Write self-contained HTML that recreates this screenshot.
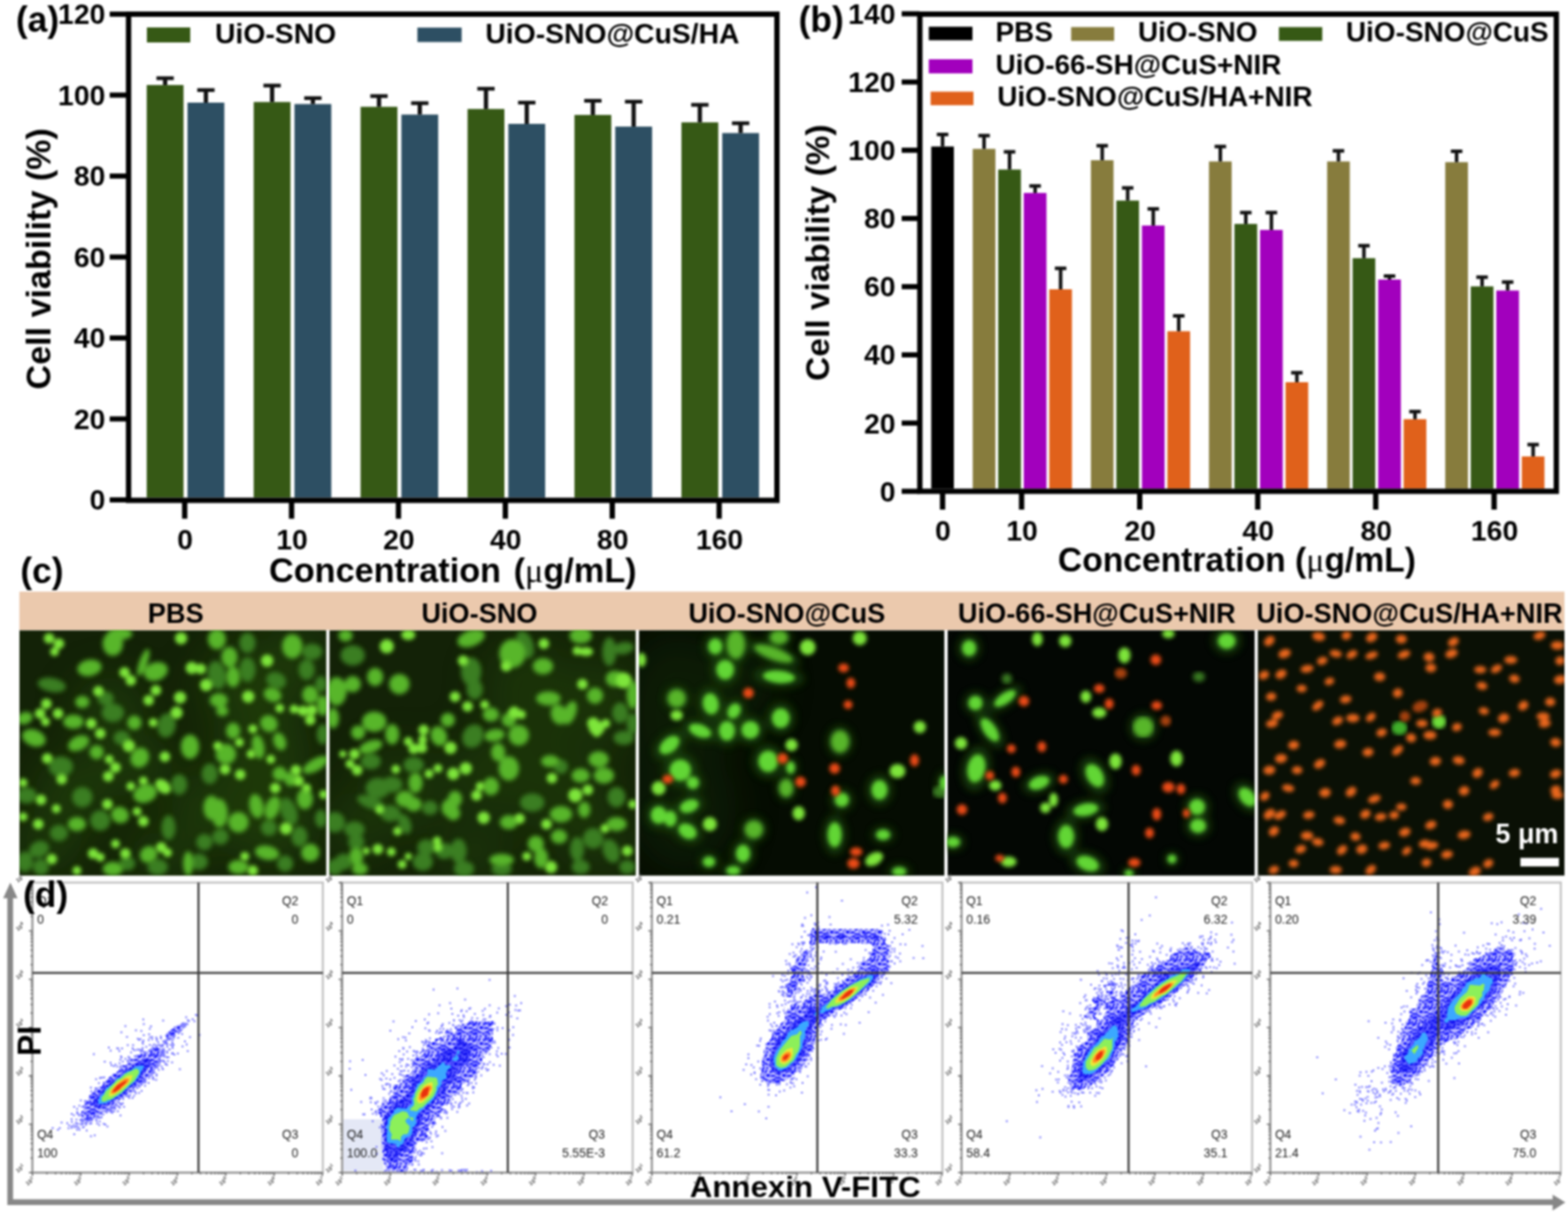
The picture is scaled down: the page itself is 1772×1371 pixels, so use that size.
<!DOCTYPE html>
<html><head><meta charset="utf-8"><title>Figure</title><style>
html,body{margin:0;padding:0;background:#fff;width:1772px;height:1371px;overflow:hidden}
svg{display:block}
#fig{position:absolute;left:0;top:0;width:1772px;height:1371px;filter:blur(0.8px)}
text{font-family:"Liberation Sans",Arial,sans-serif;font-weight:bold}
</style></head><body>
<div id="fig"><svg width="1772" height="1371" viewBox="0 0 1772 1371">
<rect x="165.8" y="96.1" width="41.6" height="466.4" fill="#365915"/>
<rect x="184.2" y="88.4" width="4.8" height="7.7" fill="#111"/>
<rect x="176.8" y="86.3" width="19.6" height="4.2" fill="#111"/>
<rect x="211.9" y="116" width="41.6" height="446.5" fill="#2d4f63"/>
<rect x="230.3" y="101.8" width="4.8" height="14.2" fill="#111"/>
<rect x="222.9" y="99.7" width="19.6" height="4.2" fill="#111"/>
<rect x="286.7" y="115.3" width="41.6" height="447.2" fill="#365915"/>
<rect x="305.1" y="96.7" width="4.8" height="18.6" fill="#111"/>
<rect x="297.7" y="94.6" width="19.6" height="4.2" fill="#111"/>
<rect x="332.8" y="117.6" width="41.6" height="444.9" fill="#2d4f63"/>
<rect x="351.2" y="110.9" width="4.8" height="6.7" fill="#111"/>
<rect x="343.8" y="108.8" width="19.6" height="4.2" fill="#111"/>
<rect x="407.5" y="120.7" width="41.6" height="441.8" fill="#365915"/>
<rect x="425.9" y="108.6" width="4.8" height="12.1" fill="#111"/>
<rect x="418.5" y="106.5" width="19.6" height="4.2" fill="#111"/>
<rect x="453.6" y="129.5" width="41.6" height="433" fill="#2d4f63"/>
<rect x="472" y="116.6" width="4.8" height="12.9" fill="#111"/>
<rect x="464.6" y="114.5" width="19.6" height="4.2" fill="#111"/>
<rect x="528.4" y="123.2" width="41.6" height="439.3" fill="#365915"/>
<rect x="546.8" y="100.3" width="4.8" height="22.9" fill="#111"/>
<rect x="539.4" y="98.2" width="19.6" height="4.2" fill="#111"/>
<rect x="574.5" y="140" width="41.6" height="422.5" fill="#2d4f63"/>
<rect x="592.9" y="116" width="4.8" height="24" fill="#111"/>
<rect x="585.5" y="113.9" width="19.6" height="4.2" fill="#111"/>
<rect x="649.2" y="129.9" width="41.6" height="432.6" fill="#365915"/>
<rect x="667.6" y="113.9" width="4.8" height="16" fill="#111"/>
<rect x="660.2" y="111.8" width="19.6" height="4.2" fill="#111"/>
<rect x="695.3" y="143.1" width="41.6" height="419.4" fill="#2d4f63"/>
<rect x="713.7" y="114.9" width="4.8" height="28.2" fill="#111"/>
<rect x="706.3" y="112.8" width="19.6" height="4.2" fill="#111"/>
<rect x="770.1" y="138.3" width="41.6" height="424.2" fill="#365915"/>
<rect x="788.5" y="118.5" width="4.8" height="19.8" fill="#111"/>
<rect x="781.1" y="116.4" width="19.6" height="4.2" fill="#111"/>
<rect x="816.2" y="150.4" width="41.6" height="412.1" fill="#2d4f63"/>
<rect x="834.6" y="139.3" width="4.8" height="11.1" fill="#111"/>
<rect x="827.2" y="137.2" width="19.6" height="4.2" fill="#111"/>
<rect x="145.3" y="16" width="732.7" height="549.5" fill="none" stroke="#000" stroke-width="6"/>
<rect x="124" y="13.1" width="20" height="5.8" fill="#000"/>
<text x="119" y="27.3" text-anchor="end" font-size="32">120</text>
<rect x="124" y="104.6" width="20" height="5.8" fill="#000"/>
<text x="119" y="118.8" text-anchor="end" font-size="32">100</text>
<rect x="124" y="196.1" width="20" height="5.8" fill="#000"/>
<text x="119" y="210.3" text-anchor="end" font-size="32">80</text>
<rect x="124" y="287.6" width="20" height="5.8" fill="#000"/>
<text x="119" y="301.8" text-anchor="end" font-size="32">60</text>
<rect x="124" y="379.1" width="20" height="5.8" fill="#000"/>
<text x="119" y="393.3" text-anchor="end" font-size="32">40</text>
<rect x="124" y="470.6" width="20" height="5.8" fill="#000"/>
<text x="119" y="484.8" text-anchor="end" font-size="32">20</text>
<rect x="124" y="562.1" width="20" height="5.8" fill="#000"/>
<text x="119" y="576.3" text-anchor="end" font-size="32">0</text>
<rect x="205.7" y="565" width="6" height="21.3" fill="#000"/>
<text x="209.2" y="620.5" text-anchor="middle" font-size="32">0</text>
<rect x="326.5" y="565" width="6" height="21.3" fill="#000"/>
<text x="330" y="620.5" text-anchor="middle" font-size="32">10</text>
<rect x="447.3" y="565" width="6" height="21.3" fill="#000"/>
<text x="450.8" y="620.5" text-anchor="middle" font-size="32">20</text>
<rect x="568.1" y="565" width="6" height="21.3" fill="#000"/>
<text x="571.6" y="620.5" text-anchor="middle" font-size="32">40</text>
<rect x="688.9" y="565" width="6" height="21.3" fill="#000"/>
<text x="692.4" y="620.5" text-anchor="middle" font-size="32">80</text>
<rect x="809.7" y="565" width="6" height="21.3" fill="#000"/>
<text x="813.2" y="620.5" text-anchor="middle" font-size="32">160</text>
<rect x="166" y="31" width="49" height="17" fill="#365915"/>
<text x="243" y="49" font-size="32">UiO-SNO</text>
<rect x="471.7" y="31.2" width="50" height="16.3" fill="#2d4f63"/>
<text x="548.5" y="49" font-size="32">UiO-SNO@CuS/HA</text>
<text x="18" y="36" font-size="40">(a)</text>
<text transform="translate(57,292.5) rotate(-90)" text-anchor="middle" font-size="38.5">Cell viability (%)</text>
<text x="304" y="657.5" font-size="38.7">Concentration <tspan dx="3.5">(</tspan><tspan font-family="Liberation Serif" font-weight="normal">μ</tspan>g/mL)</text>
<rect x="1052.4" y="165.6" width="25.6" height="386.7" fill="#000"/>
<rect x="1063.2" y="152" width="4" height="13.6" fill="#111"/>
<rect x="1058.7" y="150" width="13" height="4" fill="#111"/>
<rect x="1099.3" y="168.3" width="25.6" height="384" fill="#877c3d"/>
<rect x="1110.1" y="153.3" width="4" height="15" fill="#111"/>
<rect x="1105.6" y="151.3" width="13" height="4" fill="#111"/>
<rect x="1128.1" y="191.6" width="25.6" height="360.7" fill="#365915"/>
<rect x="1138.9" y="171.6" width="4" height="20" fill="#111"/>
<rect x="1134.4" y="169.6" width="13" height="4" fill="#111"/>
<rect x="1157" y="218.1" width="25.6" height="334.2" fill="#a200bd"/>
<rect x="1167.8" y="210.2" width="4" height="7.9" fill="#111"/>
<rect x="1163.3" y="208.2" width="13" height="4" fill="#111"/>
<rect x="1185.8" y="327" width="25.6" height="225.3" fill="#e0611b"/>
<rect x="1196.6" y="303.3" width="4" height="23.7" fill="#111"/>
<rect x="1192.1" y="301.3" width="13" height="4" fill="#111"/>
<rect x="1232.8" y="181.1" width="25.6" height="371.2" fill="#877c3d"/>
<rect x="1243.6" y="164.7" width="4" height="16.4" fill="#111"/>
<rect x="1239.1" y="162.7" width="13" height="4" fill="#111"/>
<rect x="1261.6" y="226.7" width="25.6" height="325.6" fill="#365915"/>
<rect x="1272.4" y="212.4" width="4" height="14.3" fill="#111"/>
<rect x="1267.9" y="210.4" width="13" height="4" fill="#111"/>
<rect x="1290.5" y="254.9" width="25.6" height="297.4" fill="#a200bd"/>
<rect x="1301.3" y="236.1" width="4" height="18.8" fill="#111"/>
<rect x="1296.8" y="234.1" width="13" height="4" fill="#111"/>
<rect x="1319.3" y="374.4" width="25.6" height="177.9" fill="#e0611b"/>
<rect x="1330.1" y="357" width="4" height="17.4" fill="#111"/>
<rect x="1325.6" y="355" width="13" height="4" fill="#111"/>
<rect x="1366.3" y="182.5" width="25.6" height="369.8" fill="#877c3d"/>
<rect x="1377.1" y="165.6" width="4" height="16.9" fill="#111"/>
<rect x="1372.6" y="163.6" width="13" height="4" fill="#111"/>
<rect x="1395.1" y="253.1" width="25.6" height="299.2" fill="#365915"/>
<rect x="1405.9" y="240.3" width="4" height="12.8" fill="#111"/>
<rect x="1401.4" y="238.3" width="13" height="4" fill="#111"/>
<rect x="1424" y="259.9" width="25.6" height="292.4" fill="#a200bd"/>
<rect x="1434.8" y="240.3" width="4" height="19.6" fill="#111"/>
<rect x="1430.3" y="238.3" width="13" height="4" fill="#111"/>
<rect x="1452.8" y="432" width="25.6" height="120.3" fill="#e0611b"/>
<rect x="1463.6" y="421.3" width="4" height="10.7" fill="#111"/>
<rect x="1459.1" y="419.3" width="13" height="4" fill="#111"/>
<rect x="1499.8" y="182.5" width="25.6" height="369.8" fill="#877c3d"/>
<rect x="1510.6" y="170.5" width="4" height="12" fill="#111"/>
<rect x="1506.1" y="168.5" width="13" height="4" fill="#111"/>
<rect x="1528.6" y="291.8" width="25.6" height="260.5" fill="#365915"/>
<rect x="1539.4" y="277.7" width="4" height="14.1" fill="#111"/>
<rect x="1534.9" y="275.7" width="13" height="4" fill="#111"/>
<rect x="1557.5" y="316" width="25.6" height="236.3" fill="#a200bd"/>
<rect x="1568.3" y="312" width="4" height="4" fill="#111"/>
<rect x="1563.8" y="310" width="13" height="4" fill="#111"/>
<rect x="1586.3" y="473.8" width="25.6" height="78.5" fill="#e0611b"/>
<rect x="1597.1" y="465.2" width="4" height="8.6" fill="#111"/>
<rect x="1592.6" y="463.2" width="13" height="4" fill="#111"/>
<rect x="1633.3" y="183.3" width="25.6" height="369" fill="#877c3d"/>
<rect x="1644.1" y="171" width="4" height="12.3" fill="#111"/>
<rect x="1639.6" y="169" width="13" height="4" fill="#111"/>
<rect x="1662.1" y="323.7" width="25.6" height="228.6" fill="#365915"/>
<rect x="1672.9" y="313.3" width="4" height="10.4" fill="#111"/>
<rect x="1668.4" y="311.3" width="13" height="4" fill="#111"/>
<rect x="1691" y="328.4" width="25.6" height="223.9" fill="#a200bd"/>
<rect x="1701.8" y="318.8" width="4" height="9.6" fill="#111"/>
<rect x="1697.3" y="316.8" width="13" height="4" fill="#111"/>
<rect x="1719.8" y="515.9" width="25.6" height="36.4" fill="#e0611b"/>
<rect x="1730.6" y="502.5" width="4" height="13.4" fill="#111"/>
<rect x="1726.1" y="500.5" width="13" height="4" fill="#111"/>
<rect x="1039.5" y="16" width="719.3" height="539.3" fill="none" stroke="#000" stroke-width="6"/>
<rect x="1019" y="552.4" width="20" height="5.8" fill="#000"/>
<text x="1012" y="566.6" text-anchor="end" font-size="32">0</text>
<rect x="1019" y="475.3" width="20" height="5.8" fill="#000"/>
<text x="1012" y="489.5" text-anchor="end" font-size="32">20</text>
<rect x="1019" y="398.2" width="20" height="5.8" fill="#000"/>
<text x="1012" y="412.4" text-anchor="end" font-size="32">40</text>
<rect x="1019" y="321.1" width="20" height="5.8" fill="#000"/>
<text x="1012" y="335.3" text-anchor="end" font-size="32">60</text>
<rect x="1019" y="244" width="20" height="5.8" fill="#000"/>
<text x="1012" y="258.2" text-anchor="end" font-size="32">80</text>
<rect x="1019" y="166.9" width="20" height="5.8" fill="#000"/>
<text x="1012" y="181.1" text-anchor="end" font-size="32">100</text>
<rect x="1019" y="89.8" width="20" height="5.8" fill="#000"/>
<text x="1012" y="104" text-anchor="end" font-size="32">120</text>
<rect x="1019" y="12.7" width="20" height="5.8" fill="#000"/>
<text x="1012" y="26.9" text-anchor="end" font-size="32">140</text>
<rect x="1062.2" y="555" width="6" height="21" fill="#000"/>
<text x="1065.7" y="611" text-anchor="middle" font-size="32">0</text>
<rect x="1151.5" y="555" width="6" height="21" fill="#000"/>
<text x="1155" y="611" text-anchor="middle" font-size="32">10</text>
<rect x="1285" y="555" width="6" height="21" fill="#000"/>
<text x="1288.5" y="611" text-anchor="middle" font-size="32">20</text>
<rect x="1418.4" y="555" width="6" height="21" fill="#000"/>
<text x="1421.9" y="611" text-anchor="middle" font-size="32">40</text>
<rect x="1551.7" y="555" width="6" height="21" fill="#000"/>
<text x="1555.2" y="611" text-anchor="middle" font-size="32">80</text>
<rect x="1685.5" y="555" width="6" height="21" fill="#000"/>
<text x="1689" y="611" text-anchor="middle" font-size="32">160</text>
<rect x="1049.6" y="30.2" width="49.4" height="15.3" fill="#000"/>
<text x="1125" y="47" font-size="31.6">PBS</text>
<rect x="1210.5" y="30.6" width="48.6" height="15.6" fill="#877c3d"/>
<text x="1286" y="47" font-size="31.6">UiO-SNO</text>
<rect x="1445.3" y="30.6" width="49" height="15.6" fill="#365915"/>
<text x="1521" y="47" font-size="31.6">UiO-SNO@CuS</text>
<rect x="1049.6" y="67" width="49.4" height="15.9" fill="#a200bd"/>
<text x="1125" y="84" font-size="31.6">UiO-66-SH@CuS+NIR</text>
<rect x="1051.7" y="103.6" width="48.4" height="15.3" fill="#e0611b"/>
<text x="1127" y="120" font-size="31.6">UiO-SNO@CuS/HA+NIR</text>
<text x="902.5" y="36.3" font-size="40">(b)</text>
<text transform="translate(936.5,285.5) rotate(-90)" text-anchor="middle" font-size="37.8">Cell viability (%)</text>
<text x="1195.5" y="645.5" font-size="38">Concentration (<tspan font-family="Liberation Serif" font-weight="normal">μ</tspan>g/mL)</text>
<defs><filter id="cb" x="-2%" y="-2%" width="104%" height="104%"><feGaussianBlur stdDeviation="1.9"/></filter><filter id="hz" x="-30%" y="-30%" width="160%" height="160%"><feGaussianBlur stdDeviation="24"/></filter><filter id="cb2" x="-3%" y="-3%" width="106%" height="106%"><feGaussianBlur stdDeviation="2.8"/></filter><filter id="hl" x="-5%" y="-5%" width="110%" height="110%"><feGaussianBlur stdDeviation="5"/></filter>
<clipPath id="mc0"><rect x="22" y="712.3" width="346.8" height="277.5"/></clipPath>
<clipPath id="mc1"><rect x="372.2" y="712.3" width="346.4" height="277.5"/></clipPath>
<clipPath id="mc2"><rect x="722.1" y="712.3" width="345.3" height="277.5"/></clipPath>
<clipPath id="mc3"><rect x="1070.9" y="712.3" width="347" height="277.5"/></clipPath>
<clipPath id="mc4"><rect x="1421.3" y="712.3" width="346.7" height="277.5"/></clipPath>
</defs>
<rect x="21.9" y="668.7" width="1746.1" height="43.8" fill="#ebc9ad"/>
<rect x="21.9" y="712.3" width="1746.1" height="277.5" fill="#fff"/>
<g clip-path="url(#mc0)">
<rect x="22" y="712.3" width="346.8" height="277.5" fill="#132207"/>
<g filter="url(#hz)" fill="#2a5410" opacity="0.45"><ellipse cx="285.7" cy="773.2" rx="60" ry="50"/><ellipse cx="295.8" cy="854.3" rx="55" ry="60"/><ellipse cx="306" cy="925.3" rx="60" ry="55"/><ellipse cx="224.8" cy="915.1" rx="30" ry="40"/><ellipse cx="123.4" cy="803.6" rx="40" ry="40"/><ellipse cx="82.9" cy="894.9" rx="45" ry="40"/><ellipse cx="153.8" cy="864.4" rx="40" ry="35"/><ellipse cx="52.4" cy="955.7" rx="40" ry="30"/><ellipse cx="184.3" cy="965.8" rx="45" ry="25"/><ellipse cx="336.4" cy="742.7" rx="40" ry="40"/></g>
<g><g fill="#3a7e20" filter="url(#cb2)"><ellipse cx="58.5" cy="774.2" rx="16.1" ry="8" transform="rotate(10 58.5 774.2)"/><ellipse cx="245.1" cy="763" rx="10.3" ry="16.1" transform="rotate(-10 245.1 763)"/><ellipse cx="279.6" cy="726.5" rx="9.2" ry="11.5"/><ellipse cx="279.6" cy="756.9" rx="9.2" ry="13.8"/><ellipse cx="352.6" cy="736.6" rx="11.5" ry="9.2"/><ellipse cx="346.5" cy="756.9" rx="9.2" ry="11.5"/><ellipse cx="312.1" cy="769.1" rx="11.5" ry="9.2" transform="rotate(20 312.1 769.1)"/><ellipse cx="364.8" cy="829.9" rx="6.9" ry="11.5"/><ellipse cx="188.3" cy="819.8" rx="10.3" ry="13.8" transform="rotate(10 188.3 819.8)"/><ellipse cx="137.6" cy="834" rx="9.2" ry="8"/><ellipse cx="127.5" cy="805.6" rx="12.6" ry="10.3"/><ellipse cx="119.4" cy="789.4" rx="9.2" ry="8"/><ellipse cx="68.7" cy="866.5" rx="13.8" ry="11.5"/><ellipse cx="30.1" cy="898.9" rx="11.5" ry="9.2"/><ellipse cx="93" cy="900.9" rx="11.5" ry="11.5"/><ellipse cx="202.5" cy="886.7" rx="9.2" ry="11.5"/><ellipse cx="237" cy="874.6" rx="9.2" ry="11.5"/><ellipse cx="326.3" cy="917.2" rx="9.2" ry="16.1" transform="rotate(-20 326.3 917.2)"/><ellipse cx="113.3" cy="927.3" rx="11.5" ry="11.5"/><ellipse cx="66.6" cy="941.5" rx="10.3" ry="9.2"/><ellipse cx="44.3" cy="959.8" rx="11.5" ry="9.2" transform="rotate(-20 44.3 959.8)"/><ellipse cx="28.1" cy="974" rx="9.2" ry="11.5"/><ellipse cx="46.3" cy="980" rx="9.2" ry="9.2"/><ellipse cx="178.2" cy="980" rx="11.5" ry="9.2"/><ellipse cx="190.4" cy="935.4" rx="8" ry="13.8"/><ellipse cx="322.2" cy="976" rx="9.2" ry="9.2"/><ellipse cx="338.4" cy="945.6" rx="9.2" ry="11.5"/><ellipse cx="303.9" cy="935.4" rx="9.2" ry="9.2"/><ellipse cx="230.9" cy="951.7" rx="9.2" ry="9.2"/><ellipse cx="224.8" cy="974" rx="10.3" ry="9.2"/><ellipse cx="249.2" cy="945.6" rx="9.2" ry="9.2"/><ellipse cx="143.7" cy="976" rx="9.2" ry="8"/><ellipse cx="362.8" cy="925.3" rx="6.9" ry="10.3"/><ellipse cx="362.8" cy="773.2" rx="6.9" ry="9.2"/></g><g fill="#58b62c" filter="url(#cb2)"><ellipse cx="101.1" cy="754.9" rx="13.8" ry="9.2" transform="rotate(-10 101.1 754.9)"/><ellipse cx="127.5" cy="727.5" rx="11.5" ry="13.8"/><ellipse cx="135.6" cy="716.4" rx="13.8" ry="6.9"/><ellipse cx="162" cy="748.8" rx="4.6" ry="16.1" transform="rotate(20 162 748.8)"/><ellipse cx="176.2" cy="759" rx="13.8" ry="10.3" transform="rotate(-20 176.2 759)"/><ellipse cx="245.1" cy="722.4" rx="10.3" ry="11.5"/><ellipse cx="259.3" cy="742.7" rx="9.2" ry="11.5"/><ellipse cx="263.4" cy="765" rx="8" ry="11.5"/><ellipse cx="330.3" cy="730.6" rx="11.5" ry="13.8"/><ellipse cx="308" cy="785.3" rx="10.3" ry="8" transform="rotate(20 308 785.3)"/><ellipse cx="350.6" cy="785.3" rx="9.2" ry="10.3"/><ellipse cx="364.8" cy="797.5" rx="6.9" ry="11.5"/><ellipse cx="247.2" cy="791.4" rx="10.3" ry="8"/><ellipse cx="251.2" cy="803.6" rx="6.9" ry="5.8"/><ellipse cx="303.9" cy="817.8" rx="10.3" ry="9.2" transform="rotate(30 303.9 817.8)"/><ellipse cx="263.4" cy="825.9" rx="8" ry="9.2"/><ellipse cx="316.1" cy="838.1" rx="6.9" ry="10.3" transform="rotate(-20 316.1 838.1)"/><ellipse cx="291.8" cy="844.1" rx="6.9" ry="13.8" transform="rotate(-10 291.8 844.1)"/><ellipse cx="255.3" cy="852.3" rx="11.5" ry="11.5"/><ellipse cx="214.7" cy="844.1" rx="10.3" ry="13.8"/><ellipse cx="151.8" cy="816.8" rx="8" ry="8"/><ellipse cx="157.9" cy="856.3" rx="10.3" ry="11.5" transform="rotate(30 157.9 856.3)"/><ellipse cx="93" cy="793.4" rx="8" ry="6.9"/><ellipse cx="82.9" cy="815.7" rx="11.5" ry="8"/><ellipse cx="38.2" cy="834" rx="13.8" ry="9.2" transform="rotate(20 38.2 834)"/><ellipse cx="28.1" cy="811.7" rx="9.2" ry="6.9" transform="rotate(-20 28.1 811.7)"/><ellipse cx="88.9" cy="840.1" rx="12.6" ry="8" transform="rotate(-25 88.9 840.1)"/><ellipse cx="109.2" cy="850.2" rx="8" ry="8"/><ellipse cx="164" cy="896.9" rx="13.8" ry="10.3" transform="rotate(-20 164 896.9)"/><ellipse cx="239" cy="913.1" rx="9.2" ry="13.8"/><ellipse cx="248.2" cy="919.2" rx="9.2" ry="16.1"/><ellipse cx="269.5" cy="929.3" rx="11.5" ry="11.5"/><ellipse cx="289.7" cy="911.1" rx="8" ry="13.8" transform="rotate(-10 289.7 911.1)"/><ellipse cx="308" cy="913.1" rx="8" ry="13.8" transform="rotate(20 308 913.1)"/><ellipse cx="344.5" cy="903" rx="9.2" ry="11.5"/><ellipse cx="356.7" cy="864.4" rx="16.1" ry="6.9" transform="rotate(-30 356.7 864.4)"/><ellipse cx="316.1" cy="874.6" rx="8" ry="8"/><ellipse cx="328.3" cy="880.7" rx="6.9" ry="8"/><ellipse cx="135.6" cy="921.2" rx="10.3" ry="9.2" transform="rotate(20 135.6 921.2)"/><ellipse cx="86.9" cy="931.4" rx="10.3" ry="8"/><ellipse cx="127.5" cy="982.1" rx="11.5" ry="8"/><ellipse cx="168" cy="965.8" rx="10.3" ry="9.2" transform="rotate(-30 168 965.8)"/><ellipse cx="212.7" cy="976" rx="5.8" ry="13.8"/><ellipse cx="301.9" cy="963.8" rx="13.8" ry="8" transform="rotate(10 301.9 963.8)"/><ellipse cx="269.5" cy="980" rx="11.5" ry="8"/><ellipse cx="350.6" cy="963.8" rx="10.3" ry="10.3"/></g><g fill="#7ee63a" filter="url(#cb)"><ellipse cx="55.5" cy="721.4" rx="6" ry="6"/><ellipse cx="66.6" cy="727.5" rx="6" ry="6"/><ellipse cx="61.6" cy="736.6" rx="5" ry="5"/><ellipse cx="204.6" cy="721.4" rx="7" ry="7"/><ellipse cx="140.7" cy="760" rx="6" ry="6"/><ellipse cx="147.8" cy="769.1" rx="6" ry="6"/><ellipse cx="111.2" cy="781.3" rx="6" ry="6"/><ellipse cx="52.4" cy="795.5" rx="6" ry="6"/><ellipse cx="45.3" cy="806.6" rx="6" ry="6"/><ellipse cx="65.6" cy="806.6" rx="6" ry="6"/><ellipse cx="51.4" cy="815.7" rx="5" ry="5"/><ellipse cx="103.1" cy="817.8" rx="6" ry="6"/><ellipse cx="113.3" cy="828.9" rx="6" ry="6"/><ellipse cx="145.7" cy="843.1" rx="7" ry="7"/><ellipse cx="123.4" cy="858.3" rx="5" ry="5"/><ellipse cx="130.5" cy="867.5" rx="6" ry="6"/><ellipse cx="122.4" cy="877.6" rx="6" ry="6"/><ellipse cx="53.4" cy="857.3" rx="6" ry="6"/><ellipse cx="69.7" cy="880.7" rx="6" ry="6"/><ellipse cx="168" cy="791.4" rx="6" ry="6"/><ellipse cx="176.2" cy="780.3" rx="6" ry="6"/><ellipse cx="203.5" cy="788.4" rx="7" ry="7"/><ellipse cx="199.5" cy="805.6" rx="7" ry="7"/><ellipse cx="173.1" cy="816.8" rx="5" ry="5"/><ellipse cx="216.7" cy="754.9" rx="7" ry="7"/><ellipse cx="226.9" cy="755.9" rx="6" ry="6"/><ellipse cx="233" cy="774.2" rx="7" ry="7"/><ellipse cx="301.9" cy="746.8" rx="7" ry="7"/><ellipse cx="280.6" cy="787.4" rx="7" ry="7"/><ellipse cx="316.1" cy="800.5" rx="5" ry="5"/><ellipse cx="332.3" cy="801.5" rx="5" ry="5"/><ellipse cx="342.5" cy="803.6" rx="6" ry="6"/><ellipse cx="352.6" cy="802.6" rx="6" ry="6"/><ellipse cx="350.6" cy="813.7" rx="6" ry="6"/><ellipse cx="285.7" cy="823.9" rx="5" ry="5"/><ellipse cx="270.5" cy="839.1" rx="5" ry="5"/><ellipse cx="246.1" cy="843.1" rx="5" ry="5"/><ellipse cx="283.7" cy="852.3" rx="5" ry="5"/><ellipse cx="306" cy="858.3" rx="5" ry="5"/><ellipse cx="254.3" cy="869.5" rx="6" ry="6"/><ellipse cx="271.5" cy="875.6" rx="6" ry="6"/><ellipse cx="334.4" cy="870.5" rx="6" ry="6"/><ellipse cx="337.4" cy="882.7" rx="6" ry="6"/><ellipse cx="311" cy="890.8" rx="6" ry="6"/><ellipse cx="365.8" cy="897.9" rx="5" ry="5"/><ellipse cx="323.2" cy="936.4" rx="7" ry="7"/><ellipse cx="186.3" cy="855.3" rx="6" ry="6"/><ellipse cx="162" cy="882.7" rx="5" ry="5"/><ellipse cx="147.8" cy="888.8" rx="5" ry="5"/><ellipse cx="121.4" cy="909.1" rx="6" ry="6"/><ellipse cx="63.6" cy="914.1" rx="5" ry="5"/><ellipse cx="46.3" cy="904" rx="6" ry="6"/><ellipse cx="43.3" cy="931.4" rx="6" ry="6"/><ellipse cx="26.1" cy="923.3" rx="5" ry="5"/><ellipse cx="162" cy="928.3" rx="6" ry="6"/><ellipse cx="154.9" cy="917.2" rx="5" ry="5"/><ellipse cx="58.5" cy="970.9" rx="6" ry="6"/><ellipse cx="86.9" cy="984.1" rx="5" ry="5"/><ellipse cx="105.2" cy="964.8" rx="6" ry="6"/><ellipse cx="113.3" cy="968.9" rx="5" ry="5"/><ellipse cx="130.5" cy="953.7" rx="5" ry="5"/><ellipse cx="141.7" cy="964.8" rx="6" ry="6"/><ellipse cx="182.2" cy="957.7" rx="6" ry="6"/><ellipse cx="189.3" cy="963.8" rx="5" ry="5"/><ellipse cx="276.6" cy="967.9" rx="5" ry="5"/><ellipse cx="285.7" cy="984.1" rx="6" ry="6"/><ellipse cx="26.1" cy="884.7" rx="5" ry="5"/><ellipse cx="346.5" cy="890.8" rx="5" ry="5"/><ellipse cx="184.3" cy="888.8" rx="10" ry="7" transform="rotate(40 184.3 888.8)"/></g></g>
</g>
<g clip-path="url(#mc1)">
<rect x="372.2" y="712.3" width="346.4" height="277.5" fill="#132207"/>
<g filter="url(#hz)" fill="#2a5410" opacity="0.35"><ellipse cx="595.3" cy="773.2" rx="50" ry="50"/><ellipse cx="676.5" cy="793.4" rx="50" ry="50"/><ellipse cx="453.3" cy="894.9" rx="50" ry="50"/><ellipse cx="554.8" cy="874.6" rx="50" ry="50"/><ellipse cx="635.9" cy="894.9" rx="60" ry="50"/><ellipse cx="676.5" cy="955.7" rx="50" ry="30"/><ellipse cx="534.5" cy="965.8" rx="50" ry="30"/><ellipse cx="402.6" cy="935.4" rx="40" ry="40"/><ellipse cx="595.3" cy="834" rx="40" ry="40"/></g>
<g><g fill="#3a7e20" filter="url(#cb2)"><ellipse cx="398.6" cy="740.7" rx="13.8" ry="11.5"/><ellipse cx="418.9" cy="860.4" rx="11.5" ry="9.2"/><ellipse cx="427" cy="890.8" rx="13.8" ry="11.5"/><ellipse cx="443.2" cy="886.7" rx="11.5" ry="9.2"/><ellipse cx="467.5" cy="864.4" rx="11.5" ry="9.2"/><ellipse cx="418.9" cy="907" rx="16.1" ry="6.9" transform="rotate(20 418.9 907)"/><ellipse cx="441.2" cy="919.2" rx="11.5" ry="9.2"/><ellipse cx="457.4" cy="931.4" rx="6.9" ry="11.5" transform="rotate(-20 457.4 931.4)"/><ellipse cx="378.3" cy="929.3" rx="11.5" ry="11.5"/><ellipse cx="400.6" cy="937.5" rx="11.5" ry="9.2"/><ellipse cx="402.6" cy="951.7" rx="9.2" ry="9.2"/><ellipse cx="388.4" cy="974" rx="10.3" ry="9.2"/><ellipse cx="378.3" cy="980" rx="9.2" ry="9.2"/><ellipse cx="481.7" cy="957.7" rx="10.3" ry="9.2"/><ellipse cx="477.7" cy="974" rx="11.5" ry="10.3"/><ellipse cx="502" cy="961.8" rx="10.3" ry="9.2"/><ellipse cx="518.2" cy="961.8" rx="9.2" ry="13.8"/><ellipse cx="524.3" cy="982.1" rx="11.5" ry="9.2"/><ellipse cx="532.4" cy="759" rx="11.5" ry="16.1"/><ellipse cx="536.5" cy="779.2" rx="9.2" ry="11.5"/><ellipse cx="534.5" cy="832" rx="11.5" ry="13.8" transform="rotate(30 534.5 832)"/><ellipse cx="593.3" cy="728.5" rx="9.2" ry="16.1" transform="rotate(-20 593.3 728.5)"/><ellipse cx="688.6" cy="736.6" rx="8" ry="16.1"/><ellipse cx="704.9" cy="732.6" rx="11.5" ry="6.9" transform="rotate(-10 704.9 732.6)"/><ellipse cx="700.8" cy="805.6" rx="9.2" ry="11.5"/><ellipse cx="715" cy="817.8" rx="6.9" ry="11.5"/><ellipse cx="704.9" cy="834" rx="11.5" ry="8"/><ellipse cx="633.9" cy="866.5" rx="8" ry="8"/><ellipse cx="601.4" cy="907" rx="13.8" ry="10.3"/><ellipse cx="696.7" cy="900.9" rx="10.3" ry="11.5"/><ellipse cx="652.1" cy="959.8" rx="8" ry="13.8"/><ellipse cx="670.4" cy="947.6" rx="11.5" ry="11.5"/><ellipse cx="690.7" cy="961.8" rx="9.2" ry="13.8" transform="rotate(-20 690.7 961.8)"/><ellipse cx="566.9" cy="982.1" rx="11.5" ry="8"/><ellipse cx="656.2" cy="980" rx="10.3" ry="8"/><ellipse cx="708.9" cy="980" rx="9.2" ry="8"/><ellipse cx="485.8" cy="913.1" rx="9.2" ry="8"/></g><g fill="#58b62c" filter="url(#cb2)"><ellipse cx="390.5" cy="718.4" rx="8" ry="6.9"/><ellipse cx="672.4" cy="786.3" rx="9.2" ry="9.2"/><ellipse cx="694.7" cy="767.1" rx="10.3" ry="9.2"/><ellipse cx="398.6" cy="773.2" rx="9.2" ry="9.2"/><ellipse cx="423.9" cy="765" rx="9.2" ry="10.3"/><ellipse cx="554.8" cy="807.6" rx="9.2" ry="8"/><ellipse cx="506.1" cy="813.7" rx="8" ry="8"/><ellipse cx="586.2" cy="831" rx="11.5" ry="11.5"/><ellipse cx="558.8" cy="831" rx="11.5" ry="6.9" transform="rotate(-10 558.8 831)"/><ellipse cx="512.2" cy="919.2" rx="8" ry="8"/><ellipse cx="404.7" cy="827.9" rx="8" ry="8"/><ellipse cx="380.3" cy="781.3" rx="11.5" ry="16.1"/><ellipse cx="376.3" cy="811.7" rx="6.9" ry="11.5"/><ellipse cx="422.9" cy="815.7" rx="13.8" ry="11.5"/><ellipse cx="443.2" cy="829.9" rx="8" ry="11.5"/><ellipse cx="451.3" cy="773.2" rx="11.5" ry="11.5"/><ellipse cx="418.9" cy="844.1" rx="13.8" ry="6.9" transform="rotate(-20 418.9 844.1)"/><ellipse cx="469.6" cy="884.7" rx="8" ry="11.5"/><ellipse cx="457.4" cy="903" rx="10.3" ry="9.2"/><ellipse cx="467.5" cy="909.1" rx="9.2" ry="8"/><ellipse cx="402.6" cy="967.9" rx="8" ry="10.3"/><ellipse cx="406.7" cy="982.1" rx="9.2" ry="6.9"/><ellipse cx="495.9" cy="832" rx="9.2" ry="11.5" transform="rotate(-20 495.9 832)"/><ellipse cx="532.4" cy="721.4" rx="16.1" ry="9.2" transform="rotate(-20 532.4 721.4)"/><ellipse cx="508.1" cy="913.1" rx="9.2" ry="10.3"/><ellipse cx="514.2" cy="903" rx="8" ry="9.2"/><ellipse cx="562.9" cy="850.2" rx="8" ry="10.3"/><ellipse cx="575" cy="868.5" rx="11.5" ry="13.8"/><ellipse cx="579.1" cy="738.7" rx="14.9" ry="16.1"/><ellipse cx="613.6" cy="752.9" rx="11.5" ry="9.2"/><ellipse cx="619.7" cy="789.4" rx="13.8" ry="8"/><ellipse cx="631.8" cy="807.6" rx="9.2" ry="11.5" transform="rotate(-20 631.8 807.6)"/><ellipse cx="644" cy="805.6" rx="6.9" ry="13.8" transform="rotate(20 644 805.6)"/><ellipse cx="656.2" cy="718.4" rx="12.6" ry="9.2"/><ellipse cx="715" cy="785.3" rx="6.9" ry="16.1"/><ellipse cx="676.5" cy="858.3" rx="11.5" ry="9.2"/><ellipse cx="682.5" cy="876.6" rx="11.5" ry="9.2"/><ellipse cx="656.2" cy="876.6" rx="10.3" ry="8"/><ellipse cx="621.7" cy="860.4" rx="10.3" ry="6.9"/><ellipse cx="633.9" cy="920.2" rx="12.6" ry="9.2"/><ellipse cx="660.2" cy="915.1" rx="6.9" ry="9.2"/><ellipse cx="696.7" cy="931.4" rx="11.5" ry="8"/><ellipse cx="631.8" cy="945.6" rx="9.2" ry="8"/><ellipse cx="605.5" cy="953.7" rx="9.2" ry="9.2"/><ellipse cx="611.6" cy="969.9" rx="8" ry="11.5"/><ellipse cx="566.9" cy="971.9" rx="13.8" ry="6.9"/><ellipse cx="575" cy="929.3" rx="10.3" ry="8"/><ellipse cx="554.8" cy="888.8" rx="9.2" ry="10.3"/><ellipse cx="575" cy="813.7" rx="8" ry="8"/></g><g fill="#7ee63a" filter="url(#cb)"><ellipse cx="437.1" cy="730.6" rx="8" ry="8"/><ellipse cx="523.3" cy="746.8" rx="6" ry="6"/><ellipse cx="572" cy="752.9" rx="6" ry="6"/><ellipse cx="614.6" cy="727.5" rx="6" ry="6"/><ellipse cx="652.1" cy="735.6" rx="5" ry="5"/><ellipse cx="658.2" cy="736.6" rx="4" ry="4"/><ellipse cx="658.2" cy="773.2" rx="6" ry="6"/><ellipse cx="514.2" cy="787.4" rx="6" ry="6"/><ellipse cx="528.4" cy="798.5" rx="6" ry="6"/><ellipse cx="547.7" cy="796.5" rx="5" ry="5"/><ellipse cx="581.1" cy="805.6" rx="7" ry="7"/><ellipse cx="589.2" cy="807.6" rx="5" ry="5"/><ellipse cx="670.4" cy="817.8" rx="7" ry="7"/><ellipse cx="684.6" cy="817.8" rx="5" ry="5"/><ellipse cx="674.4" cy="827.9" rx="5" ry="5"/><ellipse cx="478.7" cy="824.9" rx="6" ry="6"/><ellipse cx="461.4" cy="838.1" rx="5" ry="5"/><ellipse cx="467.5" cy="846.2" rx="6" ry="6"/><ellipse cx="476.7" cy="845.2" rx="6" ry="6"/><ellipse cx="477.7" cy="836" rx="5" ry="5"/><ellipse cx="509.1" cy="845.2" rx="7" ry="7"/><ellipse cx="387.4" cy="852.3" rx="4" ry="4"/><ellipse cx="400.6" cy="852.3" rx="6" ry="6"/><ellipse cx="395.5" cy="863.4" rx="5" ry="5"/><ellipse cx="403.6" cy="870.5" rx="6" ry="6"/><ellipse cx="447.3" cy="869.5" rx="5" ry="5"/><ellipse cx="484.8" cy="874.6" rx="5" ry="5"/><ellipse cx="494.9" cy="868.5" rx="5" ry="5"/><ellipse cx="512.2" cy="874.6" rx="7" ry="7"/><ellipse cx="526.4" cy="868.5" rx="7" ry="7"/><ellipse cx="623.7" cy="879.6" rx="6" ry="6"/><ellipse cx="542.6" cy="888.8" rx="5" ry="5"/><ellipse cx="538.5" cy="898.9" rx="6" ry="6"/><ellipse cx="650.1" cy="898.9" rx="8" ry="8"/><ellipse cx="664.3" cy="892.8" rx="6" ry="6"/><ellipse cx="546.6" cy="924.3" rx="7" ry="7"/><ellipse cx="587.2" cy="925.3" rx="6" ry="6"/><ellipse cx="617.6" cy="931.4" rx="6" ry="6"/><ellipse cx="715" cy="909.1" rx="5" ry="5"/><ellipse cx="683.6" cy="936.4" rx="5" ry="5"/><ellipse cx="493.9" cy="950.6" rx="5" ry="5"/><ellipse cx="494.9" cy="957.7" rx="5" ry="5"/><ellipse cx="449.3" cy="939.5" rx="5" ry="5"/><ellipse cx="427" cy="959.8" rx="6" ry="6"/><ellipse cx="413.8" cy="961.8" rx="4" ry="4"/><ellipse cx="442.2" cy="962.8" rx="5" ry="5"/><ellipse cx="461.4" cy="967.9" rx="4" ry="4"/><ellipse cx="454.4" cy="977" rx="5" ry="5"/><ellipse cx="595.3" cy="967.9" rx="5" ry="5"/><ellipse cx="622.7" cy="980" rx="7" ry="7"/><ellipse cx="708.9" cy="961.8" rx="6" ry="6"/><ellipse cx="429" cy="915.1" rx="5" ry="5"/><ellipse cx="461.4" cy="717.4" rx="8" ry="6"/><ellipse cx="662.3" cy="736.6" rx="8" ry="5"/><ellipse cx="704.9" cy="769.1" rx="9" ry="9"/><ellipse cx="674.4" cy="822.8" rx="9" ry="8"/></g></g>
</g>
<g clip-path="url(#mc2)">
<rect x="722.1" y="712.3" width="345.3" height="277.5" fill="#050c02"/>
<g filter="url(#hz)" fill="#1a3a10" opacity="0.35"><ellipse cx="762.7" cy="803.6" rx="60" ry="90"/><ellipse cx="772.8" cy="915.1" rx="60" ry="70"/><ellipse cx="833.7" cy="773.2" rx="40" ry="50"/></g>
<g filter="url(#hl)" fill="#1d4a10" opacity="0.8"><ellipse cx="808.3" cy="730.6" rx="12.8" ry="14.4"/><ellipse cx="831.6" cy="728.5" rx="14.4" ry="22.4"/><ellipse cx="880.3" cy="720.4" rx="14.4" ry="11.2"/><ellipse cx="874.2" cy="738.7" rx="32" ry="9.6" transform="rotate(20 874.2 738.7)"/><ellipse cx="819.5" cy="756.9" rx="16" ry="17.6"/><ellipse cx="880.3" cy="765" rx="28.8" ry="11.2" transform="rotate(5 880.3 765)"/><ellipse cx="764.7" cy="789.4" rx="14.4" ry="14.4"/><ellipse cx="803.2" cy="795.5" rx="14.4" ry="19.2" transform="rotate(-10 803.2 795.5)"/><ellipse cx="829.6" cy="803.6" rx="11.2" ry="14.4" transform="rotate(30 829.6 803.6)"/><ellipse cx="791.1" cy="825.9" rx="20.8" ry="11.2" transform="rotate(20 791.1 825.9)"/><ellipse cx="821.5" cy="825.9" rx="14.4" ry="17.6"/><ellipse cx="847.9" cy="824.9" rx="16" ry="16"/><ellipse cx="882.3" cy="811.7" rx="16" ry="17.6"/><ellipse cx="756.6" cy="842.1" rx="20.8" ry="12.8" transform="rotate(-40 756.6 842.1)"/><ellipse cx="949.3" cy="838.1" rx="14.4" ry="17.6"/><ellipse cx="868.1" cy="860.4" rx="17.6" ry="19.2"/><ellipse cx="893.5" cy="867.5" rx="8" ry="11.2"/><ellipse cx="768.8" cy="870.5" rx="19.2" ry="19.2"/><ellipse cx="783" cy="884.7" rx="11.2" ry="11.2"/><ellipse cx="888.4" cy="890.8" rx="11.2" ry="14.4"/><ellipse cx="993.9" cy="892.8" rx="14.4" ry="17.6"/><ellipse cx="951.3" cy="904" rx="12.8" ry="12.8"/><ellipse cx="778.9" cy="911.1" rx="17.6" ry="11.2" transform="rotate(-20 778.9 911.1)"/><ellipse cx="744.4" cy="921.2" rx="14.4" ry="16"/><ellipse cx="757.6" cy="925.3" rx="11.2" ry="14.4"/><ellipse cx="776.9" cy="939.5" rx="17.6" ry="12.8" transform="rotate(30 776.9 939.5)"/><ellipse cx="851.9" cy="937.5" rx="14.4" ry="14.4"/><ellipse cx="943.2" cy="943.5" rx="12.8" ry="22.4"/><ellipse cx="998" cy="943.5" rx="12.8" ry="9.6"/><ellipse cx="839.7" cy="964.8" rx="12.8" ry="16"/><ellipse cx="801.2" cy="974" rx="11.2" ry="9.6"/><ellipse cx="828.6" cy="984.1" rx="12.8" ry="8"/><ellipse cx="1016.2" cy="985.1" rx="12.8" ry="8"/><ellipse cx="1066.9" cy="884.7" rx="8" ry="12.8"/></g>
<g><g fill="#3a7e20" filter="url(#cb2)"><ellipse cx="1062.9" cy="894.9" rx="9.2" ry="6.9"/></g><g fill="#58b62c" filter="url(#cb2)"><ellipse cx="831.6" cy="728.5" rx="10.3" ry="16.1"/><ellipse cx="880.3" cy="720.4" rx="10.3" ry="8"/><ellipse cx="874.2" cy="738.7" rx="23" ry="6.9" transform="rotate(20 874.2 738.7)"/><ellipse cx="764.7" cy="789.4" rx="10.3" ry="10.3"/><ellipse cx="949.3" cy="838.1" rx="10.3" ry="12.6"/><ellipse cx="888.4" cy="890.8" rx="8" ry="10.3"/><ellipse cx="851.9" cy="937.5" rx="10.3" ry="10.3"/></g><g fill="#62d634" filter="url(#cb)"><ellipse cx="808.3" cy="730.6" rx="8" ry="9"/><ellipse cx="819.5" cy="756.9" rx="10" ry="11"/><ellipse cx="880.3" cy="765" rx="18" ry="7" transform="rotate(5 880.3 765)"/><ellipse cx="803.2" cy="795.5" rx="9" ry="12" transform="rotate(-10 803.2 795.5)"/><ellipse cx="829.6" cy="803.6" rx="7" ry="9" transform="rotate(30 829.6 803.6)"/><ellipse cx="791.1" cy="825.9" rx="13" ry="7" transform="rotate(20 791.1 825.9)"/><ellipse cx="821.5" cy="825.9" rx="9" ry="11"/><ellipse cx="847.9" cy="824.9" rx="10" ry="10"/><ellipse cx="882.3" cy="811.7" rx="10" ry="11"/><ellipse cx="756.6" cy="842.1" rx="13" ry="8" transform="rotate(-40 756.6 842.1)"/><ellipse cx="868.1" cy="860.4" rx="11" ry="12"/><ellipse cx="893.5" cy="867.5" rx="5" ry="7"/><ellipse cx="768.8" cy="870.5" rx="12" ry="12"/><ellipse cx="783" cy="884.7" rx="7" ry="7"/><ellipse cx="993.9" cy="892.8" rx="9" ry="11"/><ellipse cx="951.3" cy="904" rx="8" ry="8"/><ellipse cx="778.9" cy="911.1" rx="11" ry="7" transform="rotate(-20 778.9 911.1)"/><ellipse cx="744.4" cy="921.2" rx="9" ry="10"/><ellipse cx="757.6" cy="925.3" rx="7" ry="9"/><ellipse cx="776.9" cy="939.5" rx="11" ry="8" transform="rotate(30 776.9 939.5)"/><ellipse cx="943.2" cy="943.5" rx="8" ry="14"/><ellipse cx="998" cy="943.5" rx="8" ry="6"/><ellipse cx="839.7" cy="964.8" rx="8" ry="10"/><ellipse cx="801.2" cy="974" rx="7" ry="6"/><ellipse cx="828.6" cy="984.1" rx="8" ry="5"/><ellipse cx="1016.2" cy="985.1" rx="8" ry="5"/><ellipse cx="1066.9" cy="884.7" rx="5" ry="8"/></g><g fill="#7ee63a" filter="url(#cb)"><ellipse cx="912.8" cy="731.6" rx="9" ry="9"/><ellipse cx="971.6" cy="721.4" rx="8" ry="8"/><ellipse cx="725.1" cy="745.8" rx="5" ry="8"/><ellipse cx="764.7" cy="808.6" rx="7" ry="6"/><ellipse cx="894.5" cy="842.1" rx="7" ry="7"/><ellipse cx="1039.5" cy="821.8" rx="7" ry="7"/><ellipse cx="744.4" cy="890.8" rx="8" ry="8"/><ellipse cx="1014.2" cy="871.5" rx="9" ry="8"/><ellipse cx="802.2" cy="931.4" rx="8" ry="8"/><ellipse cx="902.6" cy="919.2" rx="7" ry="8"/><ellipse cx="987.8" cy="970.9" rx="11" ry="7" transform="rotate(-30 987.8 970.9)"/></g><g fill="#ee4c16" filter="url(#cb)"><ellipse cx="953.3" cy="754.9" rx="6" ry="5"/><ellipse cx="961.5" cy="772.1" rx="5" ry="6"/><ellipse cx="958.4" cy="796.5" rx="5" ry="5"/><ellipse cx="845.8" cy="783.3" rx="6" ry="6"/><ellipse cx="884.4" cy="857.3" rx="6" ry="6"/><ellipse cx="904.7" cy="883.7" rx="6" ry="6"/><ellipse cx="943.2" cy="868.5" rx="6" ry="6"/><ellipse cx="944.2" cy="893.8" rx="5" ry="6"/><ellipse cx="754.6" cy="880.7" rx="6" ry="5"/><ellipse cx="1033.5" cy="859.4" rx="5" ry="7"/><ellipse cx="967.5" cy="962.8" rx="7" ry="5"/><ellipse cx="964.5" cy="976" rx="7" ry="6"/></g></g>
</g>
<g clip-path="url(#mc3)">
<rect x="1070.9" y="712.3" width="347" height="277.5" fill="#030703"/>
<g filter="url(#hl)" fill="#1d4a10" opacity="0.8"><ellipse cx="1095.2" cy="732.6" rx="12.8" ry="14.4"/><ellipse cx="1386.3" cy="724.5" rx="16" ry="14.4"/><ellipse cx="1102.3" cy="794.5" rx="12.8" ry="12.8"/><ellipse cx="1135.8" cy="789.4" rx="22.4" ry="9.6" transform="rotate(-35 1135.8 789.4)"/><ellipse cx="1118.6" cy="824.9" rx="11.2" ry="24" transform="rotate(-35 1118.6 824.9)"/><ellipse cx="1292" cy="821.8" rx="16" ry="16"/><ellipse cx="1103.4" cy="868.5" rx="16" ry="25.6" transform="rotate(10 1103.4 868.5)"/><ellipse cx="1174.3" cy="884.7" rx="19.2" ry="11.2" transform="rotate(-20 1174.3 884.7)"/><ellipse cx="1237.2" cy="876.6" rx="14.4" ry="22.4" transform="rotate(-30 1237.2 876.6)"/><ellipse cx="1409.6" cy="900.9" rx="12.8" ry="19.2" transform="rotate(-40 1409.6 900.9)"/><ellipse cx="1227.1" cy="915.1" rx="22.4" ry="11.2" transform="rotate(-10 1227.1 915.1)"/><ellipse cx="1352.8" cy="912.1" rx="14.4" ry="14.4"/><ellipse cx="1353.9" cy="933.4" rx="14.4" ry="12.8"/><ellipse cx="1204.8" cy="945.6" rx="14.4" ry="20.8"/><ellipse cx="1077" cy="951.7" rx="12.8" ry="9.6"/><ellipse cx="1229.1" cy="976" rx="20.8" ry="12.8" transform="rotate(20 1229.1 976)"/><ellipse cx="1324.4" cy="970.9" rx="8" ry="8"/><ellipse cx="1275.8" cy="987.1" rx="8" ry="6.4"/></g>
<g><g fill="#3a7e20" filter="url(#cb2)"><ellipse cx="1137.8" cy="767.1" rx="5.8" ry="5.8"/><ellipse cx="1354.9" cy="765" rx="6.9" ry="5.8"/></g><g fill="#58b62c" filter="url(#cb2)"><ellipse cx="1292" cy="821.8" rx="11.5" ry="11.5"/></g><g fill="#62d634" filter="url(#cb)"><ellipse cx="1095.2" cy="732.6" rx="8" ry="9"/><ellipse cx="1386.3" cy="724.5" rx="10" ry="9"/><ellipse cx="1102.3" cy="794.5" rx="8" ry="8"/><ellipse cx="1135.8" cy="789.4" rx="14" ry="6" transform="rotate(-35 1135.8 789.4)"/><ellipse cx="1118.6" cy="824.9" rx="7" ry="15" transform="rotate(-35 1118.6 824.9)"/><ellipse cx="1103.4" cy="868.5" rx="10" ry="16" transform="rotate(10 1103.4 868.5)"/><ellipse cx="1174.3" cy="884.7" rx="12" ry="7" transform="rotate(-20 1174.3 884.7)"/><ellipse cx="1237.2" cy="876.6" rx="9" ry="14" transform="rotate(-30 1237.2 876.6)"/><ellipse cx="1409.6" cy="900.9" rx="8" ry="12" transform="rotate(-40 1409.6 900.9)"/><ellipse cx="1227.1" cy="915.1" rx="14" ry="7" transform="rotate(-10 1227.1 915.1)"/><ellipse cx="1352.8" cy="912.1" rx="9" ry="9"/><ellipse cx="1353.9" cy="933.4" rx="9" ry="8"/><ellipse cx="1204.8" cy="945.6" rx="9" ry="13"/><ellipse cx="1077" cy="951.7" rx="8" ry="6"/><ellipse cx="1229.1" cy="976" rx="13" ry="8" transform="rotate(20 1229.1 976)"/><ellipse cx="1324.4" cy="970.9" rx="5" ry="5"/><ellipse cx="1275.8" cy="987.1" rx="5" ry="4"/></g><g fill="#7ee63a" filter="url(#cb)"><ellipse cx="1172.3" cy="722.4" rx="6" ry="8"/><ellipse cx="1203.8" cy="724.5" rx="7" ry="7"/><ellipse cx="1270.7" cy="740.7" rx="7" ry="9"/><ellipse cx="1320.4" cy="716.4" rx="7" ry="5"/><ellipse cx="1227.1" cy="787.4" rx="6" ry="7"/><ellipse cx="1242.3" cy="805.6" rx="8" ry="6"/><ellipse cx="1086.1" cy="840.1" rx="7" ry="7"/><ellipse cx="1124.7" cy="887.8" rx="7" ry="6"/><ellipse cx="1260.6" cy="860.4" rx="7" ry="9"/><ellipse cx="1329.5" cy="857.3" rx="7" ry="9"/><ellipse cx="1190.6" cy="904" rx="5" ry="8"/><ellipse cx="1181.4" cy="913.1" rx="6" ry="6"/><ellipse cx="1245.3" cy="931.4" rx="7" ry="8"/><ellipse cx="1139.9" cy="974" rx="9" ry="6"/></g><g fill="#a8420f" filter="url(#cb)"><ellipse cx="1266.6" cy="761" rx="7" ry="6"/><ellipse cx="1317.4" cy="814.7" rx="6" ry="6"/></g><g fill="#ee4c16" filter="url(#cb)"><ellipse cx="1306.2" cy="745.8" rx="6" ry="6"/><ellipse cx="1242.3" cy="778.2" rx="6" ry="5"/><ellipse cx="1157.1" cy="792.4" rx="6" ry="6"/><ellipse cx="1253.5" cy="795.5" rx="5" ry="6"/><ellipse cx="1307.2" cy="797.5" rx="6" ry="5"/><ellipse cx="1142.9" cy="846.2" rx="5" ry="5"/><ellipse cx="1177.4" cy="844.1" rx="5" ry="6"/><ellipse cx="1148" cy="872.5" rx="5" ry="6"/><ellipse cx="1118.6" cy="876.6" rx="5" ry="5"/><ellipse cx="1201.7" cy="880.7" rx="5" ry="5"/><ellipse cx="1283.9" cy="870.5" rx="5" ry="6"/><ellipse cx="1320.4" cy="889.8" rx="7" ry="6"/><ellipse cx="1334.6" cy="891.8" rx="5" ry="6"/><ellipse cx="1132.8" cy="902" rx="5" ry="6"/><ellipse cx="1087.1" cy="915.1" rx="6" ry="6"/><ellipse cx="1307.2" cy="920.2" rx="5" ry="7"/><ellipse cx="1340.7" cy="919.2" rx="4" ry="5"/><ellipse cx="1299.1" cy="941.5" rx="5" ry="6"/><ellipse cx="1281.9" cy="975" rx="7" ry="5"/><ellipse cx="1129.7" cy="969.9" rx="5" ry="4"/></g></g>
</g>
<g clip-path="url(#mc4)">
<rect x="1421.3" y="712.3" width="346.7" height="277.5" fill="#0a1005"/>
<g><g fill="#40b02a" filter="url(#cb)"><ellipse cx="1581.5" cy="822.8" rx="9" ry="8"/></g><g fill="#6ee03a" filter="url(#cb)"><ellipse cx="1626.2" cy="815.7" rx="8" ry="8"/></g><g fill="#a8420f" filter="url(#cb)"><ellipse cx="1604.9" cy="798.5" rx="9" ry="6" transform="rotate(-20 1604.9 798.5)"/><ellipse cx="1587.6" cy="809.7" rx="6" ry="6"/></g><g fill="#ec681c" filter="url(#cb)"><ellipse cx="1434.5" cy="724.5" rx="6.7" ry="4.9" transform="rotate(-40 1434.5 724.5)"/><ellipse cx="1490.3" cy="719.4" rx="7.4" ry="4.9" transform="rotate(10 1490.3 719.4)"/><ellipse cx="1521.7" cy="718.4" rx="5.6" ry="4.6" transform="rotate(-20 1521.7 718.4)"/><ellipse cx="1550.1" cy="720.4" rx="6.8" ry="5.1" transform="rotate(-30 1550.1 720.4)"/><ellipse cx="1583.6" cy="722.4" rx="6.2" ry="5"/><ellipse cx="1642.4" cy="725.5" rx="6.6" ry="4.7" transform="rotate(-30 1642.4 725.5)"/><ellipse cx="1739.8" cy="718.4" rx="7" ry="4.5" transform="rotate(-20 1739.8 718.4)"/><ellipse cx="1451.7" cy="738.7" rx="7.3" ry="4.9" transform="rotate(-20 1451.7 738.7)"/><ellipse cx="1509.5" cy="738.7" rx="7" ry="4.1" transform="rotate(10 1509.5 738.7)"/><ellipse cx="1527.8" cy="739.7" rx="6.7" ry="4.2" transform="rotate(-30 1527.8 739.7)"/><ellipse cx="1550.1" cy="740.7" rx="7.4" ry="4" transform="rotate(-20 1550.1 740.7)"/><ellipse cx="1586.6" cy="739.7" rx="7.4" ry="4.2" transform="rotate(-20 1586.6 739.7)"/><ellipse cx="1615" cy="742.7" rx="6.1" ry="5.2" transform="rotate(10 1615 742.7)"/><ellipse cx="1640.4" cy="738.7" rx="7.3" ry="4.8" transform="rotate(-20 1640.4 738.7)"/><ellipse cx="1760" cy="729.5" rx="7.4" ry="4.8"/><ellipse cx="1494.3" cy="746.8" rx="6.1" ry="4.4" transform="rotate(-20 1494.3 746.8)"/><ellipse cx="1477.1" cy="755.9" rx="7.4" ry="4.3" transform="rotate(-10 1477.1 755.9)"/><ellipse cx="1428.4" cy="763" rx="6.1" ry="4.7" transform="rotate(-30 1428.4 763)"/><ellipse cx="1447.7" cy="762" rx="6.7" ry="4.8" transform="rotate(-30 1447.7 762)"/><ellipse cx="1617" cy="754.9" rx="6.1" ry="5"/><ellipse cx="1672.8" cy="756.9" rx="6.9" ry="4.2"/><ellipse cx="1691.1" cy="755.9" rx="6.9" ry="4.1" transform="rotate(-30 1691.1 755.9)"/><ellipse cx="1707.3" cy="745.8" rx="7.4" ry="4.4"/><ellipse cx="1763.1" cy="746.8" rx="5.5" ry="4.9" transform="rotate(-10 1763.1 746.8)"/><ellipse cx="1559.2" cy="765" rx="6.3" ry="5"/><ellipse cx="1502.4" cy="770.1" rx="5.6" ry="4.2" transform="rotate(-20 1502.4 770.1)"/><ellipse cx="1471" cy="778.2" rx="5.7" ry="4.3"/><ellipse cx="1674.8" cy="775.2" rx="6.2" ry="4.4" transform="rotate(10 1674.8 775.2)"/><ellipse cx="1711.4" cy="767.1" rx="6" ry="4.6" transform="rotate(10 1711.4 767.1)"/><ellipse cx="1763.1" cy="768.1" rx="7" ry="5" transform="rotate(-10 1763.1 768.1)"/><ellipse cx="1579.5" cy="783.3" rx="5.6" ry="5.1" transform="rotate(-30 1579.5 783.3)"/><ellipse cx="1436.5" cy="787.4" rx="5.9" ry="4.6" transform="rotate(-10 1436.5 787.4)"/><ellipse cx="1489.3" cy="797.5" rx="7.3" ry="4.4" transform="rotate(-40 1489.3 797.5)"/><ellipse cx="1520.7" cy="790.4" rx="6.6" ry="4.4" transform="rotate(-10 1520.7 790.4)"/><ellipse cx="1721.5" cy="797.5" rx="6.1" ry="5" transform="rotate(-40 1721.5 797.5)"/><ellipse cx="1751.9" cy="793.4" rx="5.8" ry="4.8"/><ellipse cx="1676.9" cy="803.6" rx="5.8" ry="4.1" transform="rotate(10 1676.9 803.6)"/><ellipse cx="1443.6" cy="808.6" rx="6.6" ry="4.5" transform="rotate(-20 1443.6 808.6)"/><ellipse cx="1437.5" cy="817.8" rx="7" ry="4.4" transform="rotate(-10 1437.5 817.8)"/><ellipse cx="1511.6" cy="814.7" rx="6.4" ry="4.5" transform="rotate(-30 1511.6 814.7)"/><ellipse cx="1528.8" cy="811.7" rx="7.5" ry="4.8"/><ellipse cx="1549.1" cy="810.7" rx="6.2" ry="4.2" transform="rotate(-40 1549.1 810.7)"/><ellipse cx="1606.9" cy="817.8" rx="6.6" ry="4.2"/><ellipse cx="1624.1" cy="805.6" rx="5.7" ry="4.5" transform="rotate(-20 1624.1 805.6)"/><ellipse cx="1646.5" cy="821.8" rx="5.6" ry="4.5" transform="rotate(-20 1646.5 821.8)"/><ellipse cx="1699.2" cy="811.7" rx="6.4" ry="5.2" transform="rotate(-20 1699.2 811.7)"/><ellipse cx="1743.8" cy="809.7" rx="7.5" ry="4.5"/><ellipse cx="1745.8" cy="817.8" rx="6.9" ry="4.4" transform="rotate(-10 1745.8 817.8)"/><ellipse cx="1561.3" cy="827.9" rx="6.1" ry="4.5" transform="rotate(-20 1561.3 827.9)"/><ellipse cx="1594.7" cy="834" rx="5.7" ry="5" transform="rotate(10 1594.7 834)"/><ellipse cx="1616" cy="831" rx="7.4" ry="4.8"/><ellipse cx="1689" cy="827.9" rx="7.2" ry="4.2"/><ellipse cx="1758" cy="839.1" rx="6" ry="4.9" transform="rotate(10 1758 839.1)"/><ellipse cx="1461.9" cy="842.1" rx="6.2" ry="4.9" transform="rotate(-10 1461.9 842.1)"/><ellipse cx="1514.6" cy="841.1" rx="6.9" ry="4.8" transform="rotate(-10 1514.6 841.1)"/><ellipse cx="1546" cy="850.2" rx="6.2" ry="4.8" transform="rotate(-10 1546 850.2)"/><ellipse cx="1579.5" cy="848.2" rx="7.2" ry="4.3" transform="rotate(-40 1579.5 848.2)"/><ellipse cx="1447.7" cy="857.3" rx="6.9" ry="5.1" transform="rotate(-10 1447.7 857.3)"/><ellipse cx="1491.3" cy="863.4" rx="6.8" ry="4.7" transform="rotate(-30 1491.3 863.4)"/><ellipse cx="1622.1" cy="860.4" rx="6.4" ry="4.9" transform="rotate(-10 1622.1 860.4)"/><ellipse cx="1648.5" cy="859.4" rx="6.8" ry="4.6" transform="rotate(10 1648.5 859.4)"/><ellipse cx="1434.5" cy="870.5" rx="6.8" ry="5" transform="rotate(-10 1434.5 870.5)"/><ellipse cx="1465.9" cy="870.5" rx="6" ry="4.4"/><ellipse cx="1669.8" cy="873.6" rx="6.2" ry="5" transform="rotate(-40 1669.8 873.6)"/><ellipse cx="1711.4" cy="873.6" rx="6.4" ry="4.4" transform="rotate(-10 1711.4 873.6)"/><ellipse cx="1758" cy="874.6" rx="6.5" ry="4.6" transform="rotate(-20 1758 874.6)"/><ellipse cx="1599.8" cy="882.7" rx="5.9" ry="4.4"/><ellipse cx="1689" cy="886.7" rx="6.1" ry="4.1" transform="rotate(-40 1689 886.7)"/><ellipse cx="1455.8" cy="890.8" rx="7" ry="4.2" transform="rotate(10 1455.8 890.8)"/><ellipse cx="1497.4" cy="895.9" rx="6.5" ry="5.1" transform="rotate(-10 1497.4 895.9)"/><ellipse cx="1526.8" cy="894.9" rx="6.7" ry="4.9" transform="rotate(-40 1526.8 894.9)"/><ellipse cx="1654.6" cy="893.8" rx="6" ry="5.2" transform="rotate(-20 1654.6 893.8)"/><ellipse cx="1429.4" cy="899.9" rx="5.8" ry="4.5" transform="rotate(-40 1429.4 899.9)"/><ellipse cx="1758" cy="892.8" rx="5.9" ry="4.9" transform="rotate(-20 1758 892.8)"/><ellipse cx="1760" cy="898.9" rx="6.8" ry="4.1"/><ellipse cx="1553.1" cy="903" rx="7.5" ry="4.2" transform="rotate(-20 1553.1 903)"/><ellipse cx="1636.3" cy="909.1" rx="5.7" ry="5.2"/><ellipse cx="1583.6" cy="912.1" rx="5.9" ry="4"/><ellipse cx="1543" cy="920.2" rx="6.2" ry="4.8" transform="rotate(-30 1543 920.2)"/><ellipse cx="1560.2" cy="923.3" rx="6.7" ry="4.3" transform="rotate(-10 1560.2 923.3)"/><ellipse cx="1575.5" cy="921.2" rx="5.5" ry="4.5" transform="rotate(-10 1575.5 921.2)"/><ellipse cx="1434.5" cy="920.2" rx="7.2" ry="5" transform="rotate(-40 1434.5 920.2)"/><ellipse cx="1446.7" cy="921.2" rx="7.2" ry="4.4" transform="rotate(-30 1446.7 921.2)"/><ellipse cx="1479.1" cy="921.2" rx="6.6" ry="4.4" transform="rotate(-10 1479.1 921.2)"/><ellipse cx="1513.6" cy="927.3" rx="6.6" ry="4.4" transform="rotate(10 1513.6 927.3)"/><ellipse cx="1681.9" cy="923.3" rx="6.1" ry="4.4" transform="rotate(-20 1681.9 923.3)"/><ellipse cx="1439.6" cy="939.5" rx="6.3" ry="5" transform="rotate(-40 1439.6 939.5)"/><ellipse cx="1617" cy="932.4" rx="6.6" ry="4.6" transform="rotate(-20 1617 932.4)"/><ellipse cx="1587.6" cy="940.5" rx="6.7" ry="4.7" transform="rotate(-20 1587.6 940.5)"/><ellipse cx="1654.6" cy="943.5" rx="7.4" ry="4.7" transform="rotate(-10 1654.6 943.5)"/><ellipse cx="1477.1" cy="944.6" rx="7.1" ry="4.8"/><ellipse cx="1531.8" cy="945.6" rx="5.7" ry="4.7" transform="rotate(10 1531.8 945.6)"/><ellipse cx="1489.3" cy="951.7" rx="6.6" ry="4.4" transform="rotate(10 1489.3 951.7)"/><ellipse cx="1470" cy="959.8" rx="6.3" ry="4.5" transform="rotate(-20 1470 959.8)"/><ellipse cx="1516.6" cy="960.8" rx="6.5" ry="4.6" transform="rotate(-40 1516.6 960.8)"/><ellipse cx="1538.9" cy="959.8" rx="6.3" ry="5.2" transform="rotate(-20 1538.9 959.8)"/><ellipse cx="1564.3" cy="955.7" rx="6.7" ry="4.3" transform="rotate(-10 1564.3 955.7)"/><ellipse cx="1609.9" cy="953.7" rx="6.5" ry="4.5" transform="rotate(-10 1609.9 953.7)"/><ellipse cx="1618.1" cy="955.7" rx="7.4" ry="4.4" transform="rotate(-10 1618.1 955.7)"/><ellipse cx="1589.7" cy="961.8" rx="5.8" ry="4" transform="rotate(-40 1589.7 961.8)"/><ellipse cx="1635.3" cy="965.8" rx="6.7" ry="4.5" transform="rotate(-10 1635.3 965.8)"/><ellipse cx="1461.9" cy="976" rx="5.6" ry="4.2"/><ellipse cx="1612" cy="975" rx="5.5" ry="4.6" transform="rotate(-10 1612 975)"/><ellipse cx="1681.9" cy="976" rx="6" ry="4.6" transform="rotate(-30 1681.9 976)"/><ellipse cx="1439.6" cy="983.1" rx="6" ry="4.3" transform="rotate(-20 1439.6 983.1)"/><ellipse cx="1509.5" cy="983.1" rx="6.9" ry="4.3"/><ellipse cx="1549.1" cy="983.1" rx="6.7" ry="4.6" transform="rotate(-40 1549.1 983.1)"/><ellipse cx="1666.7" cy="985.1" rx="7.2" ry="5.1" transform="rotate(-30 1666.7 985.1)"/><ellipse cx="1624.1" cy="805.6" rx="5" ry="4"/></g></g>
</g>
<text x="198.6" y="703.8" text-anchor="middle" font-size="30.7">PBS</text>
<text x="541.8" y="703.8" text-anchor="middle" font-size="30.7">UiO-SNO</text>
<text x="889.2" y="703.8" text-anchor="middle" font-size="30.7">UiO-SNO@CuS</text>
<text x="1239.5" y="703.8" text-anchor="middle" font-size="30.7">UiO-66-SH@CuS+NIR</text>
<text x="1592.8" y="703.8" text-anchor="middle" font-size="30.7">UiO-SNO@CuS/HA+NIR</text>
<text x="23" y="658.6" font-size="40">(c)</text>
<text x="1690" y="953.4" font-size="30.5" fill="#fff" style="fill:#fff">5 <tspan font-family="Liberation Sans">μ</tspan>m</text>
<rect x="1718.2" y="969.6" width="43.6" height="9.7" fill="#fff"/>
<defs><filter id="fb" x="-5%" y="-5%" width="110%" height="110%"><feGaussianBlur stdDeviation="0.6"/></filter><pattern id="spk" width="18" height="18" patternUnits="userSpaceOnUse"><rect width="18" height="18" fill="#b8b8ff"/><path d="M17 11h2v2h-2zM12 16h2v2h-2zM10 13h2v2h-2zM15 4h2v2h-2zM0 5h2v2h-2zM5 15h2v2h-2zM16 0h2v2h-2zM8 14h2v2h-2zM2 14h2v2h-2zM2 8h2v2h-2zM14 5h2v2h-2zM6 5h2v2h-2zM12 4h2v2h-2zM17 8h2v2h-2zM8 9h2v2h-2zM10 9h2v2h-2zM9 17h2v2h-2zM14 14h2v2h-2zM12 11h2v2h-2zM6 17h2v2h-2zM8 3h2v2h-2zM15 2h2v2h-2zM15 11h2v2h-2zM2 0h2v2h-2zM8 0h2v2h-2zM2 9h2v2h-2zM17 8h2v2h-2zM14 16h2v2h-2zM14 11h2v2h-2zM7 9h2v2h-2zM4 8h2v2h-2zM6 4h2v2h-2zM17 0h2v2h-2zM1 3h2v2h-2zM17 12h2v2h-2zM15 3h2v2h-2zM12 6h2v2h-2zM8 0h2v2h-2zM11 14h2v2h-2zM11 2h2v2h-2zM9 4h2v2h-2zM17 15h2v2h-2zM3 9h2v2h-2zM16 15h2v2h-2zM12 11h2v2h-2zM0 13h2v2h-2zM8 1h2v2h-2zM4 9h2v2h-2z" fill="#1c1cff"/></pattern><pattern id="spk2" width="18" height="18" patternUnits="userSpaceOnUse" patternTransform="translate(7 5)"><rect width="18" height="18" fill="#5a5aff"/><path d="M17 11h2v2h-2zM12 16h2v2h-2zM10 13h2v2h-2zM15 4h2v2h-2zM0 5h2v2h-2zM5 15h2v2h-2zM16 0h2v2h-2zM8 14h2v2h-2zM2 14h2v2h-2zM2 8h2v2h-2zM14 5h2v2h-2zM6 5h2v2h-2zM12 4h2v2h-2zM17 8h2v2h-2zM8 9h2v2h-2zM10 9h2v2h-2zM9 17h2v2h-2zM14 14h2v2h-2zM12 11h2v2h-2zM6 17h2v2h-2zM8 3h2v2h-2zM15 2h2v2h-2zM15 11h2v2h-2zM2 0h2v2h-2zM8 0h2v2h-2zM2 9h2v2h-2zM17 8h2v2h-2zM14 16h2v2h-2zM14 11h2v2h-2zM7 9h2v2h-2zM4 8h2v2h-2zM6 4h2v2h-2zM17 0h2v2h-2zM1 3h2v2h-2zM17 12h2v2h-2zM15 3h2v2h-2zM12 6h2v2h-2zM8 0h2v2h-2zM11 14h2v2h-2zM11 2h2v2h-2zM9 4h2v2h-2zM17 15h2v2h-2zM3 9h2v2h-2zM16 15h2v2h-2zM12 11h2v2h-2zM0 13h2v2h-2zM8 1h2v2h-2zM4 9h2v2h-2z" fill="#0c0cf0"/></pattern></defs>
<rect x="36.6" y="997.5" width="328.3" height="327.8" fill="#fff" stroke="#c4c4c4" stroke-width="2.4"/>
<g filter="url(#fb)"><path d="M102.8 1242.5h2v2h-2zM85.9 1272.8h2v2h-2zM93.3 1249.2h2v2h-2zM161.5 1169.1h2v2h-2zM95 1243.5h2v2h-2zM156.3 1185.3h2v2h-2zM138.2 1241.2h2v2h-2zM104.6 1242.9h2v2h-2zM125.4 1219.6h2v2h-2zM195.2 1180h2v2h-2zM88.6 1259.5h2v2h-2zM179.2 1199h2v2h-2zM80.2 1271.8h2v2h-2zM193.5 1190.1h2v2h-2zM159.8 1194.6h2v2h-2zM191.8 1180.1h2v2h-2zM167.3 1187.8h2v2h-2zM195.1 1164.7h2v2h-2zM137.8 1246.1h2v2h-2zM117.6 1226.6h2v2h-2zM95.5 1250.9h2v2h-2zM203.7 1159.2h2v2h-2zM190.9 1172.9h2v2h-2zM206.5 1155.5h2v2h-2zM117 1253.4h2v2h-2zM153.3 1228.2h2v2h-2zM183.4 1186.4h2v2h-2zM204.8 1167.7h2v2h-2zM178.7 1186.1h2v2h-2zM127.8 1204h2v2h-2zM114 1230.6h2v2h-2zM189.9 1170.6h2v2h-2zM110.6 1256.7h2v2h-2zM76.4 1274.3h2v2h-2zM174.6 1203.9h2v2h-2zM183.2 1207.5h2v2h-2zM173.4 1206.4h2v2h-2zM166.8 1214.7h2v2h-2zM129.1 1248.1h2v2h-2zM192.2 1167.3h2v2h-2zM117.4 1199h2v2h-2zM93.2 1262.6h2v2h-2zM165.7 1192.5h2v2h-2zM177.4 1188.5h2v2h-2zM200.3 1163.7h2v2h-2zM169.9 1187.9h2v2h-2zM200.4 1172h2v2h-2zM140.2 1206h2v2h-2zM93.8 1264.8h2v2h-2zM106.9 1229.1h2v2h-2zM160.5 1178.8h2v2h-2zM190.7 1184.9h2v2h-2zM140.8 1195.8h2v2h-2zM145.2 1194.7h2v2h-2zM133.8 1250.3h2v2h-2zM179.1 1191.6h2v2h-2zM135.2 1204.2h2v2h-2zM100.7 1241.6h2v2h-2zM92.2 1265.5h2v2h-2zM88.8 1276.1h2v2h-2zM177.5 1183.9h2v2h-2zM107.8 1236.8h2v2h-2zM156.3 1197.6h2v2h-2zM191.4 1165.7h2v2h-2zM103.4 1260.4h2v2h-2zM218.8 1153.3h2v2h-2zM149.7 1200.7h2v2h-2zM141.5 1237.8h2v2h-2zM184.8 1191.4h2v2h-2zM146.1 1236.7h2v2h-2zM97.8 1251.4h2v2h-2zM171.6 1218h2v2h-2zM82.8 1250.1h2v2h-2zM193.6 1176.7h2v2h-2zM178.7 1192.5h2v2h-2zM135.5 1206.4h2v2h-2zM160 1190.7h2v2h-2zM161 1194.6h2v2h-2zM198.1 1165h2v2h-2zM104.5 1235.5h2v2h-2zM179.3 1193.7h2v2h-2zM146.9 1199.2h2v2h-2zM181.8 1190.1h2v2h-2zM189.3 1174.3h2v2h-2zM195.8 1168.1h2v2h-2zM85.4 1264.4h2v2h-2zM211.2 1187.1h2v2h-2zM109.9 1256.6h2v2h-2zM124 1200.2h2v2h-2zM205.3 1181.8h2v2h-2zM93.7 1272.8h2v2h-2zM121 1222.5h2v2h-2zM155.9 1226.1h2v2h-2zM159.6 1221.2h2v2h-2zM176.4 1173.6h2v2h-2zM112.8 1232.3h2v2h-2zM99.4 1264h2v2h-2zM132.9 1244.8h2v2h-2zM216.7 1151h2v2h-2zM192.8 1168.7h2v2h-2zM111.3 1262.6h2v2h-2zM163.7 1217.3h2v2h-2zM166.5 1215.1h2v2h-2zM192.6 1169h2v2h-2zM66.5 1274h2v2h-2zM135.8 1193.1h2v2h-2zM108.4 1234.8h2v2h-2zM186.6 1178.6h2v2h-2zM135.5 1247.8h2v2h-2zM101.5 1239.3h2v2h-2zM158 1224.4h2v2h-2zM179.9 1197.4h2v2h-2zM117.4 1254.7h2v2h-2zM180.5 1193.5h2v2h-2zM116.8 1216.7h2v2h-2zM122.6 1218.4h2v2h-2zM154.4 1192h2v2h-2zM169.9 1190.1h2v2h-2zM175.4 1190.4h2v2h-2zM165.2 1215.3h2v2h-2zM125 1203.1h2v2h-2zM178.2 1192.4h2v2h-2zM194.1 1169.7h2v2h-2zM169.7 1211.4h2v2h-2zM193.5 1199.7h2v2h-2zM172.4 1207.4h2v2h-2zM176.9 1186.4h2v2h-2zM178.9 1192.7h2v2h-2zM129.5 1202.3h2v2h-2zM154.4 1228.8h2v2h-2zM181 1172.5h2v2h-2zM143.1 1198.6h2v2h-2zM98 1243.9h2v2h-2zM88.7 1248.8h2v2h-2zM136.1 1209.1h2v2h-2zM199.9 1162.7h2v2h-2zM90.6 1258.2h2v2h-2zM152.6 1163.6h2v2h-2zM163.4 1220.2h2v2h-2zM147.3 1203.1h2v2h-2zM128.3 1216.5h2v2h-2zM189.5 1173.2h2v2h-2zM168.3 1161.8h2v2h-2zM147.9 1198.6h2v2h-2zM118.1 1226.2h2v2h-2zM92.8 1258.5h2v2h-2zM173.2 1185.3h2v2h-2zM148.4 1200.5h2v2h-2zM175.3 1187.8h2v2h-2zM181.4 1189.9h2v2h-2zM192.5 1166.2h2v2h-2zM183.1 1181.3h2v2h-2zM80.2 1266.9h2v2h-2zM188.2 1173.1h2v2h-2zM178.3 1186.7h2v2h-2zM171 1173.4h2v2h-2zM162.3 1218.1h2v2h-2zM186.6 1169.5h2v2h-2zM159.1 1225h2v2h-2zM173.6 1190.8h2v2h-2zM134.5 1246h2v2h-2zM125.6 1220.6h2v2h-2zM110.9 1257.9h2v2h-2zM158.7 1164.3h2v2h-2zM206 1160.6h2v2h-2zM184.4 1193.3h2v2h-2zM96.7 1268.9h2v2h-2zM167.4 1187.6h2v2h-2zM93.3 1256.6h2v2h-2zM107.8 1231.2h2v2h-2zM195.7 1167.6h2v2h-2zM145.1 1240.1h2v2h-2zM108 1261.2h2v2h-2zM113.3 1257.9h2v2h-2zM145.7 1195h2v2h-2zM112.6 1228h2v2h-2zM97 1276.8h2v2h-2zM151.3 1192.7h2v2h-2zM169.1 1214.5h2v2h-2zM194.2 1173.8h2v2h-2zM148.1 1199.8h2v2h-2zM128.3 1216.7h2v2h-2zM118 1270.1h2v2h-2zM194.2 1165.1h2v2h-2zM58.5 1274.1h2v2h-2zM134.2 1200.7h2v2h-2zM101.7 1249h2v2h-2zM126.6 1216.1h2v2h-2zM100.5 1239.1h2v2h-2zM93.7 1256.9h2v2h-2zM194.5 1166.9h2v2h-2zM110.5 1232.5h2v2h-2zM188.6 1170.6h2v2h-2zM104.6 1240.6h2v2h-2zM195.7 1168.9h2v2h-2zM201.3 1163h2v2h-2zM195.3 1170.9h2v2h-2zM130.3 1246.7h2v2h-2zM107.4 1237.8h2v2h-2zM123.9 1217.2h2v2h-2zM207.6 1159.6h2v2h-2zM92 1250h2v2h-2zM106.4 1236.6h2v2h-2zM154.2 1194.7h2v2h-2zM125.5 1254.7h2v2h-2zM110.5 1256.1h2v2h-2zM178.7 1194h2v2h-2zM128.1 1254.9h2v2h-2zM172.1 1191.3h2v2h-2zM93.7 1258h2v2h-2zM174.6 1205.8h2v2h-2zM178.3 1180.4h2v2h-2zM159.1 1194.6h2v2h-2zM100.6 1265.2h2v2h-2zM181.1 1181.3h2v2h-2zM188.7 1198.2h2v2h-2zM161.2 1175.2h2v2h-2zM152.6 1234.7h2v2h-2zM101.1 1262.5h2v2h-2zM199.6 1159.7h2v2h-2zM97.8 1253.6h2v2h-2zM180.1 1190h2v2h-2zM156 1174.3h2v2h-2zM133.4 1211.2h2v2h-2zM187.9 1193.9h2v2h-2zM195.6 1167.1h2v2h-2zM169.8 1214.5h2v2h-2zM103 1262.9h2v2h-2zM202.3 1207.5h2v2h-2zM147.1 1198.4h2v2h-2zM104.9 1233.7h2v2h-2zM144.4 1197.5h2v2h-2zM177.3 1204.3h2v2h-2zM189.4 1194h2v2h-2zM152.7 1197.1h2v2h-2zM82.9 1280.9h2v2h-2zM103.9 1238.7h2v2h-2zM179 1196.4h2v2h-2zM168.3 1180h2v2h-2zM192.2 1169.4h2v2h-2zM186.4 1174.8h2v2h-2zM148.8 1240.1h2v2h-2zM122.8 1221.5h2v2h-2zM92.6 1273.3h2v2h-2zM105.3 1241.7h2v2h-2zM111.2 1231.9h2v2h-2zM68.6 1267.7h2v2h-2zM94.9 1255h2v2h-2zM181.9 1185.6h2v2h-2zM136 1210.1h2v2h-2zM147.2 1233.3h2v2h-2zM116.2 1269.3h2v2h-2zM205.4 1157.9h2v2h-2zM212.5 1153.1h2v2h-2zM111.7 1266.6h2v2h-2zM187.9 1187.5h2v2h-2zM192.5 1170.1h2v2h-2zM180.6 1192h2v2h-2zM79.8 1273.8h2v2h-2zM108.1 1230h2v2h-2zM108.8 1268.7h2v2h-2zM150.5 1237.6h2v2h-2zM124.4 1255.9h2v2h-2zM197.8 1164h2v2h-2zM182.8 1179.8h2v2h-2zM169.1 1210.8h2v2h-2zM151.2 1231.7h2v2h-2zM101.5 1268.9h2v2h-2zM183.5 1197.6h2v2h-2zM159.7 1185.5h2v2h-2zM88.6 1260.1h2v2h-2zM144.2 1238.3h2v2h-2zM177 1183.5h2v2h-2zM163.3 1218.8h2v2h-2zM90.1 1265.1h2v2h-2zM106.1 1282.2h2v2h-2zM194.2 1183.5h2v2h-2zM170 1192.9h2v2h-2zM89.8 1264.8h2v2h-2zM188 1188.8h2v2h-2zM147.2 1188.4h2v2h-2zM160.3 1220.9h2v2h-2zM102.5 1265.6h2v2h-2zM115.7 1254.6h2v2h-2zM143.8 1198.1h2v2h-2zM194.1 1178.6h2v2h-2zM144.3 1193.4h2v2h-2zM172.6 1209.1h2v2h-2zM162.8 1218.3h2v2h-2zM119.4 1256.6h2v2h-2zM186.1 1201.3h2v2h-2zM199.9 1165.1h2v2h-2zM191.3 1173.7h2v2h-2zM186.1 1202.1h2v2h-2zM183.9 1192.5h2v2h-2zM90.4 1242.8h2v2h-2zM169.4 1185.8h2v2h-2zM204.6 1158.7h2v2h-2zM109.3 1262.1h2v2h-2zM169.6 1210.6h2v2h-2zM94.8 1260.2h2v2h-2zM187 1176.8h2v2h-2zM148.7 1232.2h2v2h-2zM183.8 1199h2v2h-2zM184.9 1177h2v2h-2zM149.4 1180.2h2v2h-2zM168.9 1211.6h2v2h-2zM202.2 1160.6h2v2h-2zM94.4 1257.6h2v2h-2zM113.3 1257.4h2v2h-2zM211.2 1152.2h2v2h-2zM112.6 1256.3h2v2h-2zM158.6 1195.3h2v2h-2zM170.2 1211.6h2v2h-2zM200.7 1167.1h2v2h-2zM168.3 1191.3h2v2h-2zM100.6 1269.1h2v2h-2zM136.9 1184.1h2v2h-2zM136.9 1207.3h2v2h-2zM224.5 1168.8h2v2h-2zM86.3 1255.8h2v2h-2zM95.4 1246.6h2v2h-2zM188 1181.9h2v2h-2zM162.6 1190.2h2v2h-2zM146.6 1204.2h2v2h-2zM89.7 1269.4h2v2h-2zM149.7 1230.1h2v2h-2zM114.4 1216.9h2v2h-2zM97 1246.8h2v2h-2zM172.3 1186.2h2v2h-2zM123 1254.3h2v2h-2zM95.8 1257.2h2v2h-2zM169.4 1187.2h2v2h-2zM177.1 1197.5h2v2h-2zM138.2 1240.1h2v2h-2zM181.1 1187.2h2v2h-2zM131.5 1204.6h2v2h-2zM119.7 1223.6h2v2h-2zM157.4 1194.4h2v2h-2zM121 1254.7h2v2h-2zM179.9 1192.9h2v2h-2zM184.1 1175.7h2v2h-2zM184.2 1190.3h2v2h-2zM123.9 1254h2v2h-2zM220.5 1146h2v2h-2zM95.4 1267.8h2v2h-2zM208 1175.9h2v2h-2zM143.9 1205.9h2v2h-2zM103.4 1260.6h2v2h-2zM103.5 1241h2v2h-2zM163.9 1188.5h2v2h-2zM134.9 1196.8h2v2h-2zM178.9 1187.4h2v2h-2zM126.2 1251.5h2v2h-2zM175.7 1180.6h2v2h-2zM91.5 1267.2h2v2h-2zM95.3 1260.2h2v2h-2zM193.8 1189.2h2v2h-2zM184.7 1198.9h2v2h-2zM116.3 1222.6h2v2h-2zM102 1265.5h2v2h-2zM175.7 1190.2h2v2h-2zM102.2 1232.4h2v2h-2zM144.6 1237.5h2v2h-2zM156.8 1227.2h2v2h-2zM170.8 1187.6h2v2h-2zM139.8 1205.9h2v2h-2zM94.7 1258.6h2v2h-2zM169.1 1192.3h2v2h-2zM94.9 1260.7h2v2h-2zM140.7 1158.8h2v2h-2zM164.3 1182.3h2v2h-2zM171.9 1216.3h2v2h-2zM170.4 1211.3h2v2h-2zM201.8 1160.3h2v2h-2zM192.5 1165.2h2v2h-2zM210.9 1156.5h2v2h-2zM124.9 1250.9h2v2h-2zM175.5 1171.7h2v2h-2zM93.1 1260.7h2v2h-2zM111.1 1270.5h2v2h-2zM86 1275.8h2v2h-2zM77.1 1271.1h2v2h-2zM96.4 1252.5h2v2h-2zM96.4 1256.9h2v2h-2zM103 1264.5h2v2h-2zM135.2 1259.8h2v2h-2zM105.1 1190.4h2v2h-2zM101.8 1283.3h2v2h-2zM163.5 1221.5h2v2h-2zM172.7 1188.2h2v2h-2zM95.7 1259.9h2v2h-2zM210 1179.5h2v2h-2zM129.6 1215.7h2v2h-2zM200 1189.8h2v2h-2zM94.3 1257.2h2v2h-2zM86.2 1252.2h2v2h-2zM102.2 1263.6h2v2h-2zM92.7 1269h2v2h-2zM188.2 1178.8h2v2h-2zM171.4 1181.4h2v2h-2zM113.9 1231.4h2v2h-2zM169.6 1159h2v2h-2zM163.2 1222.6h2v2h-2zM183.6 1185.5h2v2h-2zM181.1 1181.5h2v2h-2zM99.7 1247.7h2v2h-2zM132.2 1255.1h2v2h-2zM113.1 1229.5h2v2h-2zM161.9 1221.4h2v2h-2zM196.1 1191h2v2h-2zM168.5 1214.7h2v2h-2zM170.2 1187.1h2v2h-2zM96.5 1243.7h2v2h-2zM124.5 1251.7h2v2h-2zM173.7 1211.6h2v2h-2zM186.2 1177.9h2v2h-2zM151.7 1233.3h2v2h-2zM156.2 1234.3h2v2h-2zM137.8 1198.7h2v2h-2zM140.1 1206.6h2v2h-2zM85.5 1271.2h2v2h-2zM196 1163.6h2v2h-2zM208.1 1158.2h2v2h-2zM176.2 1200.7h2v2h-2zM93.6 1265h2v2h-2zM200.5 1160h2v2h-2zM177.8 1177.1h2v2h-2zM99.6 1266.1h2v2h-2zM180.9 1181.8h2v2h-2zM154.7 1173.1h2v2h-2zM158.6 1190.2h2v2h-2zM149.8 1199.1h2v2h-2zM181.7 1204.5h2v2h-2zM167.5 1167.9h2v2h-2zM148.1 1197.2h2v2h-2zM168.2 1187.1h2v2h-2zM162.9 1226.3h2v2h-2zM112 1217.4h2v2h-2zM112.5 1262.1h2v2h-2zM202.6 1164.7h2v2h-2zM97.8 1246.4h2v2h-2zM130.2 1247.2h2v2h-2zM110 1260.6h2v2h-2zM157.8 1173.6h2v2h-2zM179.6 1200.1h2v2h-2zM175.5 1219.6h2v2h-2zM171.9 1211h2v2h-2zM106.8 1236.4h2v2h-2zM175.4 1205.3h2v2h-2zM171.9 1191.1h2v2h-2zM182.8 1189.2h2v2h-2zM148.9 1183.8h2v2h-2zM150.6 1200.9h2v2h-2zM222.5 1146.9h2v2h-2zM190.4 1185.3h2v2h-2zM96.5 1256.3h2v2h-2zM170.8 1171.1h2v2h-2zM133.9 1187.1h2v2h-2zM139.2 1250h2v2h-2zM98 1249.9h2v2h-2zM101.7 1228.3h2v2h-2zM180.7 1170.5h2v2h-2zM173.1 1187.5h2v2h-2zM162 1188h2v2h-2zM188.2 1167.4h2v2h-2zM197 1160.8h2v2h-2zM120.4 1272.2h2v2h-2zM183.6 1175.9h2v2h-2zM131.4 1183.7h2v2h-2zM194.3 1173.9h2v2h-2zM82.7 1270.4h2v2h-2zM173.7 1211.3h2v2h-2zM87 1257.9h2v2h-2zM208.6 1158.5h2v2h-2zM107.6 1264.3h2v2h-2zM160.2 1176.8h2v2h-2zM130.6 1247.2h2v2h-2zM179.9 1185h2v2h-2zM160.2 1183.6h2v2h-2zM127.1 1250.1h2v2h-2zM100.1 1248.5h2v2h-2zM194.3 1168h2v2h-2zM109.6 1233.5h2v2h-2zM172 1190.9h2v2h-2zM162.7 1219.3h2v2h-2zM179.1 1192.9h2v2h-2zM112.2 1217.2h2v2h-2zM197.8 1163h2v2h-2zM102 1244.4h2v2h-2zM132.7 1184.3h2v2h-2zM171.3 1212.8h2v2h-2zM135.1 1205.6h2v2h-2zM179.2 1202.6h2v2h-2zM97.1 1265.7h2v2h-2zM161.5 1156.4h2v2h-2zM194.4 1170.6h2v2h-2zM182 1191.7h2v2h-2zM204.3 1162.9h2v2h-2zM181.8 1186h2v2h-2zM178.9 1180h2v2h-2zM213.7 1171.2h2v2h-2zM195 1161.4h2v2h-2zM143.1 1206.8h2v2h-2zM80 1257.9h2v2h-2zM147.3 1204.6h2v2h-2zM140.3 1205.8h2v2h-2zM109.5 1256.4h2v2h-2zM99.3 1248.7h2v2h-2zM167 1223.1h2v2h-2zM91.2 1264.3h2v2h-2zM185.2 1178.4h2v2h-2zM136.3 1194.2h2v2h-2zM167.2 1217.4h2v2h-2zM157.3 1185.7h2v2h-2zM97.9 1251.9h2v2h-2zM91.9 1269.9h2v2h-2zM97.4 1266.7h2v2h-2zM131.6 1211.5h2v2h-2zM182.8 1207.1h2v2h-2zM189.9 1168.8h2v2h-2zM170.1 1188.7h2v2h-2zM128.8 1250.1h2v2h-2zM173.2 1179.4h2v2h-2zM103.2 1261.9h2v2h-2zM176.7 1204.9h2v2h-2zM100.4 1247.6h2v2h-2zM177.6 1199.7h2v2h-2zM176.8 1205.8h2v2h-2zM125.9 1256.7h2v2h-2zM175.3 1181.8h2v2h-2zM159.4 1223.1h2v2h-2zM160.9 1151.3h2v2h-2zM116.2 1227h2v2h-2zM196.5 1169h2v2h-2zM178.4 1208.3h2v2h-2zM64.5 1276h2v2h-2zM184.1 1184.6h2v2h-2zM153.9 1185.4h2v2h-2zM195.5 1169.7h2v2h-2zM107.6 1235.9h2v2h-2zM209.2 1155.9h2v2h-2zM156.3 1193h2v2h-2zM212.1 1152.7h2v2h-2zM207.3 1156.8h2v2h-2zM194.4 1189.5h2v2h-2zM109.4 1258.3h2v2h-2zM108 1229h2v2h-2zM97.1 1264.1h2v2h-2zM158.2 1187.4h2v2h-2zM114.5 1230.1h2v2h-2zM183.8 1189.2h2v2h-2zM100.1 1249.3h2v2h-2zM98.8 1251.7h2v2h-2zM98.2 1263.5h2v2h-2zM168.4 1171.5h2v2h-2zM111.7 1232.8h2v2h-2zM84.9 1268.1h2v2h-2zM207.7 1157.2h2v2h-2zM189.4 1173.4h2v2h-2zM86.3 1257.3h2v2h-2zM105.1 1261.9h2v2h-2zM127.3 1213.5h2v2h-2zM170.8 1189.4h2v2h-2zM178.7 1188.1h2v2h-2zM115.9 1258.6h2v2h-2zM179.1 1196h2v2h-2zM184.5 1188.5h2v2h-2zM124.6 1253.4h2v2h-2zM113.9 1256.5h2v2h-2zM108.3 1265.8h2v2h-2zM151 1185.9h2v2h-2zM95.4 1263.7h2v2h-2zM189.7 1166.8h2v2h-2zM187.9 1202.4h2v2h-2zM171.2 1207.9h2v2h-2zM169.3 1188h2v2h-2zM136.3 1247h2v2h-2zM98.6 1262h2v2h-2zM96 1260.8h2v2h-2zM197.3 1162.8h2v2h-2zM107.1 1232h2v2h-2zM124.1 1186.6h2v2h-2zM143.4 1180.3h2v2h-2zM106 1258.8h2v2h-2zM162.1 1192.8h2v2h-2zM179.7 1186.6h2v2h-2zM105.8 1260.5h2v2h-2zM188.3 1173.2h2v2h-2zM188 1179.6h2v2h-2zM119.5 1254.4h2v2h-2zM172.6 1218.7h2v2h-2zM82.5 1259.4h2v2h-2zM111.1 1228.6h2v2h-2zM204.7 1156.1h2v2h-2zM153 1195.5h2v2h-2zM165.1 1190h2v2h-2zM153.7 1195.8h2v2h-2zM100.5 1248.1h2v2h-2zM176.6 1202.3h2v2h-2zM162.7 1220h2v2h-2zM161.6 1219.5h2v2h-2zM95.1 1249.8h2v2h-2zM176.7 1186.9h2v2h-2zM110.8 1223.2h2v2h-2zM202.2 1165.2h2v2h-2zM107.6 1218.8h2v2h-2zM194.2 1169.7h2v2h-2zM162.9 1188.5h2v2h-2zM172.6 1206.2h2v2h-2zM122 1183h2v2h-2zM220.7 1146.2h2v2h-2zM186.4 1175.8h2v2h-2zM176.1 1213.5h2v2h-2zM118.9 1255h2v2h-2zM101.3 1239.7h2v2h-2zM103.2 1262.5h2v2h-2zM184.7 1186.8h2v2h-2zM176.2 1174.7h2v2h-2zM166 1213.6h2v2h-2zM96.9 1246h2v2h-2zM148.5 1200.7h2v2h-2zM181.6 1180.6h2v2h-2zM202.2 1161.1h2v2h-2zM103.7 1263.4h2v2h-2zM149 1184.5h2v2h-2zM198.6 1163.6h2v2h-2zM113.9 1261.8h2v2h-2zM131.9 1249h2v2h-2zM161.6 1221h2v2h-2zM178.2 1196.6h2v2h-2zM187.1 1193.8h2v2h-2zM164.4 1190.3h2v2h-2zM189.3 1171.8h2v2h-2zM156.6 1192.6h2v2h-2zM186.7 1175.6h2v2h-2zM79.9 1264.1h2v2h-2zM113 1230h2v2h-2zM191.5 1170.6h2v2h-2zM136.2 1210.9h2v2h-2zM160.7 1222.5h2v2h-2zM153.3 1192.8h2v2h-2zM168.3 1190.8h2v2h-2zM131.7 1214h2v2h-2zM111.9 1233.4h2v2h-2zM202.3 1161.5h2v2h-2zM88.2 1273.4h2v2h-2zM170.2 1188.6h2v2h-2zM95.6 1252.6h2v2h-2zM202.4 1157.9h2v2h-2zM193.9 1181.4h2v2h-2zM175.9 1214.7h2v2h-2zM170.3 1211.7h2v2h-2zM138.3 1205.8h2v2h-2zM172.7 1191.3h2v2h-2zM170.5 1208.5h2v2h-2zM123.7 1252.8h2v2h-2zM167.1 1174.6h2v2h-2zM102.2 1268.6h2v2h-2zM202.7 1163.3h2v2h-2zM183.4 1152.5h2v2h-2zM179.8 1197h2v2h-2zM117.5 1223.4h2v2h-2zM170.9 1184.8h2v2h-2zM167.7 1217.3h2v2h-2zM138.8 1209.1h2v2h-2zM128 1252h2v2h-2zM178.9 1202.5h2v2h-2zM134.4 1250.9h2v2h-2zM125.1 1250.6h2v2h-2zM176.8 1189.5h2v2h-2zM83.1 1272.9h2v2h-2zM86.7 1269.1h2v2h-2zM209.4 1148.7h2v2h-2zM191.9 1173.1h2v2h-2zM142.5 1170.9h2v2h-2zM183.1 1188.6h2v2h-2zM75 1268.5h2v2h-2zM113.4 1258.5h2v2h-2zM96.2 1256.4h2v2h-2zM160 1187.1h2v2h-2zM199.4 1163.7h2v2h-2zM129.3 1251.9h2v2h-2zM136.2 1165.7h2v2h-2zM155.8 1198.1h2v2h-2zM96.1 1270.3h2v2h-2zM92.3 1256.8h2v2h-2zM146.5 1204.4h2v2h-2zM93.1 1266h2v2h-2zM94.8 1263h2v2h-2zM158.8 1194.9h2v2h-2zM195.9 1171.4h2v2h-2zM142.4 1237.7h2v2h-2zM111 1232.1h2v2h-2zM137.6 1203.6h2v2h-2zM161.5 1190.5h2v2h-2zM107.3 1261.2h2v2h-2zM159.1 1231.9h2v2h-2zM126.2 1219.7h2v2h-2zM181.2 1198h2v2h-2z" fill="#3c3cff" opacity="0.7"/>
<path d="M183 1186 179 1184 174 1184 169 1186 165 1190 156 1193 154 1196 148 1197 143 1204 140 1204 132 1212 125 1216 114 1228 107 1232 104 1236 101 1238 100 1244 96 1248 95 1253 92 1256 92 1262 93 1264 97 1266 102 1266 107 1261 113 1260 118 1255 123 1254 140 1239 144 1237 153 1228 156 1227 174 1208 180 1197 180 1194 183 1190ZM205 1158 202 1158 198 1160 191 1166 188 1171 188 1173 194 1171 201 1165Z" fill="url(#spk)" fill-rule="evenodd"/>
<path d="M171 1198 165 1196 159 1199 156 1202 150 1204 148 1207 142 1209 134 1216 131 1217 130 1219 118 1229 111 1237 107 1244 106 1251 109 1252 110 1251 119 1250 135 1240 154 1224 161 1214 170 1204Z" fill="url(#spk2)" fill-rule="evenodd"/>
<path d="M163 1206 161 1204 152 1206 149 1209 143 1211 135 1218 132 1219 128 1224 119 1231 118 1234 113 1239 111 1243 111 1247 112 1248 120 1247 135 1238 153 1222 157 1217 160 1210Z" fill="#3aa8ff" fill-rule="evenodd"/>
<path d="M157 1210 155 1208 153 1208 141 1214 136 1219 133 1220 119 1234 118 1237 115 1240 115 1245 119 1245 122 1243 125 1243 137 1235 152 1221 157 1213Z" fill="#8cf05a" fill-rule="evenodd"/>
<path d="M150 1215 144 1216 132 1224 124 1233 123 1239 126 1239 130 1237 143 1227 148 1221Z" fill="#e8e838" fill-rule="evenodd"/>
<path d="M146 1219 141 1219 134 1224 127 1231 125 1235 126 1236 129 1236 134 1233 145 1223Z" fill="#ff9020" fill-rule="evenodd"/>
<path d="M143 1221 132 1227 127 1234 130 1234 136 1230 136 1229 142 1224Z" fill="#e83010" fill-rule="evenodd"/></g>
<path d="M36.6 997.5V1325.3H364.9" fill="none" stroke="#9a9a9a" stroke-width="2.2"/>
<path d="M32.6 1325.3h4M36.6 1325.3v4M34.6 1308.9h2M53 1325.3v2M34.6 1299.2h2M62.7 1325.3v2M34.6 1292.4h2M69.5 1325.3v2M34.6 1287.1h2M74.8 1325.3v2M34.6 1282.8h2M79.1 1325.3v2M34.6 1279.1h2M82.8 1325.3v2M34.6 1276h2M85.9 1325.3v2M34.6 1273.2h2M88.7 1325.3v2M32.6 1270.7h4M91.2 1325.3v4M34.6 1254.2h2M107.7 1325.3v2M34.6 1244.6h2M117.3 1325.3v2M34.6 1237.8h2M124.1 1325.3v2M34.6 1232.5h2M129.4 1325.3v2M34.6 1228.2h2M133.7 1325.3v2M34.6 1224.5h2M137.4 1325.3v2M34.6 1221.3h2M140.6 1325.3v2M34.6 1218.5h2M143.4 1325.3v2M32.6 1216h4M145.9 1325.3v4M34.6 1199.6h2M162.3 1325.3v2M34.6 1190h2M171.9 1325.3v2M34.6 1183.1h2M178.8 1325.3v2M34.6 1177.9h2M184 1325.3v2M34.6 1173.5h2M188.4 1325.3v2M34.6 1169.9h2M192 1325.3v2M34.6 1166.7h2M195.2 1325.3v2M34.6 1163.9h2M198 1325.3v2M32.6 1161.4h4M200.5 1325.3v4M34.6 1145h2M216.9 1325.3v2M34.6 1135.3h2M226.6 1325.3v2M34.6 1128.5h2M233.4 1325.3v2M34.6 1123.2h2M238.7 1325.3v2M34.6 1118.9h2M243 1325.3v2M34.6 1115.2h2M246.7 1325.3v2M34.6 1112.1h2M249.8 1325.3v2M34.6 1109.3h2M252.6 1325.3v2M32.6 1106.8h4M255.1 1325.3v4M34.6 1090.3h2M271.6 1325.3v2M34.6 1080.7h2M281.2 1325.3v2M34.6 1073.9h2M288 1325.3v2M34.6 1068.6h2M293.3 1325.3v2M34.6 1064.3h2M297.6 1325.3v2M34.6 1060.6h2M301.3 1325.3v2M34.6 1057.4h2M304.5 1325.3v2M34.6 1054.6h2M307.3 1325.3v2M32.6 1052.1h4M309.8 1325.3v4M34.6 1035.7h2M326.2 1325.3v2M34.6 1026.1h2M335.8 1325.3v2M34.6 1019.3h2M342.6 1325.3v2M34.6 1014h2M347.9 1325.3v2M34.6 1009.6h2M352.3 1325.3v2M34.6 1006h2M355.9 1325.3v2M34.6 1002.8h2M359.1 1325.3v2M34.6 1000h2M361.9 1325.3v2M32.6 997.5h4M364.4 1325.3v4" stroke="#555" stroke-width="1.3" fill="none"/>
<g font-size="6.5" style="font-weight:normal" fill="#444"><text transform="translate(24.1,1322.8) rotate(-35)" text-anchor="middle">10<tspan dy="-3" font-size="5">1</tspan></text><text transform="translate(35.1,1337.3) rotate(-35)" text-anchor="middle">10<tspan dy="-3" font-size="5">1</tspan></text><text transform="translate(24.1,1268.2) rotate(-35)" text-anchor="middle">10<tspan dy="-3" font-size="5">2</tspan></text><text transform="translate(89.7,1337.3) rotate(-35)" text-anchor="middle">10<tspan dy="-3" font-size="5">2</tspan></text><text transform="translate(24.1,1213.5) rotate(-35)" text-anchor="middle">10<tspan dy="-3" font-size="5">3</tspan></text><text transform="translate(144.4,1337.3) rotate(-35)" text-anchor="middle">10<tspan dy="-3" font-size="5">3</tspan></text><text transform="translate(24.1,1158.9) rotate(-35)" text-anchor="middle">10<tspan dy="-3" font-size="5">4</tspan></text><text transform="translate(199,1337.3) rotate(-35)" text-anchor="middle">10<tspan dy="-3" font-size="5">4</tspan></text><text transform="translate(24.1,1104.3) rotate(-35)" text-anchor="middle">10<tspan dy="-3" font-size="5">5</tspan></text><text transform="translate(253.6,1337.3) rotate(-35)" text-anchor="middle">10<tspan dy="-3" font-size="5">5</tspan></text><text transform="translate(24.1,1049.6) rotate(-35)" text-anchor="middle">10<tspan dy="-3" font-size="5">6</tspan></text><text transform="translate(308.3,1337.3) rotate(-35)" text-anchor="middle">10<tspan dy="-3" font-size="5">6</tspan></text><text transform="translate(24.1,995) rotate(-35)" text-anchor="middle">10<tspan dy="-3" font-size="5">7</tspan></text><text transform="translate(362.9,1337.3) rotate(-35)" text-anchor="middle">10<tspan dy="-3" font-size="5">7</tspan></text></g>
<path d="M224.3 997.5V1325.3M36.6 1099.7H364.9" stroke="#3a3a3a" stroke-width="2.3" fill="none"/>
<g font-size="13.8" fill="#1c1c1c" style="font-weight:normal"><text x="41.9" y="1023.2" style="font-weight:normal">Q1</text><text x="41.9" y="1043.6" style="font-weight:normal">0</text><text x="337.1" y="1023.2" text-anchor="end" style="font-weight:normal">Q2</text><text x="337.1" y="1043.6" text-anchor="end" style="font-weight:normal">0</text><text x="41.9" y="1287" style="font-weight:normal">Q4</text><text x="41.9" y="1307.8" style="font-weight:normal">100</text><text x="337.1" y="1287" text-anchor="end" style="font-weight:normal">Q3</text><text x="337.1" y="1307.8" text-anchor="end" style="font-weight:normal">0</text></g>
<rect x="386.7" y="997.5" width="328.3" height="327.8" fill="#fff" stroke="#c4c4c4" stroke-width="2.4"/>
<rect x="388" y="1265" width="45.5" height="58.5" fill="#e4e8f6"/>
<g filter="url(#fb)"><path d="M555.6 1177.8h2v2h-2zM549.6 1209h2v2h-2zM507.6 1132.8h2v2h-2zM465 1215.9h2v2h-2zM467.1 1208.9h2v2h-2zM554.3 1183.1h2v2h-2zM453.9 1196h2v2h-2zM544.2 1205.4h2v2h-2zM573.6 1173.6h2v2h-2zM468.7 1187.7h2v2h-2zM529.8 1213.6h2v2h-2zM526.6 1321.1h2v2h-2zM498.6 1158.4h2v2h-2zM460.5 1209.5h2v2h-2zM471 1300.9h2v2h-2zM470.7 1193.2h2v2h-2zM508.3 1165.3h2v2h-2zM531.6 1162.4h2v2h-2zM480.5 1283h2v2h-2zM487.8 1268.4h2v2h-2zM535.8 1157.6h2v2h-2zM509.5 1249.6h2v2h-2zM428.2 1273.3h2v2h-2zM453.4 1209.8h2v2h-2zM506.8 1155.2h2v2h-2zM450.2 1187h2v2h-2zM544.5 1141.6h2v2h-2zM508.5 1164.6h2v2h-2zM538.1 1158.7h2v2h-2zM547.6 1179.1h2v2h-2zM450.2 1225.6h2v2h-2zM535.6 1145.1h2v2h-2zM537 1223.4h2v2h-2zM435.6 1224h2v2h-2zM440.1 1163.9h2v2h-2zM547 1139.2h2v2h-2zM498.6 1165.6h2v2h-2zM552.9 1174.3h2v2h-2zM446.5 1227.9h2v2h-2zM486.1 1258.4h2v2h-2zM528.8 1224.7h2v2h-2zM497.6 1173.2h2v2h-2zM553.1 1146.9h2v2h-2zM497.5 1262.2h2v2h-2zM474.8 1322.3h2v2h-2zM478 1321.5h2v2h-2zM423.2 1255.7h2v2h-2zM494.5 1260.1h2v2h-2zM500.1 1162h2v2h-2zM477.9 1302.7h2v2h-2zM475.9 1199.2h2v2h-2zM561.1 1163.5h2v2h-2zM504.6 1262.6h2v2h-2zM445.1 1234.3h2v2h-2zM521.8 1243.4h2v2h-2zM554.9 1176.4h2v2h-2zM497.9 1159.1h2v2h-2zM489.1 1265.5h2v2h-2zM520.8 1140.7h2v2h-2zM504 1256h2v2h-2zM430.3 1270.4h2v2h-2zM486.7 1187.1h2v2h-2zM453.3 1197.3h2v2h-2zM528.5 1211.7h2v2h-2zM482.5 1184.5h2v2h-2zM484.1 1269.6h2v2h-2zM503.9 1247.3h2v2h-2zM481 1195.9h2v2h-2zM498.5 1321.4h2v2h-2zM537.3 1211.7h2v2h-2zM462.2 1182.6h2v2h-2zM475.2 1188.2h2v2h-2zM517.4 1250.8h2v2h-2zM430.5 1212.1h2v2h-2zM462 1310.2h2v2h-2zM468.5 1298.1h2v2h-2zM435.6 1217.9h2v2h-2zM420.4 1257.7h2v2h-2zM486.1 1280.4h2v2h-2zM501.9 1177h2v2h-2zM489 1117.4h2v2h-2zM481.3 1278.1h2v2h-2zM444.3 1228.4h2v2h-2zM430.9 1260.8h2v2h-2zM500.9 1170.5h2v2h-2zM517.3 1322.1h2v2h-2zM424.9 1303.2h2v2h-2zM507.1 1165.3h2v2h-2zM492.4 1283.6h2v2h-2zM517.9 1227.3h2v2h-2zM470.5 1187.6h2v2h-2zM446.3 1236.3h2v2h-2zM466.2 1192h2v2h-2zM528.3 1210.8h2v2h-2zM454.8 1214.8h2v2h-2zM443.6 1320.7h2v2h-2zM574.3 1143.3h2v2h-2zM533.3 1227.3h2v2h-2zM515.8 1255.8h2v2h-2zM502.4 1254h2v2h-2zM551.9 1157.6h2v2h-2zM488.5 1270.3h2v2h-2zM560.6 1187.2h2v2h-2zM457.9 1204.4h2v2h-2zM476.7 1184.2h2v2h-2zM502.3 1277.3h2v2h-2zM483.8 1163.5h2v2h-2zM444.8 1203.2h2v2h-2zM521.6 1152.4h2v2h-2zM456.9 1312.3h2v2h-2zM435.9 1317.9h2v2h-2zM432.5 1261.8h2v2h-2zM484.2 1193h2v2h-2zM450.7 1199.6h2v2h-2zM456.9 1320.5h2v2h-2zM433.6 1248.2h2v2h-2zM431.3 1226.5h2v2h-2zM539.5 1210.2h2v2h-2zM440 1321.2h2v2h-2zM449.9 1238.7h2v2h-2zM468.6 1306.7h2v2h-2zM431.1 1275.4h2v2h-2zM560.1 1190.7h2v2h-2zM548.5 1174.5h2v2h-2zM544.4 1324.1h2v2h-2zM489.7 1258.4h2v2h-2zM483.9 1145.4h2v2h-2zM443.6 1233.6h2v2h-2zM429 1255.1h2v2h-2zM479.7 1161.3h2v2h-2zM456.4 1217.4h2v2h-2zM485.2 1278.4h2v2h-2zM520.2 1142h2v2h-2zM518.4 1163.7h2v2h-2zM550.8 1208h2v2h-2zM536 1165.2h2v2h-2zM576.6 1147.8h2v2h-2zM424.3 1254.7h2v2h-2zM497.4 1263.3h2v2h-2zM547.3 1184.9h2v2h-2zM469.5 1190.7h2v2h-2zM458.5 1315.6h2v2h-2zM534.8 1228h2v2h-2zM463.3 1212.9h2v2h-2zM494.3 1255.2h2v2h-2zM394.2 1206.9h2v2h-2zM516.8 1147.1h2v2h-2zM522.5 1164.6h2v2h-2zM548.7 1183.6h2v2h-2zM441.4 1319.6h2v2h-2zM533.5 1229.2h2v2h-2zM464.4 1205.3h2v2h-2zM523.8 1321.1h2v2h-2zM433.4 1246.9h2v2h-2zM497.7 1165.8h2v2h-2zM449.7 1323.5h2v2h-2zM532.5 1149.4h2v2h-2zM506.3 1177.5h2v2h-2zM473.1 1208.7h2v2h-2zM455.4 1219h2v2h-2zM509.1 1139h2v2h-2zM448.4 1228.6h2v2h-2zM509.5 1237.7h2v2h-2zM469.7 1201.9h2v2h-2zM545.2 1146.2h2v2h-2zM418.8 1240.2h2v2h-2zM550.5 1324.2h2v2h-2zM419 1253.1h2v2h-2zM486.3 1189.7h2v2h-2zM468 1197.1h2v2h-2zM483.6 1191.8h2v2h-2zM498.7 1302.5h2v2h-2zM424.4 1258.6h2v2h-2zM432.5 1243.6h2v2h-2zM480.7 1176.2h2v2h-2zM521.2 1321.3h2v2h-2zM515.1 1233.3h2v2h-2zM575.2 1134.5h2v2h-2zM532.8 1154.7h2v2h-2zM452.4 1213.7h2v2h-2zM487.9 1267h2v2h-2zM531.5 1152.6h2v2h-2zM523.3 1148.6h2v2h-2zM562.7 1138.7h2v2h-2zM474.5 1288.1h2v2h-2zM543.4 1207.1h2v2h-2zM497.7 1249.3h2v2h-2zM418.1 1244.8h2v2h-2zM441 1320.2h2v2h-2zM513.3 1235.6h2v2h-2zM466.9 1300.4h2v2h-2zM446 1240.1h2v2h-2zM525.9 1216h2v2h-2zM481.1 1289.9h2v2h-2zM583.6 1150h2v2h-2zM548.1 1189.4h2v2h-2zM570.9 1136.3h2v2h-2zM450.1 1221.1h2v2h-2zM488.7 1260.2h2v2h-2zM420.2 1266.2h2v2h-2zM574.4 1174.6h2v2h-2zM509.3 1247.1h2v2h-2zM523.1 1222.4h2v2h-2zM488 1180.6h2v2h-2zM525.4 1241h2v2h-2zM520.2 1154h2v2h-2zM482 1196.4h2v2h-2zM519.6 1245.3h2v2h-2zM549.6 1183.8h2v2h-2zM528.7 1222.8h2v2h-2zM484.9 1172.6h2v2h-2zM544.6 1190h2v2h-2zM545.7 1172.5h2v2h-2zM525 1160h2v2h-2zM454.9 1322.2h2v2h-2zM520.9 1161.8h2v2h-2zM580.8 1124.7h2v2h-2zM549 1175.3h2v2h-2zM520.8 1323.3h2v2h-2zM444.8 1217.3h2v2h-2zM482.7 1190.8h2v2h-2zM457 1314.2h2v2h-2zM553.2 1147.2h2v2h-2zM425.8 1244.2h2v2h-2zM556.3 1154.1h2v2h-2zM538.2 1156.7h2v2h-2zM491.8 1166.3h2v2h-2zM482.7 1323.9h2v2h-2zM543.7 1322.6h2v2h-2zM481.6 1190.5h2v2h-2zM457.7 1227h2v2h-2zM512.1 1249.7h2v2h-2zM540.3 1205.6h2v2h-2zM494.1 1282.6h2v2h-2zM455.1 1184.2h2v2h-2zM436.5 1250.2h2v2h-2zM469.9 1194.2h2v2h-2zM519.6 1163.6h2v2h-2zM463.4 1323.5h2v2h-2zM443.7 1153.5h2v2h-2zM472.2 1207.4h2v2h-2zM431.5 1246.4h2v2h-2zM438.8 1235.3h2v2h-2zM537.4 1167.2h2v2h-2zM464.8 1315.8h2v2h-2zM464.8 1314.6h2v2h-2zM431.5 1252.1h2v2h-2zM485 1284.7h2v2h-2zM538.3 1153.9h2v2h-2zM477.9 1284.7h2v2h-2zM400.6 1321.9h2v2h-2zM518.3 1250.1h2v2h-2zM481.6 1194.9h2v2h-2zM535.4 1219.5h2v2h-2zM522.9 1166.3h2v2h-2zM471.9 1207.8h2v2h-2zM451 1195.9h2v2h-2zM461.3 1311.4h2v2h-2zM477.3 1177.1h2v2h-2zM448.5 1323.3h2v2h-2zM457.7 1174.9h2v2h-2zM487 1185.2h2v2h-2zM462.8 1214.7h2v2h-2zM460.5 1309.4h2v2h-2zM511.1 1157.3h2v2h-2zM497.1 1184.8h2v2h-2zM516.1 1168.6h2v2h-2zM519.6 1168.4h2v2h-2zM528.3 1220.3h2v2h-2zM510.2 1144.9h2v2h-2zM441.5 1239.6h2v2h-2zM452.5 1204.1h2v2h-2zM481.4 1194.3h2v2h-2zM538.6 1158.8h2v2h-2zM468.4 1202.8h2v2h-2zM432.5 1246.6h2v2h-2zM459.1 1187.6h2v2h-2zM484.6 1164.3h2v2h-2zM468.5 1311.1h2v2h-2zM552.9 1175.9h2v2h-2zM423.8 1246.6h2v2h-2zM443.2 1322.8h2v2h-2zM464.1 1301.9h2v2h-2zM521.1 1322.6h2v2h-2zM537.6 1204.4h2v2h-2zM508.6 1245.9h2v2h-2zM547 1156.2h2v2h-2zM561.2 1160.5h2v2h-2zM491.1 1253.5h2v2h-2zM547.5 1179.3h2v2h-2zM501.1 1180.8h2v2h-2zM438.7 1322.6h2v2h-2zM528.6 1213.8h2v2h-2zM530.6 1159h2v2h-2zM527.3 1213.7h2v2h-2zM555.3 1156.5h2v2h-2zM542.9 1214.5h2v2h-2zM552.4 1190.5h2v2h-2zM433.7 1230h2v2h-2zM526.2 1161.1h2v2h-2zM533.1 1157.6h2v2h-2zM517.6 1235.4h2v2h-2zM470.3 1202h2v2h-2zM481.4 1276.5h2v2h-2zM497.5 1173.8h2v2h-2zM489.1 1270.2h2v2h-2zM494.4 1255.9h2v2h-2zM510.7 1241.3h2v2h-2zM435.4 1225h2v2h-2zM579.1 1160h2v2h-2zM480 1177.4h2v2h-2zM486 1260.6h2v2h-2zM483.1 1286.1h2v2h-2zM545.6 1201.1h2v2h-2zM493 1163.9h2v2h-2zM510 1252.4h2v2h-2zM505 1174.1h2v2h-2zM522.8 1146.6h2v2h-2zM478.4 1284.5h2v2h-2zM535.5 1165.5h2v2h-2zM411 1258.5h2v2h-2zM486.4 1259.4h2v2h-2zM451.7 1219.8h2v2h-2zM516 1164.5h2v2h-2zM459.7 1219.3h2v2h-2zM555.2 1168.1h2v2h-2zM467.9 1309.1h2v2h-2zM521.2 1240.6h2v2h-2zM548.8 1159.4h2v2h-2zM521.9 1229.7h2v2h-2zM542.2 1166.7h2v2h-2zM518.7 1231.3h2v2h-2zM534.1 1205.1h2v2h-2zM529.4 1161.8h2v2h-2zM529 1217.2h2v2h-2zM536.8 1159.6h2v2h-2zM513.6 1232.9h2v2h-2zM450 1323.8h2v2h-2zM480.9 1297h2v2h-2zM460.2 1195.7h2v2h-2zM571.2 1146h2v2h-2zM562.1 1183.5h2v2h-2zM446.5 1239.9h2v2h-2zM451.2 1323.2h2v2h-2zM547.5 1151.1h2v2h-2zM504.5 1162.9h2v2h-2zM582.3 1135.5h2v2h-2zM545.7 1194h2v2h-2zM483.3 1285.6h2v2h-2zM487.4 1272.7h2v2h-2zM539.1 1157h2v2h-2zM526.3 1234.3h2v2h-2zM545 1185.8h2v2h-2zM537.6 1207h2v2h-2zM520.5 1237.4h2v2h-2zM552.5 1199.6h2v2h-2zM417.4 1240.5h2v2h-2zM536 1155.6h2v2h-2zM495.8 1261.1h2v2h-2zM517.6 1247.9h2v2h-2zM444.8 1234.3h2v2h-2zM455.1 1324h2v2h-2zM496.9 1254.1h2v2h-2zM472.7 1196.4h2v2h-2zM479.8 1278.8h2v2h-2zM498 1255.1h2v2h-2zM455.7 1226.3h2v2h-2zM534.2 1215.6h2v2h-2zM446.2 1323.5h2v2h-2zM518.4 1246.6h2v2h-2zM537.1 1216.3h2v2h-2zM486.6 1288.9h2v2h-2zM473.5 1299.8h2v2h-2zM479.1 1151.2h2v2h-2zM436.7 1321.1h2v2h-2zM464.9 1301.5h2v2h-2zM466.8 1300.8h2v2h-2zM454.5 1171.2h2v2h-2zM471.3 1199.3h2v2h-2zM477.9 1180.2h2v2h-2zM507 1321.8h2v2h-2zM534.3 1155.4h2v2h-2zM435.3 1321.8h2v2h-2zM513.2 1234.1h2v2h-2zM546.9 1158.4h2v2h-2zM546.5 1153.9h2v2h-2zM493 1174.8h2v2h-2zM543.8 1155.1h2v2h-2zM431.5 1252.5h2v2h-2zM460.7 1311.5h2v2h-2zM467.2 1321.1h2v2h-2zM494.2 1144.2h2v2h-2zM547 1185.8h2v2h-2zM464.2 1302.9h2v2h-2zM531.5 1162.8h2v2h-2zM487.7 1295.4h2v2h-2zM488.3 1180.9h2v2h-2zM514.1 1171.1h2v2h-2zM529.7 1154.2h2v2h-2zM586.6 1141.1h2v2h-2zM536.4 1217.8h2v2h-2zM536.7 1213.9h2v2h-2zM509.4 1172.5h2v2h-2zM408.9 1197h2v2h-2zM547.6 1151h2v2h-2zM465.2 1314.5h2v2h-2zM450.4 1229.1h2v2h-2zM442.3 1213h2v2h-2zM526.3 1323.6h2v2h-2zM483.3 1275.4h2v2h-2zM449.7 1220.8h2v2h-2zM495.9 1178.8h2v2h-2zM578.8 1168.7h2v2h-2zM533.4 1162.9h2v2h-2zM540.3 1206.1h2v2h-2zM477 1187h2v2h-2zM481.9 1155.7h2v2h-2zM527.4 1234.4h2v2h-2zM493.7 1181.9h2v2h-2zM545.9 1202h2v2h-2zM481.6 1275.9h2v2h-2zM483.1 1154.8h2v2h-2zM437.8 1224.2h2v2h-2zM519 1163h2v2h-2zM469.5 1197.7h2v2h-2zM554.5 1155h2v2h-2zM511 1157.8h2v2h-2zM507.5 1166.3h2v2h-2zM520.5 1230.7h2v2h-2zM483.5 1286.2h2v2h-2zM502.3 1255.5h2v2h-2zM490.6 1182.2h2v2h-2zM515.9 1116.2h2v2h-2zM454.6 1183.4h2v2h-2zM480.8 1192.9h2v2h-2zM450.6 1213h2v2h-2zM430.1 1261h2v2h-2zM588 1132.7h2v2h-2zM540.3 1200.2h2v2h-2zM469.6 1200.4h2v2h-2zM491.4 1280.4h2v2h-2zM499 1272.7h2v2h-2zM464.2 1197.2h2v2h-2zM478 1297.2h2v2h-2zM469.2 1203.8h2v2h-2zM475.4 1304.5h2v2h-2zM538 1323.8h2v2h-2zM514.5 1166.9h2v2h-2zM435 1242.8h2v2h-2zM457.6 1216.6h2v2h-2zM517.4 1229.2h2v2h-2zM532.3 1158.9h2v2h-2zM490.7 1182.8h2v2h-2zM558.3 1177.6h2v2h-2zM552.1 1184.4h2v2h-2zM516.8 1162.8h2v2h-2zM514.8 1159.5h2v2h-2zM479.3 1189h2v2h-2zM522.6 1233.9h2v2h-2zM435 1313.2h2v2h-2zM498.4 1252.2h2v2h-2zM535.2 1154.9h2v2h-2zM444.9 1225.9h2v2h-2zM548.2 1206.7h2v2h-2zM525.3 1219.6h2v2h-2zM484.2 1176.3h2v2h-2zM476.5 1288.5h2v2h-2zM447.4 1231.6h2v2h-2zM513.5 1159.6h2v2h-2zM509.2 1321.9h2v2h-2zM407.2 1244.5h2v2h-2zM432 1253.2h2v2h-2zM515 1228.1h2v2h-2zM501.7 1253.7h2v2h-2zM536.2 1214.8h2v2h-2zM479.8 1178.6h2v2h-2zM480.4 1174.5h2v2h-2zM484.8 1192.5h2v2h-2zM538.4 1150.1h2v2h-2zM514.3 1229.9h2v2h-2zM526.8 1248.5h2v2h-2zM457.1 1322.3h2v2h-2zM486 1183.6h2v2h-2zM545.5 1180.4h2v2h-2zM459.9 1215.6h2v2h-2zM496 1165.7h2v2h-2zM455.3 1321.1h2v2h-2zM574.9 1183.1h2v2h-2zM485.2 1189.7h2v2h-2zM557.6 1175.7h2v2h-2zM519.5 1226.1h2v2h-2zM549.2 1183h2v2h-2zM552.4 1135.2h2v2h-2zM531.8 1161.5h2v2h-2zM534 1208.9h2v2h-2zM455.9 1209.1h2v2h-2zM534 1166h2v2h-2zM468.9 1153h2v2h-2zM440.5 1233.1h2v2h-2zM544.4 1204.4h2v2h-2zM561.5 1193h2v2h-2zM553.2 1157.7h2v2h-2zM491.4 1180.4h2v2h-2zM546.4 1202h2v2h-2zM488.2 1321.2h2v2h-2zM530.7 1155.6h2v2h-2zM436.5 1316.3h2v2h-2zM528.7 1221.8h2v2h-2zM448.7 1206.9h2v2h-2zM470.9 1202.7h2v2h-2zM457.2 1171.7h2v2h-2zM470.8 1188.3h2v2h-2zM552.3 1106.5h2v2h-2zM501.9 1245.1h2v2h-2zM465 1159.9h2v2h-2zM460.7 1203.1h2v2h-2zM500 1253.1h2v2h-2zM500.4 1246.5h2v2h-2zM499.4 1174.9h2v2h-2zM531.8 1215.9h2v2h-2zM442.7 1323.7h2v2h-2zM471.5 1303.6h2v2h-2zM552.8 1172.1h2v2h-2zM517.3 1231.2h2v2h-2zM545.8 1172.5h2v2h-2zM524.6 1128.7h2v2h-2zM525.9 1161.5h2v2h-2zM468.6 1321.3h2v2h-2zM530.5 1138.6h2v2h-2zM492.6 1323.5h2v2h-2zM458.7 1201.9h2v2h-2zM509.8 1252.4h2v2h-2zM518.5 1152h2v2h-2zM475.3 1287.2h2v2h-2zM447.8 1232.2h2v2h-2zM428.6 1218.5h2v2h-2zM440.1 1219h2v2h-2zM531.9 1223h2v2h-2zM560.9 1143.5h2v2h-2zM552.9 1182.1h2v2h-2zM563.9 1203.4h2v2h-2zM523.9 1221.6h2v2h-2zM475.8 1301.8h2v2h-2zM556.9 1202.5h2v2h-2zM570.6 1190.3h2v2h-2zM451.6 1209.8h2v2h-2zM483 1270h2v2h-2zM507.7 1242.9h2v2h-2zM472.3 1315.3h2v2h-2zM547.6 1156.2h2v2h-2zM481.3 1194.2h2v2h-2zM466.8 1213.2h2v2h-2zM491.8 1277.8h2v2h-2zM412 1213.9h2v2h-2zM496.4 1256.6h2v2h-2zM481.3 1276.7h2v2h-2zM479.8 1277.2h2v2h-2zM394.6 1198.5h2v2h-2zM513.4 1236.5h2v2h-2zM520.5 1165.8h2v2h-2zM459.4 1318.8h2v2h-2zM427.1 1257h2v2h-2zM448 1230.1h2v2h-2zM466.6 1186.7h2v2h-2zM488.7 1179.4h2v2h-2zM512 1168.7h2v2h-2zM476.1 1176.4h2v2h-2zM498.4 1173.4h2v2h-2zM517.1 1161.2h2v2h-2zM459 1321.3h2v2h-2zM431.9 1229.4h2v2h-2zM518.1 1322.7h2v2h-2zM514.7 1165.7h2v2h-2zM566 1190h2v2h-2zM499.8 1246.8h2v2h-2zM477.7 1321.1h2v2h-2zM544.3 1192.5h2v2h-2zM545.1 1156.7h2v2h-2zM466.2 1209.1h2v2h-2zM432.5 1240.2h2v2h-2zM466.6 1187.2h2v2h-2zM487.3 1323.6h2v2h-2zM529.3 1139.2h2v2h-2zM423.2 1245.2h2v2h-2zM436.1 1209.4h2v2h-2zM519.7 1321.7h2v2h-2zM435.5 1245.1h2v2h-2zM480.1 1176.6h2v2h-2zM475.7 1323.8h2v2h-2zM426.5 1249.7h2v2h-2zM455.2 1310.3h2v2h-2zM513.8 1245h2v2h-2zM548.1 1184.6h2v2h-2zM452.5 1322.8h2v2h-2zM550.3 1172.2h2v2h-2zM489.8 1261.2h2v2h-2zM516.4 1234.5h2v2h-2zM533.5 1166h2v2h-2zM464.7 1310.8h2v2h-2zM529.2 1246.2h2v2h-2zM540.5 1195.3h2v2h-2zM489 1268.3h2v2h-2zM481.2 1276.4h2v2h-2zM554.1 1322.3h2v2h-2zM551.4 1168.1h2v2h-2zM526.2 1219.8h2v2h-2zM555.1 1165.9h2v2h-2zM505.1 1180.2h2v2h-2zM511.9 1152h2v2h-2zM526.3 1141.9h2v2h-2zM471.7 1311.6h2v2h-2zM440 1225.2h2v2h-2zM486.6 1322.2h2v2h-2zM445.9 1193.2h2v2h-2zM542.5 1197.9h2v2h-2zM493.1 1260.9h2v2h-2zM538.4 1157.1h2v2h-2zM496.5 1161.9h2v2h-2zM540.5 1155.9h2v2h-2zM534.7 1206.2h2v2h-2zM526.9 1221.2h2v2h-2zM433.8 1322.6h2v2h-2zM555.4 1164.2h2v2h-2zM497.6 1254.6h2v2h-2zM581.5 1140.4h2v2h-2zM467.5 1207.8h2v2h-2zM511.9 1171.2h2v2h-2zM456.2 1316.7h2v2h-2zM495.2 1167.1h2v2h-2zM501 1256.4h2v2h-2zM455.2 1190.7h2v2h-2zM495.7 1135.3h2v2h-2zM476.2 1322.4h2v2h-2zM536.4 1159h2v2h-2zM409.4 1258.4h2v2h-2zM518.1 1158.1h2v2h-2zM542.5 1198.8h2v2h-2zM442.5 1240.5h2v2h-2zM497.5 1182.8h2v2h-2zM533.9 1233.8h2v2h-2zM494 1182.7h2v2h-2zM556.5 1155.5h2v2h-2zM449.6 1221.2h2v2h-2zM584.6 1141.2h2v2h-2zM424.5 1295.3h2v2h-2zM461.5 1166.9h2v2h-2zM524.7 1323.1h2v2h-2zM550 1201.9h2v2h-2zM449 1173.4h2v2h-2zM464.9 1201.2h2v2h-2zM430.3 1219.5h2v2h-2zM474.2 1305.1h2v2h-2zM396 1230.7h2v2h-2zM574.5 1163.4h2v2h-2zM542.8 1191.8h2v2h-2zM497.3 1175.9h2v2h-2zM557.9 1155.9h2v2h-2zM553.7 1174.6h2v2h-2zM417.9 1239.6h2v2h-2zM457 1223.4h2v2h-2zM567 1160.9h2v2h-2zM487.5 1257h2v2h-2zM473.9 1189.5h2v2h-2zM475 1302.6h2v2h-2zM512.1 1152.4h2v2h-2zM503.8 1170.6h2v2h-2zM526.9 1215.2h2v2h-2zM432.7 1214.2h2v2h-2zM544.5 1156.4h2v2h-2zM552.5 1148.5h2v2h-2zM459.1 1310.9h2v2h-2zM547.3 1184.5h2v2h-2zM481.6 1176.5h2v2h-2zM438.1 1321.6h2v2h-2zM546.7 1154.2h2v2h-2zM527.5 1225.7h2v2h-2zM503.7 1257.5h2v2h-2zM480.4 1286.5h2v2h-2zM437 1251.7h2v2h-2zM477.7 1185.4h2v2h-2zM446.9 1322.4h2v2h-2zM503 1246.1h2v2h-2zM461.3 1315.1h2v2h-2zM506 1168.2h2v2h-2zM529.2 1218.8h2v2h-2zM499.4 1156.5h2v2h-2zM455.4 1226.3h2v2h-2zM488.1 1263.4h2v2h-2zM424.1 1255.9h2v2h-2zM547.3 1158.2h2v2h-2zM475.5 1195h2v2h-2zM441 1231.7h2v2h-2zM500.4 1247.4h2v2h-2zM491.1 1268.7h2v2h-2zM467.5 1301.7h2v2h-2zM532.4 1158.5h2v2h-2zM482.5 1183.7h2v2h-2zM485.6 1181.5h2v2h-2zM439.9 1227.8h2v2h-2zM488.2 1187.4h2v2h-2z" fill="#3c3cff" opacity="0.7"/>
<path d="M504 1256 502 1256 503 1258ZM557 1154 549 1155 547 1153 547 1151 546 1151 545 1153 542 1155 534 1154 533 1155 530 1155 528 1157 523 1157 520 1159 514 1160 514 1162 518 1166 516 1168 513 1168 511 1166 511 1163 510 1162 507 1164 505 1164 503 1166 503 1168 505 1170 505 1174 503 1177 501 1176 502 1174 501 1172 498 1172 495 1174 492 1174 490 1178 483 1178 482 1183 485 1183 486 1185 484 1187 477 1187 476 1188 479 1189 478 1192 474 1195 469 1196 467 1198 466 1204 468 1206 468 1208 464 1214 460 1214 456 1218 455 1222 451 1226 447 1226 445 1228 445 1235 446 1236 443 1239 441 1239 439 1244 436 1247 432 1247 427 1255 429 1258 429 1261 432 1264 432 1271 431 1272 432 1302 433 1303 432 1310 437 1322 439 1323 446 1323 447 1324 455 1324 460 1322 459 1316 460 1315 464 1315 467 1311 467 1306 466 1304 470 1300 470 1294 471 1292 477 1288 479 1289 482 1289 483 1288 484 1284 482 1282 482 1280 484 1278 484 1272 492 1269 492 1264 497 1261 496 1258 500 1255 499 1250 503 1247 508 1248 509 1247 509 1242 510 1240 514 1236 519 1235 522 1233 522 1226 525 1222 528 1223 533 1217 536 1217 538 1215 538 1207 545 1201 545 1193 547 1189 552 1190 553 1185 555 1182 555 1178 557 1176 557 1172 556 1172 554 1169 554 1167 557 1164 560 1163 560 1162 557 1162 555 1160 558 1156ZM500 1176 501 1177 496 1181 494 1179 494 1177 496 1175Z" fill="url(#spk)" fill-rule="evenodd"/>
<path d="M538 1181 535 1181 534 1182 529 1181 523 1174 521 1174 519 1177 517 1177 514 1180 513 1184 511 1186 508 1185 504 1187 501 1187 498 1192 495 1194 489 1201 484 1201 474 1211 474 1215 472 1217 469 1217 464 1221 464 1224 466 1227 466 1231 463 1234 461 1234 456 1241 441 1250 440 1254 435 1262 435 1271 434 1272 435 1300 437 1303 437 1309 440 1311 441 1314 443 1314 443 1312 445 1310 449 1310 449 1307 452 1305 456 1300 459 1300 466 1290 467 1285 469 1282 473 1279 472 1275 477 1270 477 1260 478 1258 484 1252 489 1250 491 1247 491 1245 499 1236 503 1234 505 1231 504 1226 505 1225 509 1226 512 1222 515 1221 516 1219 515 1214 518 1212 518 1208 520 1206 523 1206 525 1203 528 1203 530 1201 531 1198 530 1189 533 1185 537 1183Z" fill="url(#spk2)" fill-rule="evenodd"/>
<path d="M509 1204 504 1204 501 1200 491 1209 484 1208 483 1209 483 1214 478 1219 477 1222 472 1225 470 1229 468 1236 465 1240 466 1247 459 1253 449 1252 445 1255 445 1257 438 1265 438 1270 436 1274 438 1278 437 1281 437 1290 439 1292 447 1293 449 1297 451 1297 452 1295 456 1292 457 1288 459 1286 464 1284 466 1280 466 1275 471 1270 470 1268 471 1261 476 1255 478 1254 482 1249 486 1247 491 1241 495 1233 495 1231 499 1226 499 1222 505 1218 504 1213 506 1209 510 1206ZM518 1187 517 1187 516 1192 512 1196 511 1199 516 1199 519 1197 517 1194 517 1192 520 1190Z" fill="#3aa8ff" fill-rule="evenodd"/>
<path d="M460 1257 455 1256 446 1260 444 1262 441 1268 441 1272 440 1273 440 1277 443 1283 442 1284 442 1288 450 1288 453 1290 453 1285 456 1282 460 1282 462 1279 463 1273 459 1269 458 1266 462 1263 466 1267 467 1266 467 1263 463 1263ZM493 1218 483 1217 480 1220 479 1223 474 1227 469 1236 469 1239 467 1243 468 1244 468 1249 463 1254 464 1255 471 1256 475 1252 477 1252 490 1239 493 1232 493 1228 495 1226 494 1219Z" fill="#8cf05a" fill-rule="evenodd"/>
<path d="M488 1223 484 1224 479 1227 473 1235 471 1241 471 1244 473 1247 476 1247 479 1245 487 1237 489 1232 489 1224Z" fill="#e8e838" fill-rule="evenodd"/>
<path d="M487 1227 483 1227 478 1230 474 1237 474 1240 473 1241 475 1244 480 1242 485 1237 485 1235 488 1230Z" fill="#ff9020" fill-rule="evenodd"/>
<path d="M485 1229 482 1229 478 1232 476 1236 476 1240 477 1241 483 1238Z" fill="#e83010" fill-rule="evenodd"/></g>
<path d="M386.7 997.5V1325.3H715" fill="none" stroke="#9a9a9a" stroke-width="2.2"/>
<path d="M382.7 1325.3h4M386.7 1325.3v4M384.7 1308.9h2M403.1 1325.3v2M384.7 1299.2h2M412.8 1325.3v2M384.7 1292.4h2M419.6 1325.3v2M384.7 1287.1h2M424.9 1325.3v2M384.7 1282.8h2M429.2 1325.3v2M384.7 1279.1h2M432.9 1325.3v2M384.7 1276h2M436 1325.3v2M384.7 1273.2h2M438.8 1325.3v2M382.7 1270.7h4M441.3 1325.3v4M384.7 1254.2h2M457.8 1325.3v2M384.7 1244.6h2M467.4 1325.3v2M384.7 1237.8h2M474.2 1325.3v2M384.7 1232.5h2M479.5 1325.3v2M384.7 1228.2h2M483.8 1325.3v2M384.7 1224.5h2M487.5 1325.3v2M384.7 1221.3h2M490.7 1325.3v2M384.7 1218.5h2M493.5 1325.3v2M382.7 1216h4M496 1325.3v4M384.7 1199.6h2M512.4 1325.3v2M384.7 1190h2M522 1325.3v2M384.7 1183.1h2M528.9 1325.3v2M384.7 1177.9h2M534.1 1325.3v2M384.7 1173.5h2M538.5 1325.3v2M384.7 1169.9h2M542.1 1325.3v2M384.7 1166.7h2M545.3 1325.3v2M384.7 1163.9h2M548.1 1325.3v2M382.7 1161.4h4M550.6 1325.3v4M384.7 1145h2M567 1325.3v2M384.7 1135.3h2M576.7 1325.3v2M384.7 1128.5h2M583.5 1325.3v2M384.7 1123.2h2M588.8 1325.3v2M384.7 1118.9h2M593.1 1325.3v2M384.7 1115.2h2M596.8 1325.3v2M384.7 1112.1h2M599.9 1325.3v2M384.7 1109.3h2M602.7 1325.3v2M382.7 1106.8h4M605.2 1325.3v4M384.7 1090.3h2M621.7 1325.3v2M384.7 1080.7h2M631.3 1325.3v2M384.7 1073.9h2M638.1 1325.3v2M384.7 1068.6h2M643.4 1325.3v2M384.7 1064.3h2M647.7 1325.3v2M384.7 1060.6h2M651.4 1325.3v2M384.7 1057.4h2M654.6 1325.3v2M384.7 1054.6h2M657.4 1325.3v2M382.7 1052.1h4M659.9 1325.3v4M384.7 1035.7h2M676.3 1325.3v2M384.7 1026.1h2M685.9 1325.3v2M384.7 1019.3h2M692.7 1325.3v2M384.7 1014h2M698 1325.3v2M384.7 1009.6h2M702.4 1325.3v2M384.7 1006h2M706 1325.3v2M384.7 1002.8h2M709.2 1325.3v2M384.7 1000h2M712 1325.3v2M382.7 997.5h4M714.5 1325.3v4" stroke="#555" stroke-width="1.3" fill="none"/>
<g font-size="6.5" style="font-weight:normal" fill="#444"><text transform="translate(374.2,1322.8) rotate(-35)" text-anchor="middle">10<tspan dy="-3" font-size="5">1</tspan></text><text transform="translate(385.2,1337.3) rotate(-35)" text-anchor="middle">10<tspan dy="-3" font-size="5">1</tspan></text><text transform="translate(374.2,1268.2) rotate(-35)" text-anchor="middle">10<tspan dy="-3" font-size="5">2</tspan></text><text transform="translate(439.8,1337.3) rotate(-35)" text-anchor="middle">10<tspan dy="-3" font-size="5">2</tspan></text><text transform="translate(374.2,1213.5) rotate(-35)" text-anchor="middle">10<tspan dy="-3" font-size="5">3</tspan></text><text transform="translate(494.5,1337.3) rotate(-35)" text-anchor="middle">10<tspan dy="-3" font-size="5">3</tspan></text><text transform="translate(374.2,1158.9) rotate(-35)" text-anchor="middle">10<tspan dy="-3" font-size="5">4</tspan></text><text transform="translate(549.1,1337.3) rotate(-35)" text-anchor="middle">10<tspan dy="-3" font-size="5">4</tspan></text><text transform="translate(374.2,1104.3) rotate(-35)" text-anchor="middle">10<tspan dy="-3" font-size="5">5</tspan></text><text transform="translate(603.7,1337.3) rotate(-35)" text-anchor="middle">10<tspan dy="-3" font-size="5">5</tspan></text><text transform="translate(374.2,1049.6) rotate(-35)" text-anchor="middle">10<tspan dy="-3" font-size="5">6</tspan></text><text transform="translate(658.4,1337.3) rotate(-35)" text-anchor="middle">10<tspan dy="-3" font-size="5">6</tspan></text><text transform="translate(374.2,995) rotate(-35)" text-anchor="middle">10<tspan dy="-3" font-size="5">7</tspan></text><text transform="translate(713,1337.3) rotate(-35)" text-anchor="middle">10<tspan dy="-3" font-size="5">7</tspan></text></g>
<path d="M573.9 997.5V1325.3M386.7 1099.7H715" stroke="#3a3a3a" stroke-width="2.3" fill="none"/>
<g font-size="13.8" fill="#1c1c1c" style="font-weight:normal"><text x="392" y="1023.2" style="font-weight:normal">Q1</text><text x="392" y="1043.6" style="font-weight:normal">0</text><text x="687.2" y="1023.2" text-anchor="end" style="font-weight:normal">Q2</text><text x="687.2" y="1043.6" text-anchor="end" style="font-weight:normal">0</text><text x="392" y="1287" style="font-weight:normal">Q4</text><text x="392" y="1307.8" style="font-weight:normal">100.0</text><text x="683.7" y="1287" text-anchor="end" style="font-weight:normal">Q3</text><text x="683.7" y="1307.8" text-anchor="end" style="font-weight:normal">5.55E-3</text></g>
<rect x="736.7" y="997.5" width="328.3" height="327.8" fill="#fff" stroke="#c4c4c4" stroke-width="2.4"/>
<g filter="url(#fb)"><path d="M875 1173.3h2v2h-2zM928.3 1157.8h2v2h-2zM1002.6 1095.9h2v2h-2zM872.3 1167.3h2v2h-2zM906.7 1045.4h2v2h-2zM881.7 1106.3h2v2h-2zM886.7 1133.8h2v2h-2zM914 1125.5h2v2h-2zM877.9 1221.7h2v2h-2zM944.6 1114.8h2v2h-2zM986.8 1076.8h2v2h-2zM921.3 1075.6h2v2h-2zM903.7 1118.1h2v2h-2zM983.6 1065.3h2v2h-2zM897.3 1130.5h2v2h-2zM908.5 1052h2v2h-2zM893 1222.9h2v2h-2zM895.8 1080.3h2v2h-2zM885.2 1162.1h2v2h-2zM952.2 1065.7h2v2h-2zM875.6 1172.1h2v2h-2zM1041.5 1068.3h2v2h-2zM879 1147.3h2v2h-2zM910 1086.4h2v2h-2zM923.1 1194.8h2v2h-2zM917.2 1183.5h2v2h-2zM920.5 1044.7h2v2h-2zM929.3 1129.4h2v2h-2zM1000.3 1068h2v2h-2zM1004.9 1068h2v2h-2zM931.8 1107.3h2v2h-2zM928.3 1117.8h2v2h-2zM909 1080.5h2v2h-2zM868.4 1221.1h2v2h-2zM889.5 1217.6h2v2h-2zM1001.9 1068.2h2v2h-2zM894.9 1139.9h2v2h-2zM939.8 1119.1h2v2h-2zM983.9 1081.8h2v2h-2zM973.7 1089.9h2v2h-2zM911 1082.6h2v2h-2zM919.8 1175.5h2v2h-2zM879.1 1119.2h2v2h-2zM939.2 1157.5h2v2h-2zM904.1 1126.7h2v2h-2zM906 1223h2v2h-2zM900.6 1094.8h2v2h-2zM892.9 1115.6h2v2h-2zM908.6 1088.9h2v2h-2zM932.5 1130.1h2v2h-2zM847.9 1213.5h2v2h-2zM853.5 1218.8h2v2h-2zM942.4 1110.9h2v2h-2zM1000 1074.9h2v2h-2zM997.1 1071.2h2v2h-2zM902.1 1141.6h2v2h-2zM901.6 1209h2v2h-2zM983.8 1080.6h2v2h-2zM877.1 1135.2h2v2h-2zM894.1 1105.3h2v2h-2zM860.4 1217.1h2v2h-2zM894.1 1152.2h2v2h-2zM976.1 1096.7h2v2h-2zM912.8 1100h2v2h-2zM895.9 1212.9h2v2h-2zM895.7 1075.7h2v2h-2zM887.7 1112h2v2h-2zM905.6 1097.4h2v2h-2zM1009.9 1059.2h2v2h-2zM954.6 1106.8h2v2h-2zM955.4 1106.9h2v2h-2zM902.9 1116.4h2v2h-2zM883.6 1108.2h2v2h-2zM865.8 1206.1h2v2h-2zM908.7 1036.4h2v2h-2zM915.7 1067.2h2v2h-2zM905.7 1043.8h2v2h-2zM945.8 1104.4h2v2h-2zM871.8 1221.6h2v2h-2zM989.5 1113.7h2v2h-2zM899.5 1112.8h2v2h-2zM883.4 1120h2v2h-2zM995.6 1053.2h2v2h-2zM886.8 1218.6h2v2h-2zM927.3 1156.4h2v2h-2zM1001.3 1077.9h2v2h-2zM893.5 1141.5h2v2h-2zM903.5 1208.7h2v2h-2zM904.9 1112.1h2v2h-2zM897.3 1095h2v2h-2zM946 1065.1h2v2h-2zM879.4 1160.1h2v2h-2zM886.1 1129.7h2v2h-2zM903.8 1107.9h2v2h-2zM923.3 1069.4h2v2h-2zM909 1196.1h2v2h-2zM949.2 1156.8h2v2h-2zM915.2 1057.5h2v2h-2zM867.9 1224h2v2h-2zM1016.6 1066.2h2v2h-2zM908.6 1074.2h2v2h-2zM972.6 1091.2h2v2h-2zM876.8 1225.1h2v2h-2zM907.7 1108.1h2v2h-2zM943.2 1065.7h2v2h-2zM937.7 1044h2v2h-2zM885.8 1219.1h2v2h-2zM1003 1055.1h2v2h-2zM895.6 1134.5h2v2h-2zM865.9 1191.5h2v2h-2zM894.1 1218.2h2v2h-2zM860.9 1196.4h2v2h-2zM915.9 1080.4h2v2h-2zM980 1088.2h2v2h-2zM1002.6 1044.2h2v2h-2zM859 1215.2h2v2h-2zM864.9 1179.6h2v2h-2zM924.1 1046.6h2v2h-2zM892.9 1219.1h2v2h-2zM880.9 1220.4h2v2h-2zM901.7 1131.8h2v2h-2zM938.6 1161.8h2v2h-2zM906.6 1123.8h2v2h-2zM916.1 1073.7h2v2h-2zM855.9 1198.8h2v2h-2zM896.5 1226.8h2v2h-2zM883.7 1158.9h2v2h-2zM877.7 1220.5h2v2h-2zM912.7 1130h2v2h-2zM886.9 1154.5h2v2h-2zM922.7 1111.9h2v2h-2zM900.8 1140.8h2v2h-2zM1003.5 1080.9h2v2h-2zM970.5 1155.1h2v2h-2zM929.4 1126.1h2v2h-2zM931.6 1153.6h2v2h-2zM921.1 1001.7h2v2h-2zM888.7 1125.1h2v2h-2zM911.8 1095.9h2v2h-2zM928.3 1125.3h2v2h-2zM899.8 1085.8h2v2h-2zM954.1 1111h2v2h-2zM920.9 1117.3h2v2h-2zM923.7 1163.7h2v2h-2zM983 1087.4h2v2h-2zM896 1098.5h2v2h-2zM911.2 1007.7h2v2h-2zM913.9 1106.7h2v2h-2zM904 1206.1h2v2h-2zM925.3 1113.8h2v2h-2zM940 1120.4h2v2h-2zM870.6 1163.9h2v2h-2zM896.8 1124.8h2v2h-2zM1010 1071.6h2v2h-2zM880.9 1219.9h2v2h-2zM984.6 1084.8h2v2h-2zM878.9 1164.5h2v2h-2zM911.7 1196.7h2v2h-2zM891.9 1151.2h2v2h-2zM916.9 1186.9h2v2h-2zM915.1 1182.3h2v2h-2zM915.1 1104.3h2v2h-2zM918 1082.7h2v2h-2zM898.8 1092.1h2v2h-2zM905 1088.9h2v2h-2zM924.2 1087.9h2v2h-2zM993.6 1073h2v2h-2zM898.3 1110.5h2v2h-2zM915.8 1115.3h2v2h-2zM977.3 1072.7h2v2h-2zM884.3 1114.8h2v2h-2zM899.2 1132.6h2v2h-2zM859.2 1212.9h2v2h-2zM898.7 1087.8h2v2h-2zM913.5 1191.1h2v2h-2zM865.5 1215.1h2v2h-2zM993.1 1073h2v2h-2zM896.3 1126.9h2v2h-2zM878.7 1223.2h2v2h-2zM933.2 1119.2h2v2h-2zM898.9 1139.3h2v2h-2zM982.9 1087.7h2v2h-2zM991 1051.2h2v2h-2zM898.4 1078.5h2v2h-2zM851.8 1211.9h2v2h-2zM992.5 1071.4h2v2h-2zM915 1186.6h2v2h-2zM916.9 1067.1h2v2h-2zM864.3 1220.7h2v2h-2zM825.7 1255.1h2v2h-2zM916.9 1117.4h2v2h-2zM868.8 1137.6h2v2h-2zM994.8 1108.7h2v2h-2zM839.4 1208.2h2v2h-2zM889.5 1099.7h2v2h-2zM897.1 1079.7h2v2h-2zM953.1 1143.5h2v2h-2zM889.9 1095.9h2v2h-2zM882.6 1167.7h2v2h-2zM898.4 1110.7h2v2h-2zM933.3 1109.3h2v2h-2zM895 1218.5h2v2h-2zM985.6 1089.4h2v2h-2zM953.9 1108.3h2v2h-2zM915.2 1070h2v2h-2zM936.4 1035.6h2v2h-2zM930 1123.8h2v2h-2zM893.2 1092.7h2v2h-2zM892.8 1108.6h2v2h-2zM1007 1085.5h2v2h-2zM899.8 1140.7h2v2h-2zM895.4 1097.7h2v2h-2zM897.6 1121.5h2v2h-2zM883.6 1122.6h2v2h-2zM881.3 1115h2v2h-2zM894.2 1138.7h2v2h-2zM917.9 1130h2v2h-2zM901.8 1116.3h2v2h-2zM899.1 1218.8h2v2h-2zM1019.1 1054.9h2v2h-2zM895.3 1223.4h2v2h-2zM995.9 1104.1h2v2h-2zM924 1122.7h2v2h-2zM868.7 1133.8h2v2h-2zM902.6 1097.6h2v2h-2zM961.9 1096.8h2v2h-2zM890.2 1122.6h2v2h-2zM903.6 1074.4h2v2h-2zM912 1076h2v2h-2zM888.2 1122.4h2v2h-2zM897.6 1101.3h2v2h-2zM955 1110.9h2v2h-2zM1026.7 1050.1h2v2h-2zM1022.2 1066.6h2v2h-2zM874.8 1131.1h2v2h-2zM867.6 1220.4h2v2h-2zM905.7 1100.5h2v2h-2zM911.5 1109.8h2v2h-2zM908 1064.2h2v2h-2zM923.4 1093.8h2v2h-2zM911.8 1104.4h2v2h-2zM885.4 1120.5h2v2h-2zM889.7 1132.1h2v2h-2zM905.8 1093h2v2h-2zM927.1 1081.2h2v2h-2zM876.8 1166.1h2v2h-2zM993.8 1074.2h2v2h-2zM994 1051.1h2v2h-2zM867.5 1250.1h2v2h-2zM879.9 1224.4h2v2h-2zM911.8 1119.1h2v2h-2zM907.1 1090.6h2v2h-2zM989.9 1051.9h2v2h-2zM908 1105.9h2v2h-2zM899.6 1140h2v2h-2zM916.8 1071.9h2v2h-2zM916.4 1102.8h2v2h-2zM915.3 1079h2v2h-2zM912 1084.7h2v2h-2zM970.3 1099.8h2v2h-2zM867.4 1191h2v2h-2zM913.3 1097.1h2v2h-2zM903.1 1210.9h2v2h-2zM900.2 1131.4h2v2h-2zM992.6 1067.5h2v2h-2zM891.7 1119.8h2v2h-2zM895.3 1138h2v2h-2zM945.5 1115.5h2v2h-2zM918.7 1051.2h2v2h-2zM988.6 1132.3h2v2h-2zM924.6 1118.1h2v2h-2zM917.4 1064.3h2v2h-2zM864.4 1212.9h2v2h-2zM958.9 1097.9h2v2h-2zM918.2 1127h2v2h-2zM962.9 1103.2h2v2h-2zM872.3 1178.5h2v2h-2zM924 1174.9h2v2h-2zM905.3 1080.2h2v2h-2zM912.3 1056h2v2h-2zM886 1143.9h2v2h-2zM923.6 1123.6h2v2h-2zM1004.4 1051h2v2h-2zM1000.5 1086.1h2v2h-2zM940.6 1122.9h2v2h-2zM915.6 1058.7h2v2h-2zM910.2 1073.8h2v2h-2zM897.3 1129.3h2v2h-2zM933.4 1116.7h2v2h-2zM900.3 1117.6h2v2h-2zM932.3 1115.9h2v2h-2zM1016.4 1085.5h2v2h-2zM987.6 1069.8h2v2h-2zM899.6 1109.7h2v2h-2zM928.8 1128.6h2v2h-2zM999.6 1061.3h2v2h-2zM951.2 1107.8h2v2h-2zM891.1 1153.7h2v2h-2zM911.2 1098.5h2v2h-2zM934.1 1109.7h2v2h-2zM888.6 1124.6h2v2h-2zM898.9 1094h2v2h-2zM842.3 1202.1h2v2h-2zM951 1101h2v2h-2zM860.1 1220.9h2v2h-2zM889.6 1118.4h2v2h-2zM943.7 1065.7h2v2h-2zM999.1 1096.5h2v2h-2zM990 1110.1h2v2h-2zM858.2 1224.9h2v2h-2zM897.4 1136.6h2v2h-2zM932.1 1150.4h2v2h-2zM912.2 1080.2h2v2h-2zM945.4 1094.2h2v2h-2zM870.2 1156.8h2v2h-2zM862.9 1218.6h2v2h-2zM864.7 1195.7h2v2h-2zM886.5 1153.5h2v2h-2zM973.2 1125.3h2v2h-2zM883 1219.3h2v2h-2zM903.7 1119.1h2v2h-2zM891.7 1215.5h2v2h-2zM995.6 1052.7h2v2h-2zM932.6 1110.4h2v2h-2zM920.2 1079.3h2v2h-2zM895.2 1136.3h2v2h-2zM961.6 1134.7h2v2h-2zM919.7 1119.4h2v2h-2zM887.9 1088.8h2v2h-2zM1001.6 1085.4h2v2h-2zM943.5 1074.7h2v2h-2zM919.6 1042.8h2v2h-2zM933 1101.1h2v2h-2zM884.9 1124.7h2v2h-2zM867.2 1225.4h2v2h-2zM924.4 1159.1h2v2h-2zM948 1112h2v2h-2zM871.8 1159.3h2v2h-2zM925.8 1111.7h2v2h-2zM915.6 1197.2h2v2h-2zM944.1 1143.9h2v2h-2zM913.7 1056.1h2v2h-2zM906.2 1064.2h2v2h-2zM915.3 1076.8h2v2h-2zM936.9 1065.7h2v2h-2zM907.7 1065h2v2h-2zM1001.2 1072.1h2v2h-2zM877.4 1144.2h2v2h-2zM900.3 1141.2h2v2h-2zM1004.7 1091.2h2v2h-2zM920.9 1043.5h2v2h-2zM945 1111.1h2v2h-2zM968.6 1092.2h2v2h-2zM901.3 1120.5h2v2h-2zM905.2 1064.5h2v2h-2zM856.9 1180.9h2v2h-2zM978.6 1087.5h2v2h-2zM905.2 1045.6h2v2h-2zM860.6 1217.1h2v2h-2zM890.2 1123.9h2v2h-2zM900.5 1143.2h2v2h-2zM1003.4 1092.6h2v2h-2zM911.1 1122.3h2v2h-2zM940.7 1146.8h2v2h-2zM894.1 1144.4h2v2h-2zM904 1102.6h2v2h-2zM926.8 1174.2h2v2h-2zM893.3 1122.4h2v2h-2zM883.4 1119.2h2v2h-2zM981.3 1076.3h2v2h-2zM888.3 1224.4h2v2h-2zM906.9 1139.3h2v2h-2zM866.5 1148.3h2v2h-2zM917.7 1131.6h2v2h-2zM998.9 1059.2h2v2h-2zM894.5 1066.2h2v2h-2zM914.2 1131h2v2h-2zM873.1 1170.9h2v2h-2zM933.4 1172.8h2v2h-2zM813.1 1239.2h2v2h-2zM1006.3 1110.3h2v2h-2zM903.6 1107.3h2v2h-2zM879.4 1164.9h2v2h-2zM911.8 1215.4h2v2h-2zM874.1 1169.7h2v2h-2zM904.4 1203h2v2h-2zM920.6 1066.2h2v2h-2zM999.8 1072.6h2v2h-2zM931.3 1128.4h2v2h-2zM879.8 1119.8h2v2h-2zM892.8 1113.8h2v2h-2zM939.5 1051.8h2v2h-2zM886.4 1107.1h2v2h-2zM891.2 1154.5h2v2h-2zM1002 1093.3h2v2h-2zM977.8 1095h2v2h-2zM990.8 1075.3h2v2h-2zM946.8 1109.6h2v2h-2zM917.4 1060.2h2v2h-2zM861.2 1219.9h2v2h-2zM859.2 1206.8h2v2h-2zM969.2 1052h2v2h-2zM901.2 1103.4h2v2h-2zM887.3 1085.1h2v2h-2zM878.8 1222.2h2v2h-2zM996.8 1123.4h2v2h-2zM888.4 1142.5h2v2h-2zM1005.9 1085.4h2v2h-2zM867.6 1236.2h2v2h-2zM888 1122h2v2h-2zM914.2 1055.6h2v2h-2zM970.6 1090.3h2v2h-2zM914.1 1122.2h2v2h-2zM994 1111h2v2h-2zM898.8 1210.1h2v2h-2zM1009.7 1074.5h2v2h-2zM882.8 1123.5h2v2h-2zM987.9 1074.9h2v2h-2zM910.8 1073.3h2v2h-2zM877.3 1170.1h2v2h-2zM891.1 1114.4h2v2h-2zM930.2 1107.5h2v2h-2zM987.3 1076.5h2v2h-2zM941.9 1051.9h2v2h-2zM940.6 1098.3h2v2h-2zM917.5 1180.3h2v2h-2zM890.4 1147.3h2v2h-2zM901.2 1065.4h2v2h-2zM957.5 1095h2v2h-2zM942.1 1148.4h2v2h-2zM867.8 1187.7h2v2h-2zM975.3 1081.8h2v2h-2zM881.1 1219.5h2v2h-2zM932.1 1173.9h2v2h-2zM1004.9 1078.9h2v2h-2zM957.6 1101.6h2v2h-2zM850.8 1205.4h2v2h-2zM844.8 1190.8h2v2h-2zM983.4 1065.3h2v2h-2zM968.3 1087.6h2v2h-2zM999 1054.5h2v2h-2zM866.9 1152.5h2v2h-2zM867.2 1230.7h2v2h-2zM871 1218.1h2v2h-2zM923.6 1122h2v2h-2zM904.2 1206.2h2v2h-2zM858.2 1206.6h2v2h-2zM987.8 1081.9h2v2h-2zM866.9 1226.5h2v2h-2zM890 1140.4h2v2h-2zM877.6 1137.3h2v2h-2zM963.3 1092.7h2v2h-2zM985.8 1118.8h2v2h-2zM895.1 1130.5h2v2h-2zM915.6 1128.3h2v2h-2zM990.3 1075.7h2v2h-2zM921.6 1168.5h2v2h-2zM977.2 1122.8h2v2h-2zM892.2 1142.2h2v2h-2zM974.9 1084.9h2v2h-2zM1006 1075.2h2v2h-2zM918 1071.6h2v2h-2zM903.5 1109.9h2v2h-2zM1011.3 1080.5h2v2h-2zM952.7 1167.6h2v2h-2zM905 1058h2v2h-2zM868.2 1231.1h2v2h-2zM871.9 1220.8h2v2h-2zM973.9 1098.9h2v2h-2zM992.3 1109.4h2v2h-2zM1000.7 1072.2h2v2h-2zM1013.9 1081.7h2v2h-2zM896.3 1217.3h2v2h-2zM955.6 1145.2h2v2h-2zM995.6 1051.3h2v2h-2zM864.4 1196.4h2v2h-2zM901.1 1136.2h2v2h-2zM876 1237h2v2h-2zM1006.9 1071.6h2v2h-2zM844.8 1195.1h2v2h-2zM904.3 1097.8h2v2h-2zM912.6 1201.2h2v2h-2zM953.3 1065.7h2v2h-2zM995.7 1045.2h2v2h-2zM898.9 1098h2v2h-2zM949.9 1146.7h2v2h-2zM908.9 1083.8h2v2h-2zM907.1 1106.9h2v2h-2zM973.4 1124.1h2v2h-2zM897.7 1115.9h2v2h-2zM1010 1088h2v2h-2zM926.3 1168.3h2v2h-2zM984.1 1092.8h2v2h-2zM935.9 1124.7h2v2h-2zM910 1125.6h2v2h-2zM984.4 1092.2h2v2h-2zM994 1051.4h2v2h-2zM922.2 1166.7h2v2h-2zM884.6 1121.7h2v2h-2zM840.7 1247.1h2v2h-2zM903.6 1081.4h2v2h-2zM894.9 1105.5h2v2h-2zM865.5 1179.3h2v2h-2zM924.1 1126.6h2v2h-2zM1001.8 1076.4h2v2h-2zM914.8 1101.2h2v2h-2zM938.6 1120.2h2v2h-2zM892.4 1222h2v2h-2zM890.4 1114.8h2v2h-2zM931.7 1113.9h2v2h-2zM979.6 1097.4h2v2h-2zM864.5 1199.8h2v2h-2zM930.1 1122.7h2v2h-2zM1000.5 1095.1h2v2h-2zM971.8 1087.5h2v2h-2zM909 1097h2v2h-2zM1000.5 1076.7h2v2h-2zM985.2 1086.2h2v2h-2zM899.8 1104.4h2v2h-2zM869.9 1180.4h2v2h-2zM874.5 1169.8h2v2h-2zM873.6 1163.4h2v2h-2zM899.1 1084.8h2v2h-2zM910.3 1204.5h2v2h-2zM939.9 1124.8h2v2h-2zM955.3 1106.5h2v2h-2zM869.5 1222.4h2v2h-2zM909.7 1094.4h2v2h-2zM903.7 1082.1h2v2h-2zM859 1217.3h2v2h-2zM867.6 1221.9h2v2h-2zM862.7 1193.5h2v2h-2zM982.8 1092.8h2v2h-2zM885.2 1231.6h2v2h-2zM871.3 1177.9h2v2h-2zM913.7 1074.3h2v2h-2zM905 1071.5h2v2h-2zM883.1 1101.3h2v2h-2zM973.9 1088.6h2v2h-2zM993.5 1074.4h2v2h-2zM1000.7 1105.1h2v2h-2zM891.1 1121.2h2v2h-2zM948.1 1116.7h2v2h-2zM1016.1 1076.7h2v2h-2zM900.6 1108.4h2v2h-2zM915.9 1033.4h2v2h-2zM892.3 1111.5h2v2h-2zM954.8 1157.5h2v2h-2zM897.8 1137.9h2v2h-2zM997.8 1070.1h2v2h-2zM934.1 1118.7h2v2h-2zM1003.6 1069.3h2v2h-2zM917.2 1127.1h2v2h-2zM882.9 1114.5h2v2h-2zM901.3 1143.4h2v2h-2zM980.7 1143h2v2h-2zM899.6 1116.9h2v2h-2zM907.4 1116.2h2v2h-2zM878.3 1168.7h2v2h-2zM907 1103.6h2v2h-2zM895.7 1114.2h2v2h-2zM960.6 1138.4h2v2h-2zM963.9 1105.4h2v2h-2zM864.5 1198.4h2v2h-2zM988.9 1051.1h2v2h-2zM927.6 1164.7h2v2h-2zM854.7 1180.7h2v2h-2zM870.4 1179.2h2v2h-2zM976.7 1093.1h2v2h-2zM918.8 1094.4h2v2h-2zM896.6 1150.7h2v2h-2zM882.7 1135.1h2v2h-2zM869.7 1179.8h2v2h-2zM982.3 1126.6h2v2h-2zM988.3 1069.9h2v2h-2zM858.8 1172.8h2v2h-2zM904.8 1141.3h2v2h-2zM904.9 1126.1h2v2h-2zM894 1218.7h2v2h-2zM951.5 1088.5h2v2h-2zM912.6 1089.9h2v2h-2zM867 1188.9h2v2h-2zM970.2 1129.6h2v2h-2zM915 1077.2h2v2h-2zM908.8 1204.3h2v2h-2zM929.8 1074.5h2v2h-2zM858 1175.4h2v2h-2zM987 1051.3h2v2h-2zM918.8 1178.3h2v2h-2zM923.6 1041.6h2v2h-2zM915.7 1119h2v2h-2zM886.9 1115.3h2v2h-2zM899.4 1069.4h2v2h-2zM974.6 1094.7h2v2h-2zM918.8 1120.6h2v2h-2zM961.2 1107.4h2v2h-2zM864.8 1190.2h2v2h-2zM910.5 1102.6h2v2h-2zM872.6 1102.3h2v2h-2zM880 1222.7h2v2h-2zM925.8 1119.2h2v2h-2zM879.7 1143h2v2h-2zM940.1 1065h2v2h-2zM935.5 1126.1h2v2h-2zM939.8 1124.1h2v2h-2zM864.9 1263h2v2h-2zM950.5 1017h2v2h-2zM955.4 1065.4h2v2h-2zM888.8 1106.3h2v2h-2zM904.8 1077.8h2v2h-2zM913.8 1192.2h2v2h-2zM1042.4 1082.1h2v2h-2zM891.5 1077.2h2v2h-2zM928.9 1124h2v2h-2zM999.9 1099h2v2h-2zM875 1219.8h2v2h-2zM876.8 1158h2v2h-2zM909.9 1085.6h2v2h-2zM1031.5 1081.7h2v2h-2zM848.2 1202.7h2v2h-2zM893 1117.1h2v2h-2zM914.8 1063.4h2v2h-2zM874 1222.1h2v2h-2zM851.7 1211h2v2h-2zM862.8 1218h2v2h-2zM905.3 1234h2v2h-2zM912.4 1192.2h2v2h-2zM906.6 1104.2h2v2h-2zM973.4 1051.6h2v2h-2zM925 1125.9h2v2h-2zM919.4 1116.9h2v2h-2zM943.7 1146.6h2v2h-2zM895.7 1150.4h2v2h-2zM892.3 1228.3h2v2h-2zM952.2 1111.7h2v2h-2zM1007.2 1064.1h2v2h-2zM865.3 1182.7h2v2h-2zM869 1145.2h2v2h-2zM880.2 1232.8h2v2h-2zM897.7 1095.4h2v2h-2zM998.5 1076.3h2v2h-2zM918.8 1070.5h2v2h-2zM869.8 1222.3h2v2h-2zM969.5 1098.7h2v2h-2zM920.7 1049.4h2v2h-2zM905.4 1082.1h2v2h-2zM976.6 1122.9h2v2h-2zM982.9 1076h2v2h-2zM856.6 1255.2h2v2h-2zM943.9 1121.6h2v2h-2zM996 1052.4h2v2h-2zM906.3 1066.8h2v2h-2zM931.1 1127.9h2v2h-2zM934.6 1121.3h2v2h-2zM979.5 1097.7h2v2h-2zM925.8 1160.1h2v2h-2zM870.2 1219.7h2v2h-2zM915.8 1093.8h2v2h-2zM917.5 1085h2v2h-2zM874 1154.9h2v2h-2zM890.9 1087.9h2v2h-2zM920.2 1091.6h2v2h-2zM873.2 1166.1h2v2h-2zM868.4 1186.9h2v2h-2zM927.8 1098.3h2v2h-2zM862.8 1218.6h2v2h-2zM941 1118.9h2v2h-2zM876.4 1158.7h2v2h-2zM884.7 1141.3h2v2h-2zM903.5 1205h2v2h-2zM892.2 1130.8h2v2h-2zM891.7 1090.3h2v2h-2zM942.1 1119.1h2v2h-2zM864.5 1198.4h2v2h-2zM926.6 1083.6h2v2h-2zM902.1 1066.6h2v2h-2zM865 1210.2h2v2h-2zM993.9 1073.5h2v2h-2zM904.7 1205.5h2v2h-2zM923 1163.9h2v2h-2zM937.3 1126.6h2v2h-2zM918.4 1184.1h2v2h-2zM918.4 1127.8h2v2h-2zM998.2 1100.8h2v2h-2zM868.6 1163.5h2v2h-2zM871.2 1218.5h2v2h-2zM994.6 1051.4h2v2h-2zM898.3 1121.2h2v2h-2zM915.5 1195h2v2h-2zM903.8 1130.9h2v2h-2zM918 1130.4h2v2h-2zM960.5 1083.2h2v2h-2zM885.9 1102h2v2h-2zM905.8 1136.9h2v2h-2zM954.5 1138.6h2v2h-2zM919.9 1051h2v2h-2zM915.1 1080.7h2v2h-2zM933.6 1111.2h2v2h-2zM895.6 1143.2h2v2h-2zM906.5 1099.2h2v2h-2z" fill="#3c3cff" opacity="0.7"/>
<path d="M885 1139 887 1140 887 1138ZM884 1120 884 1123 885 1123 886 1121ZM911 1075 907 1075 907 1079 905 1081 902 1081 899 1083 899 1085 902 1087 902 1089 900 1091 896 1092 893 1095 896 1099 896 1102 893 1105 893 1109 888 1113 888 1117 890 1120 890 1126 892 1127 896 1127 896 1121 897 1120 901 1120 903 1118 900 1113 904 1110 906 1111 909 1109 907 1100 911 1091 911 1088 909 1086 909 1084 913 1080 913 1078ZM996 1051 994 1050 926 1050 925 1049 918 1049 916 1052 916 1062 914 1065 915 1067 920 1068 925 1066 974 1066 975 1067 983 1066 985 1067 987 1070 986 1071 986 1075 985 1078 983 1079 982 1083 979 1086 973 1088 971 1096 966 1099 963 1104 959 1103 949 1114 944 1113 942 1116 942 1118 940 1120 936 1121 931 1125 924 1119 919 1125 917 1125 914 1129 910 1130 905 1136 903 1136 901 1134 895 1134 894 1135 893 1140 887 1147 887 1152 886 1154 882 1157 881 1160 873 1169 872 1173 867 1179 866 1184 863 1187 863 1193 861 1197 861 1203 862 1205 859 1209 861 1212 861 1219 864 1221 867 1225 871 1223 877 1225 882 1222 887 1222 889 1219 895 1217 897 1213 910 1202 913 1193 919 1184 919 1181 922 1175 923 1164 927 1159 928 1155 934 1150 939 1148 944 1143 950 1141 959 1136 974 1124 981 1120 1004 1096 1005 1086 1002 1084 1002 1082 1005 1076 1005 1070 1000 1065 1000 1062 997 1058Z" fill="url(#spk)" fill-rule="evenodd"/>
<path d="M992 1096 989 1096 982 1100 980 1100 976 1103 972 1104 966 1109 962 1110 944 1123 933 1133 925 1138 917 1138 912 1141 909 1144 909 1148 907 1150 903 1150 898 1156 896 1156 890 1161 887 1167 877 1177 875 1184 870 1194 870 1205 874 1209 877 1215 881 1215 883 1213 891 1210 897 1206 898 1204 905 1198 905 1194 909 1190 911 1181 914 1175 914 1171 916 1168 916 1164 921 1156 928 1149 933 1147 943 1140 948 1139 954 1136 963 1130 979 1116 984 1113 994 1099ZM988 1057 986 1061 988 1063 992 1063 993 1061 990 1057ZM946 1059 946 1060 949 1059 952 1061 955 1060 955 1059 950 1055 949 1055ZM980 1054 977 1054 975 1057 978 1062 980 1061ZM931 1055 931 1058 932 1059 939 1061 936 1054 932 1054ZM921 1054 921 1062 923 1062 928 1059 924 1054Z" fill="url(#spk2)" fill-rule="evenodd"/>
<path d="M913 1154 910 1154 905 1156 901 1161 896 1164 894 1164 891 1167 888 1173 883 1178 882 1182 879 1185 874 1195 875 1205 880 1210 883 1210 890 1207 900 1197 907 1183 907 1177 910 1173 910 1166 912 1161 914 1159 914 1155ZM986 1102 983 1102 975 1106 973 1106 953 1118 945 1124 935 1134 929 1138 927 1143 925 1145 921 1144 920 1147 922 1148 924 1147 925 1145 931 1145 933 1143 937 1142 941 1139 949 1137 961 1130 983 1111 986 1107 987 1104Z" fill="#3aa8ff" fill-rule="evenodd"/>
<path d="M905 1165 904 1165 901 1169 894 1171 881 1187 877 1196 877 1203 878 1205 882 1207 888 1206 897 1198 900 1191 902 1189 904 1182 904 1171 906 1168ZM983 1105 973 1108 961 1114 952 1120 940 1130 933 1139 936 1140 939 1138 946 1137 955 1133 968 1123 982 1109Z" fill="#8cf05a" fill-rule="evenodd"/>
<path d="M895 1184 889 1186 883 1192 881 1196 881 1200 883 1202 886 1203 890 1201 894 1197 896 1192 896 1185ZM970 1115 962 1116 954 1121 946 1128 944 1131 944 1134 952 1132 959 1128 965 1123 969 1118Z" fill="#e8e838" fill-rule="evenodd"/>
<path d="M893 1189 889 1189 885 1192 883 1195 883 1199 884 1200 888 1200 892 1197 894 1193ZM967 1118 966 1117 963 1117 954 1122 948 1128 948 1131 951 1131 960 1126Z" fill="#ff9020" fill-rule="evenodd"/>
<path d="M892 1192 888 1192 885 1195 885 1197 886 1198 889 1197ZM964 1119 960 1119 956 1122 950 1129 953 1129 960 1125 964 1121Z" fill="#e83010" fill-rule="evenodd"/></g>
<path d="M736.7 997.5V1325.3H1065" fill="none" stroke="#9a9a9a" stroke-width="2.2"/>
<path d="M732.7 1325.3h4M736.7 1325.3v4M734.7 1308.9h2M753.1 1325.3v2M734.7 1299.2h2M762.8 1325.3v2M734.7 1292.4h2M769.6 1325.3v2M734.7 1287.1h2M774.9 1325.3v2M734.7 1282.8h2M779.2 1325.3v2M734.7 1279.1h2M782.9 1325.3v2M734.7 1276h2M786 1325.3v2M734.7 1273.2h2M788.8 1325.3v2M732.7 1270.7h4M791.3 1325.3v4M734.7 1254.2h2M807.8 1325.3v2M734.7 1244.6h2M817.4 1325.3v2M734.7 1237.8h2M824.2 1325.3v2M734.7 1232.5h2M829.5 1325.3v2M734.7 1228.2h2M833.8 1325.3v2M734.7 1224.5h2M837.5 1325.3v2M734.7 1221.3h2M840.7 1325.3v2M734.7 1218.5h2M843.5 1325.3v2M732.7 1216h4M846 1325.3v4M734.7 1199.6h2M862.4 1325.3v2M734.7 1190h2M872 1325.3v2M734.7 1183.1h2M878.9 1325.3v2M734.7 1177.9h2M884.1 1325.3v2M734.7 1173.5h2M888.5 1325.3v2M734.7 1169.9h2M892.1 1325.3v2M734.7 1166.7h2M895.3 1325.3v2M734.7 1163.9h2M898.1 1325.3v2M732.7 1161.4h4M900.6 1325.3v4M734.7 1145h2M917 1325.3v2M734.7 1135.3h2M926.7 1325.3v2M734.7 1128.5h2M933.5 1325.3v2M734.7 1123.2h2M938.8 1325.3v2M734.7 1118.9h2M943.1 1325.3v2M734.7 1115.2h2M946.8 1325.3v2M734.7 1112.1h2M949.9 1325.3v2M734.7 1109.3h2M952.7 1325.3v2M732.7 1106.8h4M955.2 1325.3v4M734.7 1090.3h2M971.7 1325.3v2M734.7 1080.7h2M981.3 1325.3v2M734.7 1073.9h2M988.1 1325.3v2M734.7 1068.6h2M993.4 1325.3v2M734.7 1064.3h2M997.7 1325.3v2M734.7 1060.6h2M1001.4 1325.3v2M734.7 1057.4h2M1004.6 1325.3v2M734.7 1054.6h2M1007.4 1325.3v2M732.7 1052.1h4M1009.9 1325.3v4M734.7 1035.7h2M1026.3 1325.3v2M734.7 1026.1h2M1035.9 1325.3v2M734.7 1019.3h2M1042.7 1325.3v2M734.7 1014h2M1048 1325.3v2M734.7 1009.6h2M1052.4 1325.3v2M734.7 1006h2M1056 1325.3v2M734.7 1002.8h2M1059.2 1325.3v2M734.7 1000h2M1062 1325.3v2M732.7 997.5h4M1064.5 1325.3v4" stroke="#555" stroke-width="1.3" fill="none"/>
<g font-size="6.5" style="font-weight:normal" fill="#444"><text transform="translate(724.2,1322.8) rotate(-35)" text-anchor="middle">10<tspan dy="-3" font-size="5">1</tspan></text><text transform="translate(735.2,1337.3) rotate(-35)" text-anchor="middle">10<tspan dy="-3" font-size="5">1</tspan></text><text transform="translate(724.2,1268.2) rotate(-35)" text-anchor="middle">10<tspan dy="-3" font-size="5">2</tspan></text><text transform="translate(789.8,1337.3) rotate(-35)" text-anchor="middle">10<tspan dy="-3" font-size="5">2</tspan></text><text transform="translate(724.2,1213.5) rotate(-35)" text-anchor="middle">10<tspan dy="-3" font-size="5">3</tspan></text><text transform="translate(844.5,1337.3) rotate(-35)" text-anchor="middle">10<tspan dy="-3" font-size="5">3</tspan></text><text transform="translate(724.2,1158.9) rotate(-35)" text-anchor="middle">10<tspan dy="-3" font-size="5">4</tspan></text><text transform="translate(899.1,1337.3) rotate(-35)" text-anchor="middle">10<tspan dy="-3" font-size="5">4</tspan></text><text transform="translate(724.2,1104.3) rotate(-35)" text-anchor="middle">10<tspan dy="-3" font-size="5">5</tspan></text><text transform="translate(953.7,1337.3) rotate(-35)" text-anchor="middle">10<tspan dy="-3" font-size="5">5</tspan></text><text transform="translate(724.2,1049.6) rotate(-35)" text-anchor="middle">10<tspan dy="-3" font-size="5">6</tspan></text><text transform="translate(1008.4,1337.3) rotate(-35)" text-anchor="middle">10<tspan dy="-3" font-size="5">6</tspan></text><text transform="translate(724.2,995) rotate(-35)" text-anchor="middle">10<tspan dy="-3" font-size="5">7</tspan></text><text transform="translate(1063,1337.3) rotate(-35)" text-anchor="middle">10<tspan dy="-3" font-size="5">7</tspan></text></g>
<path d="M923.7 997.5V1325.3M736.7 1099.7H1065" stroke="#3a3a3a" stroke-width="2.3" fill="none"/>
<g font-size="13.8" fill="#1c1c1c" style="font-weight:normal"><text x="742" y="1023.2" style="font-weight:normal">Q1</text><text x="742" y="1043.6" style="font-weight:normal">0.21</text><text x="1037.2" y="1023.2" text-anchor="end" style="font-weight:normal">Q2</text><text x="1037.2" y="1043.6" text-anchor="end" style="font-weight:normal">5.32</text><text x="742" y="1287" style="font-weight:normal">Q4</text><text x="742" y="1307.8" style="font-weight:normal">61.2</text><text x="1037.2" y="1287" text-anchor="end" style="font-weight:normal">Q3</text><text x="1037.2" y="1307.8" text-anchor="end" style="font-weight:normal">33.3</text></g>
<rect x="1086.7" y="997.5" width="328.3" height="327.8" fill="#fff" stroke="#c4c4c4" stroke-width="2.4"/>
<g filter="url(#fb)"><path d="M1234.3 1165.5h2v2h-2zM1327.3 1076.8h2v2h-2zM1328.9 1132.9h2v2h-2zM1257.4 1111h2v2h-2zM1249.1 1116.8h2v2h-2zM1270.6 1112.3h2v2h-2zM1214.6 1227.9h2v2h-2zM1220.8 1249.5h2v2h-2zM1340.6 1070.8h2v2h-2zM1284.3 1156.6h2v2h-2zM1230.5 1161.2h2v2h-2zM1213.6 1201.7h2v2h-2zM1251.9 1128.6h2v2h-2zM1256.2 1124h2v2h-2zM1325.2 1078.9h2v2h-2zM1374.5 1083.2h2v2h-2zM1214.8 1157.6h2v2h-2zM1305.9 1138.3h2v2h-2zM1215.6 1181.8h2v2h-2zM1219.1 1182h2v2h-2zM1217.9 1187.1h2v2h-2zM1225.7 1140h2v2h-2zM1235.2 1130.9h2v2h-2zM1269.2 1087.4h2v2h-2zM1243.9 1107.8h2v2h-2zM1301.9 1091.4h2v2h-2zM1336.5 1075.8h2v2h-2zM1261 1082.1h2v2h-2zM1311.4 1138.5h2v2h-2zM1275.5 1087.6h2v2h-2zM1228.2 1136.4h2v2h-2zM1284 1105.5h2v2h-2zM1286 1162.4h2v2h-2zM1339.5 1081.8h2v2h-2zM1235.8 1116.7h2v2h-2zM1204.2 1176.9h2v2h-2zM1285.2 1063h2v2h-2zM1319.7 1092.2h2v2h-2zM1275.4 1122.7h2v2h-2zM1254.8 1210.7h2v2h-2zM1338.1 1071.7h2v2h-2zM1326.6 1077.3h2v2h-2zM1306.6 1098.5h2v2h-2zM1244.7 1108h2v2h-2zM1240.9 1138.9h2v2h-2zM1318 1085h2v2h-2zM1270.3 1181.9h2v2h-2zM1282.3 1065.4h2v2h-2zM1279.1 1069.6h2v2h-2zM1265.2 1122.6h2v2h-2zM1268.3 1184h2v2h-2zM1314.1 1136.5h2v2h-2zM1354.2 1075.5h2v2h-2zM1254.6 1121.9h2v2h-2zM1280 1114h2v2h-2zM1170.2 1231.2h2v2h-2zM1202.7 1227.7h2v2h-2zM1300.7 1098h2v2h-2zM1348.2 1111.1h2v2h-2zM1215.9 1201.3h2v2h-2zM1227.8 1181.2h2v2h-2zM1203.2 1238.4h2v2h-2zM1349.6 1072.9h2v2h-2zM1248.2 1124.4h2v2h-2zM1214.5 1166h2v2h-2zM1241.4 1153.4h2v2h-2zM1337 1078.7h2v2h-2zM1242.5 1219.3h2v2h-2zM1222.5 1150.6h2v2h-2zM1226.3 1161.6h2v2h-2zM1192.6 1219.2h2v2h-2zM1368.4 1083.4h2v2h-2zM1244.8 1124.1h2v2h-2zM1337.7 1075.5h2v2h-2zM1232.4 1144.2h2v2h-2zM1243 1117h2v2h-2zM1257.8 1126.8h2v2h-2zM1236.4 1165.2h2v2h-2zM1248.2 1155.5h2v2h-2zM1345.6 1069.1h2v2h-2zM1216.9 1166.4h2v2h-2zM1310.2 1070.7h2v2h-2zM1362.6 1093.3h2v2h-2zM1210.2 1226.4h2v2h-2zM1211.3 1211.1h2v2h-2zM1286.3 1174.5h2v2h-2zM1196.6 1232.1h2v2h-2zM1234.5 1130h2v2h-2zM1342.6 1067.7h2v2h-2zM1364.9 1060.8h2v2h-2zM1276.1 1119.1h2v2h-2zM1359.3 1061.2h2v2h-2zM1309.4 1150h2v2h-2zM1289.2 1038.7h2v2h-2zM1248.4 1129.3h2v2h-2zM1225.6 1154.8h2v2h-2zM1223.5 1233.9h2v2h-2zM1271.7 1192.8h2v2h-2zM1321.6 1072.9h2v2h-2zM1231.8 1150.4h2v2h-2zM1279.5 1073.4h2v2h-2zM1177.2 1229.7h2v2h-2zM1220.5 1106.3h2v2h-2zM1262.5 1084.3h2v2h-2zM1286.9 1087.1h2v2h-2zM1354.3 1075.8h2v2h-2zM1287.9 1151.9h2v2h-2zM1270.8 1181.7h2v2h-2zM1348.7 1077h2v2h-2zM1235.5 1130.9h2v2h-2zM1320.6 1134.3h2v2h-2zM1225.6 1123.7h2v2h-2zM1235.4 1126.7h2v2h-2zM1284.5 1110h2v2h-2zM1342.7 1082.7h2v2h-2zM1266.4 1050.5h2v2h-2zM1339.5 1086.8h2v2h-2zM1374.1 1093.2h2v2h-2zM1208.1 1220.5h2v2h-2zM1308.9 1086.1h2v2h-2zM1263.3 1100.3h2v2h-2zM1357.3 1064.9h2v2h-2zM1303.2 1074.5h2v2h-2zM1216.4 1227.1h2v2h-2zM1212.5 1221.7h2v2h-2zM1209.1 1237.6h2v2h-2zM1213 1228h2v2h-2zM1195.5 1218.9h2v2h-2zM1298.7 1142.2h2v2h-2zM1308.5 1094.1h2v2h-2zM1289.5 1083.1h2v2h-2zM1219 1159.9h2v2h-2zM1296 1110.6h2v2h-2zM1326.7 1085.2h2v2h-2zM1301.8 1089.5h2v2h-2zM1266.6 1112.8h2v2h-2zM1255.9 1141.3h2v2h-2zM1249.8 1104.9h2v2h-2zM1263 1072.5h2v2h-2zM1386.7 1069.9h2v2h-2zM1210.9 1205.8h2v2h-2zM1292.4 1101.6h2v2h-2zM1236.7 1139.7h2v2h-2zM1278.2 1106h2v2h-2zM1306.8 1065.6h2v2h-2zM1317.2 1090.1h2v2h-2zM1217.5 1159.9h2v2h-2zM1232.8 1171.2h2v2h-2zM1231.4 1149.3h2v2h-2zM1191.9 1189.1h2v2h-2zM1278.8 1065.4h2v2h-2zM1301.6 1095.4h2v2h-2zM1268 1051.5h2v2h-2zM1214.1 1167.7h2v2h-2zM1234.4 1140.5h2v2h-2zM1341.6 1066.5h2v2h-2zM1263 1133.5h2v2h-2zM1288.7 1104.6h2v2h-2zM1329.6 1081.4h2v2h-2zM1208.2 1144.6h2v2h-2zM1341.8 1065.3h2v2h-2zM1200.6 1142.1h2v2h-2zM1265.6 1120.6h2v2h-2zM1341.1 1113h2v2h-2zM1267.7 1092.9h2v2h-2zM1283.5 1093.1h2v2h-2zM1227.7 1226.2h2v2h-2zM1272.3 1058.9h2v2h-2zM1254.7 1099h2v2h-2zM1322.4 1070.7h2v2h-2zM1229.7 1227.1h2v2h-2zM1271.2 1128.9h2v2h-2zM1322.2 1085.7h2v2h-2zM1254.3 1140.3h2v2h-2zM1341.7 1118.9h2v2h-2zM1270.1 1184.9h2v2h-2zM1360.7 1086.3h2v2h-2zM1260.4 1135.6h2v2h-2zM1296.2 1089.4h2v2h-2zM1365.4 1118.1h2v2h-2zM1373.5 1055.1h2v2h-2zM1310.9 1093.7h2v2h-2zM1176.6 1203.9h2v2h-2zM1279.5 1119.5h2v2h-2zM1255.6 1112.6h2v2h-2zM1259.5 1111.5h2v2h-2zM1263.7 1114h2v2h-2zM1235.4 1221.6h2v2h-2zM1247.5 1216.7h2v2h-2zM1235 1165.9h2v2h-2zM1315.4 1088.7h2v2h-2zM1358.9 1080.1h2v2h-2zM1274.8 1058.4h2v2h-2zM1367.5 1057.4h2v2h-2zM1243.6 1158.9h2v2h-2zM1314.8 1136.3h2v2h-2zM1258.5 1139.2h2v2h-2zM1246.4 1104.8h2v2h-2zM1345.6 1071.5h2v2h-2zM1228.9 1162.2h2v2h-2zM1350.2 1106.6h2v2h-2zM1252.5 1138.4h2v2h-2zM1355.1 1082.7h2v2h-2zM1223.9 1184.8h2v2h-2zM1227.1 1129.4h2v2h-2zM1240.5 1116.4h2v2h-2zM1202 1190.9h2v2h-2zM1239.6 1127.5h2v2h-2zM1211.4 1166.8h2v2h-2zM1359.9 1073.5h2v2h-2zM1212.5 1213.3h2v2h-2zM1204.6 1217h2v2h-2zM1250.9 1127.9h2v2h-2zM1225.7 1165.6h2v2h-2zM1338.3 1067.5h2v2h-2zM1254.3 1145.9h2v2h-2zM1367.7 1052.8h2v2h-2zM1340.9 1086.4h2v2h-2zM1211.2 1208.6h2v2h-2zM1218.3 1227.5h2v2h-2zM1255.9 1209h2v2h-2zM1366.6 1092.1h2v2h-2zM1282.5 1062.3h2v2h-2zM1359 1083.4h2v2h-2zM1243.8 1221.5h2v2h-2zM1297.5 1155.6h2v2h-2zM1215.4 1200.8h2v2h-2zM1330 1072.7h2v2h-2zM1218.6 1228.7h2v2h-2zM1271.6 1064.8h2v2h-2zM1242.5 1218.7h2v2h-2zM1275.7 1171.1h2v2h-2zM1235.6 1140.7h2v2h-2zM1256 1146.7h2v2h-2zM1275.3 1181h2v2h-2zM1242.7 1136.4h2v2h-2zM1234.3 1222.2h2v2h-2zM1324.7 1078.9h2v2h-2zM1231 1225.1h2v2h-2zM1293.5 1107.2h2v2h-2zM1353.1 1121.2h2v2h-2zM1218.3 1175.6h2v2h-2zM1210.7 1187h2v2h-2zM1245.5 1129.8h2v2h-2zM1217.3 1190.5h2v2h-2zM1351.9 1080.9h2v2h-2zM1297.7 1105.5h2v2h-2zM1202.6 1214.4h2v2h-2zM1210.1 1244.3h2v2h-2zM1208.1 1219.3h2v2h-2zM1340.4 1086.2h2v2h-2zM1283.1 1116.7h2v2h-2zM1251.5 1136h2v2h-2zM1185.7 1212.3h2v2h-2zM1266.5 1200.7h2v2h-2zM1355.3 1058.6h2v2h-2zM1228.2 1159.1h2v2h-2zM1220.3 1146.8h2v2h-2zM1301.4 1093.6h2v2h-2zM1281.9 1112.7h2v2h-2zM1314.2 1090.8h2v2h-2zM1209.3 1232.8h2v2h-2zM1298.4 1033.7h2v2h-2zM1227.1 1181.9h2v2h-2zM1264.5 1133.7h2v2h-2zM1312.5 1091.8h2v2h-2zM1210.9 1215.3h2v2h-2zM1332.8 1071.7h2v2h-2zM1243.4 1222.4h2v2h-2zM1340.9 1121.1h2v2h-2zM1347.5 1078.4h2v2h-2zM1272.6 1178h2v2h-2zM1267.7 1115.7h2v2h-2zM1358.1 1057.2h2v2h-2zM1309.6 1137.7h2v2h-2zM1264.7 1191.9h2v2h-2zM1281.5 1159.3h2v2h-2zM1290.2 1111.5h2v2h-2zM1276.9 1125.7h2v2h-2zM1349.3 1072h2v2h-2zM1287.5 1112.9h2v2h-2zM1276.3 1123.8h2v2h-2zM1248.3 1150.6h2v2h-2zM1206.5 1250.3h2v2h-2zM1368.3 1084.6h2v2h-2zM1335.7 1064.9h2v2h-2zM1345.6 1107.1h2v2h-2zM1291.9 1107.7h2v2h-2zM1273 1193.1h2v2h-2zM1199.2 1161.9h2v2h-2zM1346.3 1075.7h2v2h-2zM1257.8 1116.9h2v2h-2zM1298 1106.6h2v2h-2zM1259.1 1141.3h2v2h-2zM1255.6 1088h2v2h-2zM1256.5 1093.2h2v2h-2zM1260.7 1123.7h2v2h-2zM1268 1121.8h2v2h-2zM1272.9 1118.6h2v2h-2zM1392.9 1074.5h2v2h-2zM1341.9 1113.7h2v2h-2zM1233.9 1172.2h2v2h-2zM1390.6 1055.6h2v2h-2zM1334.7 1084.5h2v2h-2zM1364 1065h2v2h-2zM1221.8 1190.7h2v2h-2zM1280.6 1164h2v2h-2zM1367.4 1066.6h2v2h-2zM1328 1135.6h2v2h-2zM1267.3 1190.5h2v2h-2zM1263.7 1072.6h2v2h-2zM1243.5 1158.6h2v2h-2zM1391.3 1041.8h2v2h-2zM1273.6 1107.3h2v2h-2zM1348.1 1083h2v2h-2zM1306.6 1082.3h2v2h-2zM1274 1123.1h2v2h-2zM1214.8 1228h2v2h-2zM1188.6 1233.1h2v2h-2zM1367 1059.5h2v2h-2zM1264 1096.2h2v2h-2zM1254.8 1125.6h2v2h-2zM1241.9 1136.8h2v2h-2zM1354 1098.5h2v2h-2zM1280.6 1119.3h2v2h-2zM1197.6 1165.5h2v2h-2zM1216.8 1195.4h2v2h-2zM1199.2 1180h2v2h-2zM1248.7 1220.2h2v2h-2zM1225.9 1157.5h2v2h-2zM1189.3 1185h2v2h-2zM1325.6 1131h2v2h-2zM1346.4 1109.7h2v2h-2zM1197 1177.2h2v2h-2zM1299.5 1103.6h2v2h-2zM1261.9 1090.3h2v2h-2zM1240.9 1141.8h2v2h-2zM1238.2 1227h2v2h-2zM1275.2 1175.4h2v2h-2zM1236.7 1237.6h2v2h-2zM1224.3 1126.1h2v2h-2zM1216.9 1192.8h2v2h-2zM1199.6 1194.7h2v2h-2zM1325.9 1081.6h2v2h-2zM1309.3 1085.7h2v2h-2zM1322.1 1080.8h2v2h-2zM1264.1 1192.9h2v2h-2zM1256 1118.1h2v2h-2zM1266.9 1069.9h2v2h-2zM1296.1 1100.7h2v2h-2zM1206.1 1233.7h2v2h-2zM1229.2 1228h2v2h-2zM1213.8 1234.4h2v2h-2zM1288.7 1111.1h2v2h-2zM1281.7 1128.2h2v2h-2zM1221.1 1187h2v2h-2zM1212.5 1248.9h2v2h-2zM1358.9 1102.2h2v2h-2zM1276.9 1067.3h2v2h-2zM1239.7 1125h2v2h-2zM1213.8 1191.1h2v2h-2zM1280.2 1104.9h2v2h-2zM1264.7 1129.8h2v2h-2zM1280.7 1089.2h2v2h-2zM1265.6 1124.1h2v2h-2zM1248.3 1151.9h2v2h-2zM1286.1 1062.3h2v2h-2zM1358.7 1065.3h2v2h-2zM1251.6 1108.9h2v2h-2zM1249.6 1100.9h2v2h-2zM1279.6 1126.7h2v2h-2zM1265 1135.6h2v2h-2zM1282 1055h2v2h-2zM1225.9 1129.6h2v2h-2zM1229 1229.3h2v2h-2zM1210.8 1170.2h2v2h-2zM1376.8 1089.8h2v2h-2zM1240.9 1221.3h2v2h-2zM1300.5 1103.8h2v2h-2zM1265 1139.3h2v2h-2zM1279.6 1113.3h2v2h-2zM1221.5 1233.7h2v2h-2zM1285.4 1104h2v2h-2zM1288.9 1103h2v2h-2zM1281.6 1082.1h2v2h-2zM1342.7 1116.8h2v2h-2zM1236.8 1141h2v2h-2zM1259.3 1125.7h2v2h-2zM1256.2 1117.7h2v2h-2zM1258 1105.5h2v2h-2zM1286.5 1101.6h2v2h-2zM1253.7 1136.1h2v2h-2zM1209 1217.7h2v2h-2zM1205.7 1198.8h2v2h-2zM1259.6 1120.8h2v2h-2zM1334.2 1075h2v2h-2zM1340.9 1072.5h2v2h-2zM1268.7 1190.8h2v2h-2zM1344.4 1071.1h2v2h-2zM1372.1 1061.2h2v2h-2zM1299.6 1092.3h2v2h-2zM1323.8 1082.1h2v2h-2zM1329.5 1082.4h2v2h-2zM1310.3 1093.9h2v2h-2zM1261.1 1131.7h2v2h-2zM1229.6 1170.3h2v2h-2zM1313.9 1093.9h2v2h-2zM1252.9 1150.6h2v2h-2zM1261.1 1120h2v2h-2zM1305.4 1013.2h2v2h-2zM1213.8 1217.4h2v2h-2zM1310.2 1075.4h2v2h-2zM1252.5 1131.7h2v2h-2zM1200.8 1230.4h2v2h-2zM1354.2 1075h2v2h-2zM1298.6 1080.6h2v2h-2zM1199.7 1236.5h2v2h-2zM1325 1081h2v2h-2zM1258.9 1114.9h2v2h-2zM1231.4 1166.2h2v2h-2zM1287.4 1074.8h2v2h-2zM1278.6 1077.9h2v2h-2zM1251 1146.7h2v2h-2zM1317.5 1078.2h2v2h-2zM1238.5 1234.3h2v2h-2zM1173 1237.1h2v2h-2zM1212.6 1186.1h2v2h-2zM1333.1 1082.6h2v2h-2zM1278.7 1062h2v2h-2zM1318.8 1092.3h2v2h-2zM1206.4 1222.7h2v2h-2zM1198.3 1185.5h2v2h-2zM1283.7 1126.7h2v2h-2zM1197 1197.7h2v2h-2zM1311.5 1137.5h2v2h-2zM1343.1 1080.2h2v2h-2zM1247.5 1133h2v2h-2zM1306.7 1099.9h2v2h-2zM1358.7 1103.7h2v2h-2zM1219.7 1132.8h2v2h-2zM1296.1 1103.9h2v2h-2zM1356.5 1071.3h2v2h-2zM1264.6 1133.7h2v2h-2zM1277.9 1170.9h2v2h-2zM1222.9 1157.6h2v2h-2zM1370.9 1092.5h2v2h-2zM1241.2 1162.1h2v2h-2zM1199.8 1156.4h2v2h-2zM1211.3 1231.1h2v2h-2zM1188.7 1206.4h2v2h-2zM1283.9 1151.1h2v2h-2zM1261.3 1111.5h2v2h-2zM1310 1094.1h2v2h-2zM1361.4 1092h2v2h-2zM1299.1 1092h2v2h-2zM1249 1138.8h2v2h-2zM1210.3 1192.9h2v2h-2zM1361.6 1071.5h2v2h-2zM1278.1 1094.5h2v2h-2zM1270.5 1092.7h2v2h-2zM1236.5 1129.7h2v2h-2zM1235.2 1169.9h2v2h-2zM1194.5 1222.5h2v2h-2zM1344.1 1065h2v2h-2zM1216.7 1182.9h2v2h-2zM1236.5 1127.7h2v2h-2zM1238.6 1121.2h2v2h-2zM1257.3 1202.8h2v2h-2zM1200.6 1231.8h2v2h-2zM1279.3 1158h2v2h-2zM1224.4 1165.6h2v2h-2zM1217.5 1225.1h2v2h-2zM1252.8 1142.1h2v2h-2zM1332.3 1127.3h2v2h-2zM1202.1 1173.3h2v2h-2zM1244.9 1228.9h2v2h-2zM1268.6 1105.4h2v2h-2zM1341 1083.9h2v2h-2zM1242.1 1131.4h2v2h-2zM1277.7 1167.7h2v2h-2zM1297.2 1095.3h2v2h-2zM1246.6 1132.3h2v2h-2zM1393 1061.2h2v2h-2zM1306.9 1095h2v2h-2zM1196.4 1184.5h2v2h-2zM1208.9 1175.7h2v2h-2zM1210.6 1234.1h2v2h-2zM1236.7 1131h2v2h-2zM1293.8 1108.9h2v2h-2zM1232 1164.2h2v2h-2zM1364.6 1064.5h2v2h-2zM1256.4 1121.8h2v2h-2zM1231.1 1159.3h2v2h-2zM1278.1 1068.1h2v2h-2zM1346.8 1106.4h2v2h-2zM1216.1 1164.1h2v2h-2zM1262.1 1142.8h2v2h-2zM1205.8 1203.6h2v2h-2zM1302.3 1106.3h2v2h-2zM1236.2 1131.2h2v2h-2zM1237.4 1166.7h2v2h-2zM1363 1071.4h2v2h-2zM1251.5 1214.6h2v2h-2zM1231.2 1135.2h2v2h-2zM1368.2 1097.4h2v2h-2zM1247.2 1139h2v2h-2zM1369.3 1085h2v2h-2zM1254.3 1132.1h2v2h-2zM1250 1124.9h2v2h-2zM1206 1206.3h2v2h-2zM1282.1 1125.6h2v2h-2zM1225.9 1183.7h2v2h-2zM1248.3 1127.3h2v2h-2zM1278.7 1104.7h2v2h-2zM1323.8 1087.9h2v2h-2zM1242.3 1228h2v2h-2zM1245 1214.6h2v2h-2zM1254.8 1107.7h2v2h-2zM1360.2 1069.7h2v2h-2zM1309.1 1136.5h2v2h-2zM1259.9 1140.5h2v2h-2zM1216.6 1199.5h2v2h-2zM1275.9 1165.3h2v2h-2zM1215.3 1225h2v2h-2zM1276.1 1158.7h2v2h-2zM1268.8 1126.3h2v2h-2zM1281.6 1121.5h2v2h-2zM1378.3 1086h2v2h-2zM1266.1 1110h2v2h-2zM1251.9 1122.2h2v2h-2zM1355.5 1057.6h2v2h-2zM1346.3 1105.9h2v2h-2zM1241.5 1119.4h2v2h-2zM1262.4 1092.5h2v2h-2zM1244.9 1156.4h2v2h-2zM1239.4 1096.6h2v2h-2zM1264.8 1069.5h2v2h-2zM1335 1082.5h2v2h-2zM1353.3 1069.4h2v2h-2zM1211.8 1188.1h2v2h-2zM1364.5 1079.5h2v2h-2zM1274.8 1178.3h2v2h-2zM1209.7 1178.8h2v2h-2zM1209.5 1229.4h2v2h-2zM1229.3 1226.2h2v2h-2zM1230.9 1233.9h2v2h-2zM1286.9 1119.7h2v2h-2zM1265.9 1189.6h2v2h-2zM1279.2 1085.4h2v2h-2zM1213.3 1201h2v2h-2zM1283.5 1125.5h2v2h-2zM1226.9 1163.1h2v2h-2zM1356.4 1097.8h2v2h-2zM1212.8 1251h2v2h-2zM1297.6 1107.5h2v2h-2zM1255.3 1115.5h2v2h-2zM1232.1 1223.9h2v2h-2zM1357 1112.8h2v2h-2zM1203.9 1162.4h2v2h-2zM1243.1 1144.7h2v2h-2zM1220.5 1172h2v2h-2zM1273.8 1191h2v2h-2zM1312.2 1068.2h2v2h-2zM1205.2 1207.2h2v2h-2zM1297.4 1142.3h2v2h-2zM1241.4 1113.1h2v2h-2zM1309.5 1087h2v2h-2zM1239.6 1139.5h2v2h-2zM1305.6 1160h2v2h-2zM1249.4 1099.2h2v2h-2zM1391.4 1063.7h2v2h-2zM1226.7 1183.3h2v2h-2zM1299.6 1144.8h2v2h-2zM1212.8 1222.1h2v2h-2zM1369.4 1074.5h2v2h-2zM1273.3 1198.6h2v2h-2zM1236 1131.1h2v2h-2zM1307 1083.9h2v2h-2zM1275.7 1119.7h2v2h-2zM1232 1112h2v2h-2zM1324.7 1128.6h2v2h-2zM1244.6 1120.2h2v2h-2zM1269.2 1091h2v2h-2zM1205.8 1157.7h2v2h-2zM1204 1231.4h2v2h-2zM1254.4 1210.3h2v2h-2zM1331.7 1082.3h2v2h-2zM1234.7 1222.5h2v2h-2zM1287.4 1118.8h2v2h-2zM1205.7 1214.5h2v2h-2zM1245 1154.4h2v2h-2zM1262.5 1091.4h2v2h-2zM1258.8 1140.4h2v2h-2zM1327 1134.4h2v2h-2zM1209.9 1230h2v2h-2zM1290.7 1102.2h2v2h-2zM1246.7 1134.3h2v2h-2zM1240.9 1129.1h2v2h-2zM1261.5 1067.4h2v2h-2zM1265.1 1060.2h2v2h-2zM1212.4 1209.4h2v2h-2zM1251.8 1136.5h2v2h-2zM1310.4 1089.7h2v2h-2zM1261.6 1196.6h2v2h-2zM1339.1 1086.4h2v2h-2zM1237.1 1115.9h2v2h-2zM1254.3 1135.2h2v2h-2zM1237 1223.9h2v2h-2zM1215 1161.6h2v2h-2zM1252.5 1087.8h2v2h-2zM1232.8 1177.3h2v2h-2zM1247.3 1113h2v2h-2zM1250.6 1145.8h2v2h-2zM1262.1 1068.7h2v2h-2zM1223.4 1186.9h2v2h-2zM1202.8 1170.4h2v2h-2zM1174.6 1284.5h2v2h-2zM1253.4 1134.8h2v2h-2zM1209.8 1211.7h2v2h-2zM1206.5 1249h2v2h-2zM1294.2 1204.3h2v2h-2zM1268.1 1132.8h2v2h-2zM1215.8 1197.3h2v2h-2zM1268.9 1183.1h2v2h-2zM1217.2 1235.7h2v2h-2zM1217.1 1186h2v2h-2zM1368 1064.5h2v2h-2zM1368.9 1082.6h2v2h-2zM1327.9 1079.6h2v2h-2zM1205.9 1229h2v2h-2zM1304.5 1087.9h2v2h-2zM1358 1067h2v2h-2zM1280.4 1109.1h2v2h-2zM1252.8 1135.1h2v2h-2zM1271.6 1178.5h2v2h-2zM1346.1 1080.9h2v2h-2zM1321.9 1074.1h2v2h-2zM1314 1088.3h2v2h-2zM1242.6 1154.6h2v2h-2zM1258.6 1112.8h2v2h-2zM1265.3 1105.3h2v2h-2zM1258.1 1205.4h2v2h-2zM1240.1 1160.6h2v2h-2zM1260.5 1130.7h2v2h-2zM1394.3 1088.2h2v2h-2zM1266.4 1120.1h2v2h-2zM1357.3 1077.8h2v2h-2zM1220.7 1155.9h2v2h-2zM1345 1086.9h2v2h-2zM1259.8 1100.3h2v2h-2zM1266.3 1080h2v2h-2zM1302.1 1073.8h2v2h-2zM1223 1227.6h2v2h-2zM1241.2 1145h2v2h-2zM1248 1151.4h2v2h-2zM1210.5 1221.6h2v2h-2zM1362.8 1121.8h2v2h-2zM1243.6 1121.9h2v2h-2zM1350.7 1104.7h2v2h-2zM1226.6 1138.1h2v2h-2zM1245.4 1133.9h2v2h-2zM1222.7 1185.9h2v2h-2zM1241.1 1234.4h2v2h-2zM1373.1 1063.9h2v2h-2zM1268.2 1126.7h2v2h-2zM1318.7 1129.1h2v2h-2zM1343.9 1109.1h2v2h-2zM1256 1101.7h2v2h-2zM1227.7 1160.7h2v2h-2zM1170.9 1244.6h2v2h-2zM1326.4 1124.9h2v2h-2zM1247.8 1098.5h2v2h-2zM1253.5 1213.3h2v2h-2zM1233.2 1228.9h2v2h-2zM1276.2 1122.3h2v2h-2zM1285.2 1101.5h2v2h-2zM1289.6 1105.7h2v2h-2zM1289.6 1150.6h2v2h-2zM1277.5 1114.1h2v2h-2zM1240.9 1100.5h2v2h-2zM1271.6 1100.5h2v2h-2zM1283.5 1122.3h2v2h-2zM1269 1093h2v2h-2zM1213.4 1204.5h2v2h-2zM1212.9 1205.3h2v2h-2zM1220.6 1106.4h2v2h-2zM1211.7 1204.2h2v2h-2zM1275.7 1162.7h2v2h-2zM1223.9 1163.2h2v2h-2zM1290.7 1106.5h2v2h-2zM1300.7 1087h2v2h-2zM1200.7 1189h2v2h-2zM1360.6 1076.1h2v2h-2zM1218.6 1245.1h2v2h-2zM1280.1 1165.1h2v2h-2zM1197.4 1234.1h2v2h-2zM1136.8 1266.2h2v2h-2zM1194.9 1210.4h2v2h-2zM1217.6 1235.1h2v2h-2zM1214.8 1171.8h2v2h-2z" fill="#3c3cff" opacity="0.7"/>
<path d="M1262 1113 1261 1113 1259 1110 1256 1110 1251 1113 1248 1113 1247 1116 1249 1116 1252 1114 1262 1114ZM1367 1077 1363 1076 1358 1078 1352 1073 1349 1073 1346 1076 1342 1071 1339 1071 1336 1073 1334 1073 1330 1077 1325 1078 1323 1080 1323 1083 1319 1087 1314 1086 1310 1088 1308 1090 1306 1095 1299 1095 1296 1099 1293 1100 1288 1105 1288 1108 1284 1112 1283 1115 1281 1116 1279 1114 1276 1117 1273 1118 1271 1123 1267 1123 1265 1129 1262 1129 1259 1127 1258 1125 1258 1120 1257 1119 1255 1120 1250 1120 1250 1123 1252 1124 1257 1130 1254 1133 1250 1133 1249 1132 1249 1129 1242 1124 1240 1124 1240 1127 1238 1129 1235 1128 1234 1131 1238 1135 1238 1137 1236 1139 1231 1139 1230 1140 1230 1144 1225 1148 1225 1150 1229 1152 1230 1150 1234 1147 1235 1148 1235 1152 1238 1153 1240 1155 1239 1160 1236 1163 1234 1163 1232 1165 1228 1166 1229 1175 1226 1178 1223 1179 1217 1186 1217 1189 1213 1191 1214 1196 1212 1198 1212 1206 1210 1210 1210 1215 1207 1217 1207 1222 1209 1224 1209 1229 1211 1231 1217 1231 1220 1233 1223 1232 1228 1228 1233 1227 1247 1215 1252 1212 1267 1192 1269 1185 1274 1178 1274 1175 1277 1170 1278 1165 1281 1162 1281 1157 1288 1149 1291 1148 1303 1139 1307 1137 1311 1137 1314 1132 1318 1131 1328 1122 1331 1121 1337 1115 1341 1113 1351 1102 1354 1101 1357 1098 1363 1086 1366 1083 1369 1082ZM1246 1136 1251 1140 1251 1143 1248 1146 1247 1151 1245 1153 1242 1153 1238 1150 1238 1147 1240 1145 1240 1139 1244 1136Z" fill="url(#spk)" fill-rule="evenodd"/>
<path d="M1356 1088 1355 1087 1352 1087 1343 1092 1332 1093 1328 1096 1324 1095 1319 1101 1316 1099 1314 1099 1314 1103 1300 1118 1297 1119 1290 1127 1282 1134 1279 1135 1274 1141 1264 1146 1260 1151 1256 1152 1255 1155 1247 1164 1240 1169 1239 1174 1232 1181 1227 1188 1223 1198 1219 1203 1219 1207 1217 1210 1217 1212 1219 1215 1219 1220 1221 1222 1230 1220 1234 1218 1250 1205 1253 1201 1257 1198 1261 1187 1270 1172 1268 1168 1271 1164 1271 1161 1270 1160 1271 1157 1286 1145 1297 1140 1305 1134 1319 1126 1324 1121 1327 1120 1332 1116 1345 1102 1352 1096 1356 1090Z" fill="url(#spk2)" fill-rule="evenodd"/>
<path d="M1261 1159 1258 1159 1247 1171 1244 1172 1242 1176 1234 1184 1229 1191 1224 1201 1223 1211 1225 1214 1233 1214 1238 1211 1254 1196 1259 1186 1260 1178 1264 1172 1263 1162ZM1345 1096 1344 1095 1336 1096 1329 1101 1323 1103 1320 1106 1314 1109 1300 1120 1283 1138 1279 1140 1278 1143 1281 1144 1287 1141 1293 1140 1318 1125 1336 1110 1343 1102Z" fill="#3aa8ff" fill-rule="evenodd"/>
<path d="M1259 1172 1255 1175 1248 1174 1241 1182 1237 1184 1227 1200 1227 1206 1229 1209 1231 1210 1237 1209 1243 1205 1252 1195 1257 1185 1257 1175ZM1341 1099 1338 1098 1332 1102 1320 1107 1307 1116 1293 1129 1288 1136 1288 1138 1295 1137 1299 1134 1305 1132 1313 1126 1318 1124 1335 1109 1341 1101Z" fill="#8cf05a" fill-rule="evenodd"/>
<path d="M1250 1183 1247 1183 1245 1185 1241 1186 1236 1192 1232 1200 1232 1203 1234 1205 1236 1205 1241 1202 1247 1196 1251 1189 1251 1184ZM1331 1108 1325 1108 1315 1113 1302 1124 1300 1129 1305 1129 1309 1126 1316 1123 1320 1120Z" fill="#e8e838" fill-rule="evenodd"/>
<path d="M1248 1186 1243 1187 1238 1192 1235 1197 1235 1201 1239 1201 1246 1195 1249 1189ZM1326 1111 1321 1111 1314 1115 1305 1123 1304 1127 1317 1121 1325 1114Z" fill="#ff9020" fill-rule="evenodd"/>
<path d="M1246 1188 1243 1189 1239 1193 1238 1198 1241 1198 1244 1196 1246 1192ZM1323 1112 1316 1115 1312 1118 1309 1123 1313 1122 1318 1119 1323 1114Z" fill="#e83010" fill-rule="evenodd"/></g>
<path d="M1086.7 997.5V1325.3H1415" fill="none" stroke="#9a9a9a" stroke-width="2.2"/>
<path d="M1082.7 1325.3h4M1086.7 1325.3v4M1084.7 1308.9h2M1103.1 1325.3v2M1084.7 1299.2h2M1112.8 1325.3v2M1084.7 1292.4h2M1119.6 1325.3v2M1084.7 1287.1h2M1124.9 1325.3v2M1084.7 1282.8h2M1129.2 1325.3v2M1084.7 1279.1h2M1132.9 1325.3v2M1084.7 1276h2M1136 1325.3v2M1084.7 1273.2h2M1138.8 1325.3v2M1082.7 1270.7h4M1141.3 1325.3v4M1084.7 1254.2h2M1157.8 1325.3v2M1084.7 1244.6h2M1167.4 1325.3v2M1084.7 1237.8h2M1174.2 1325.3v2M1084.7 1232.5h2M1179.5 1325.3v2M1084.7 1228.2h2M1183.8 1325.3v2M1084.7 1224.5h2M1187.5 1325.3v2M1084.7 1221.3h2M1190.7 1325.3v2M1084.7 1218.5h2M1193.5 1325.3v2M1082.7 1216h4M1196 1325.3v4M1084.7 1199.6h2M1212.4 1325.3v2M1084.7 1190h2M1222 1325.3v2M1084.7 1183.1h2M1228.9 1325.3v2M1084.7 1177.9h2M1234.1 1325.3v2M1084.7 1173.5h2M1238.5 1325.3v2M1084.7 1169.9h2M1242.1 1325.3v2M1084.7 1166.7h2M1245.3 1325.3v2M1084.7 1163.9h2M1248.1 1325.3v2M1082.7 1161.4h4M1250.6 1325.3v4M1084.7 1145h2M1267 1325.3v2M1084.7 1135.3h2M1276.7 1325.3v2M1084.7 1128.5h2M1283.5 1325.3v2M1084.7 1123.2h2M1288.8 1325.3v2M1084.7 1118.9h2M1293.1 1325.3v2M1084.7 1115.2h2M1296.8 1325.3v2M1084.7 1112.1h2M1299.9 1325.3v2M1084.7 1109.3h2M1302.7 1325.3v2M1082.7 1106.8h4M1305.2 1325.3v4M1084.7 1090.3h2M1321.7 1325.3v2M1084.7 1080.7h2M1331.3 1325.3v2M1084.7 1073.9h2M1338.1 1325.3v2M1084.7 1068.6h2M1343.4 1325.3v2M1084.7 1064.3h2M1347.7 1325.3v2M1084.7 1060.6h2M1351.4 1325.3v2M1084.7 1057.4h2M1354.6 1325.3v2M1084.7 1054.6h2M1357.4 1325.3v2M1082.7 1052.1h4M1359.9 1325.3v4M1084.7 1035.7h2M1376.3 1325.3v2M1084.7 1026.1h2M1385.9 1325.3v2M1084.7 1019.3h2M1392.7 1325.3v2M1084.7 1014h2M1398 1325.3v2M1084.7 1009.6h2M1402.4 1325.3v2M1084.7 1006h2M1406 1325.3v2M1084.7 1002.8h2M1409.2 1325.3v2M1084.7 1000h2M1412 1325.3v2M1082.7 997.5h4M1414.5 1325.3v4" stroke="#555" stroke-width="1.3" fill="none"/>
<g font-size="6.5" style="font-weight:normal" fill="#444"><text transform="translate(1074.2,1322.8) rotate(-35)" text-anchor="middle">10<tspan dy="-3" font-size="5">1</tspan></text><text transform="translate(1085.2,1337.3) rotate(-35)" text-anchor="middle">10<tspan dy="-3" font-size="5">1</tspan></text><text transform="translate(1074.2,1268.2) rotate(-35)" text-anchor="middle">10<tspan dy="-3" font-size="5">2</tspan></text><text transform="translate(1139.8,1337.3) rotate(-35)" text-anchor="middle">10<tspan dy="-3" font-size="5">2</tspan></text><text transform="translate(1074.2,1213.5) rotate(-35)" text-anchor="middle">10<tspan dy="-3" font-size="5">3</tspan></text><text transform="translate(1194.5,1337.3) rotate(-35)" text-anchor="middle">10<tspan dy="-3" font-size="5">3</tspan></text><text transform="translate(1074.2,1158.9) rotate(-35)" text-anchor="middle">10<tspan dy="-3" font-size="5">4</tspan></text><text transform="translate(1249.1,1337.3) rotate(-35)" text-anchor="middle">10<tspan dy="-3" font-size="5">4</tspan></text><text transform="translate(1074.2,1104.3) rotate(-35)" text-anchor="middle">10<tspan dy="-3" font-size="5">5</tspan></text><text transform="translate(1303.7,1337.3) rotate(-35)" text-anchor="middle">10<tspan dy="-3" font-size="5">5</tspan></text><text transform="translate(1074.2,1049.6) rotate(-35)" text-anchor="middle">10<tspan dy="-3" font-size="5">6</tspan></text><text transform="translate(1358.4,1337.3) rotate(-35)" text-anchor="middle">10<tspan dy="-3" font-size="5">6</tspan></text><text transform="translate(1074.2,995) rotate(-35)" text-anchor="middle">10<tspan dy="-3" font-size="5">7</tspan></text><text transform="translate(1413,1337.3) rotate(-35)" text-anchor="middle">10<tspan dy="-3" font-size="5">7</tspan></text></g>
<path d="M1275.4 997.5V1325.3M1086.7 1099.7H1415" stroke="#3a3a3a" stroke-width="2.3" fill="none"/>
<g font-size="13.8" fill="#1c1c1c" style="font-weight:normal"><text x="1092" y="1023.2" style="font-weight:normal">Q1</text><text x="1092" y="1043.6" style="font-weight:normal">0.16</text><text x="1387.2" y="1023.2" text-anchor="end" style="font-weight:normal">Q2</text><text x="1387.2" y="1043.6" text-anchor="end" style="font-weight:normal">6.32</text><text x="1092" y="1287" style="font-weight:normal">Q4</text><text x="1092" y="1307.8" style="font-weight:normal">58.4</text><text x="1387.2" y="1287" text-anchor="end" style="font-weight:normal">Q3</text><text x="1387.2" y="1307.8" text-anchor="end" style="font-weight:normal">35.1</text></g>
<rect x="1435.6" y="997.5" width="328.3" height="327.8" fill="#fff" stroke="#c4c4c4" stroke-width="2.4"/>
<g filter="url(#fb)"><path d="M1645 1189.2h2v2h-2zM1730.4 1087.9h2v2h-2zM1545.3 1227.6h2v2h-2zM1665.7 1090.1h2v2h-2zM1652.7 1171.2h2v2h-2zM1572.2 1215.5h2v2h-2zM1685 1133.5h2v2h-2zM1612.9 1125.4h2v2h-2zM1716.8 1084.6h2v2h-2zM1666.3 1089.5h2v2h-2zM1612.9 1116.9h2v2h-2zM1570.5 1226.7h2v2h-2zM1639.1 1117.7h2v2h-2zM1592.4 1143h2v2h-2zM1575.3 1222.7h2v2h-2zM1682.6 1139.2h2v2h-2zM1532.6 1245.2h2v2h-2zM1606 1127.4h2v2h-2zM1615.9 1086.3h2v2h-2zM1564.8 1155.1h2v2h-2zM1582.9 1137.8h2v2h-2zM1643.9 1067.7h2v2h-2zM1616.1 1192.6h2v2h-2zM1581.4 1152.8h2v2h-2zM1558.5 1238.3h2v2h-2zM1690.7 1071.1h2v2h-2zM1657.1 1073.1h2v2h-2zM1704.7 1126.1h2v2h-2zM1667.2 1089.5h2v2h-2zM1625.7 1076h2v2h-2zM1608.6 1206.6h2v2h-2zM1662.8 1076.3h2v2h-2zM1572.5 1219.7h2v2h-2zM1570.9 1199.6h2v2h-2zM1612.4 1203h2v2h-2zM1595.1 1224h2v2h-2zM1606.4 1124.7h2v2h-2zM1592.2 1152.9h2v2h-2zM1628.2 1187.9h2v2h-2zM1704.8 1083h2v2h-2zM1577.6 1183.4h2v2h-2zM1681.5 1139.7h2v2h-2zM1644.4 1109.9h2v2h-2zM1708 1100.2h2v2h-2zM1549.3 1210.3h2v2h-2zM1682.1 1066.1h2v2h-2zM1611.8 1083.9h2v2h-2zM1626.8 1069.9h2v2h-2zM1538.2 1227.6h2v2h-2zM1691.2 1080.4h2v2h-2zM1493.8 1234.7h2v2h-2zM1487.6 1193.9h2v2h-2zM1654.3 1169.3h2v2h-2zM1661.3 1092.8h2v2h-2zM1542.2 1240.4h2v2h-2zM1646.7 1170h2v2h-2zM1621.5 1092.9h2v2h-2zM1599.8 1153.6h2v2h-2zM1605.4 1105.5h2v2h-2zM1632.4 1104h2v2h-2zM1700.9 1146.1h2v2h-2zM1604.1 1236h2v2h-2zM1683.5 1144.7h2v2h-2zM1675.3 1067.8h2v2h-2zM1610.8 1101.6h2v2h-2zM1572.4 1236.2h2v2h-2zM1586.2 1231.7h2v2h-2zM1689.1 1136.2h2v2h-2zM1619.9 1091.5h2v2h-2zM1680.6 1082.4h2v2h-2zM1544.7 1243.1h2v2h-2zM1693.2 1119.3h2v2h-2zM1601 1138.9h2v2h-2zM1685.5 1137.7h2v2h-2zM1707.7 1086.7h2v2h-2zM1622.4 1115.7h2v2h-2zM1644.8 1090.9h2v2h-2zM1666.5 1167h2v2h-2zM1629.4 1097.3h2v2h-2zM1648.1 1097.5h2v2h-2zM1584.6 1223.5h2v2h-2zM1718.7 1074.7h2v2h-2zM1591.5 1229.9h2v2h-2zM1615.8 1129.9h2v2h-2zM1618.2 1113.8h2v2h-2zM1668.2 1076h2v2h-2zM1553.3 1236h2v2h-2zM1606.4 1128.1h2v2h-2zM1719.7 1086.4h2v2h-2zM1703.4 1103.9h2v2h-2zM1631.3 1113.3h2v2h-2zM1532.6 1232.1h2v2h-2zM1633.5 1201.2h2v2h-2zM1599.1 1117.7h2v2h-2zM1682 1081.9h2v2h-2zM1688.2 1082.3h2v2h-2zM1617.8 1105.8h2v2h-2zM1642.6 1217.6h2v2h-2zM1629.6 1076.1h2v2h-2zM1670.6 1077h2v2h-2zM1656.1 1096.7h2v2h-2zM1709.5 1085.6h2v2h-2zM1545.7 1153.3h2v2h-2zM1608.9 1203.2h2v2h-2zM1576.2 1228.2h2v2h-2zM1603.8 1141.8h2v2h-2zM1621.2 1116h2v2h-2zM1696.9 1118.8h2v2h-2zM1574.8 1210.3h2v2h-2zM1689.7 1079.3h2v2h-2zM1705.7 1088.9h2v2h-2zM1617.7 1200.2h2v2h-2zM1638.4 1115.9h2v2h-2zM1594.2 1222.6h2v2h-2zM1618.6 1095.3h2v2h-2zM1697.5 1062h2v2h-2zM1591.3 1169h2v2h-2zM1574.8 1206.1h2v2h-2zM1570.7 1289.8h2v2h-2zM1623.9 1085.3h2v2h-2zM1711.8 1089.5h2v2h-2zM1574.4 1190.8h2v2h-2zM1555.6 1239.1h2v2h-2zM1633.2 1121.5h2v2h-2zM1674.2 1156.1h2v2h-2zM1597.5 1142.8h2v2h-2zM1585.7 1136.4h2v2h-2zM1626.1 1089.9h2v2h-2zM1526.5 1247.4h2v2h-2zM1622.2 1093.7h2v2h-2zM1662.5 1168.2h2v2h-2zM1583.8 1182.3h2v2h-2zM1588.3 1222.4h2v2h-2zM1697.5 1058.8h2v2h-2zM1594.3 1098.6h2v2h-2zM1642 1176.7h2v2h-2zM1696.3 1136.6h2v2h-2zM1551.6 1229.4h2v2h-2zM1693 1079.3h2v2h-2zM1585.2 1104.7h2v2h-2zM1658.5 1160.6h2v2h-2zM1686.3 1132.8h2v2h-2zM1685.9 1138.3h2v2h-2zM1709.1 1089.1h2v2h-2zM1669.1 1087.6h2v2h-2zM1708.2 1093.3h2v2h-2zM1536.5 1283.7h2v2h-2zM1559.7 1290.3h2v2h-2zM1556.6 1172.1h2v2h-2zM1654.5 1181.4h2v2h-2zM1642.4 1189.5h2v2h-2zM1623 1068.3h2v2h-2zM1653.5 1053.2h2v2h-2zM1642.7 1105.9h2v2h-2zM1573.5 1235.3h2v2h-2zM1606.6 1141.4h2v2h-2zM1593.5 1147.5h2v2h-2zM1717.5 1073.6h2v2h-2zM1632.2 1088.3h2v2h-2zM1579 1187.1h2v2h-2zM1645.9 1107h2v2h-2zM1647.2 1176.4h2v2h-2zM1606.3 1089.7h2v2h-2zM1592.7 1222.4h2v2h-2zM1667.1 1084.1h2v2h-2zM1543.2 1210.6h2v2h-2zM1623.6 1185h2v2h-2zM1727.4 1059.6h2v2h-2zM1690.6 1079.1h2v2h-2zM1648.4 1100h2v2h-2zM1651.3 1085.3h2v2h-2zM1618 1196.5h2v2h-2zM1595.5 1150.7h2v2h-2zM1669.2 1153.5h2v2h-2zM1538.1 1241.5h2v2h-2zM1647.9 1167.2h2v2h-2zM1654.4 1098.5h2v2h-2zM1579.1 1222h2v2h-2zM1696.2 1067.3h2v2h-2zM1672.1 1151.1h2v2h-2zM1686.2 1133.9h2v2h-2zM1613.3 1084.5h2v2h-2zM1622.4 1070.4h2v2h-2zM1601.2 1143.8h2v2h-2zM1569.2 1203.9h2v2h-2zM1537.2 1247.4h2v2h-2zM1673 1156.5h2v2h-2zM1616.1 1030.3h2v2h-2zM1678.6 1083.5h2v2h-2zM1508.6 1218.9h2v2h-2zM1540.9 1265.7h2v2h-2zM1636.9 1110.2h2v2h-2zM1678.5 1071.2h2v2h-2zM1624 1192.3h2v2h-2zM1701.7 1139.4h2v2h-2zM1716.7 1061.8h2v2h-2zM1607.2 1111.1h2v2h-2zM1625.8 1189.7h2v2h-2zM1656.7 1165.7h2v2h-2zM1692.3 1074.8h2v2h-2zM1579.5 1184.6h2v2h-2zM1660.1 1088.3h2v2h-2zM1613.7 1220.7h2v2h-2zM1556.6 1206.1h2v2h-2zM1592.4 1165.6h2v2h-2zM1740.3 1085.5h2v2h-2zM1689.2 1131.1h2v2h-2zM1694.9 1132.6h2v2h-2zM1594.3 1148h2v2h-2zM1570.6 1242.3h2v2h-2zM1628.6 1074.3h2v2h-2zM1636.2 1100.4h2v2h-2zM1721.8 1051.5h2v2h-2zM1642.5 1105h2v2h-2zM1612.6 1112.8h2v2h-2zM1589.4 1172.1h2v2h-2zM1560.5 1252.9h2v2h-2zM1609.4 1116.4h2v2h-2zM1609.8 1126.2h2v2h-2zM1622.6 1101.8h2v2h-2zM1586.5 1178.3h2v2h-2zM1709.3 1052.7h2v2h-2zM1542.9 1227.7h2v2h-2zM1559.8 1256.7h2v2h-2zM1688.7 1148.2h2v2h-2zM1702.9 1101.1h2v2h-2zM1643.4 1172.8h2v2h-2zM1545.7 1232.7h2v2h-2zM1627.4 1082.1h2v2h-2zM1706.7 1075.5h2v2h-2zM1608.3 1142h2v2h-2zM1534.5 1255.5h2v2h-2zM1575.3 1227.5h2v2h-2zM1555.6 1232.5h2v2h-2zM1588.8 1119.1h2v2h-2zM1619.9 1100.8h2v2h-2zM1600.9 1143.5h2v2h-2zM1692 1129.2h2v2h-2zM1593.7 1153.4h2v2h-2zM1704.8 1107.4h2v2h-2zM1613.4 1104.8h2v2h-2zM1569 1216.4h2v2h-2zM1620.3 1061.8h2v2h-2zM1697.5 1080.1h2v2h-2zM1611.6 1125.5h2v2h-2zM1649 1091.5h2v2h-2zM1631.1 1187.2h2v2h-2zM1637.3 1109.8h2v2h-2zM1573.5 1151.3h2v2h-2zM1607.2 1129.4h2v2h-2zM1687.8 1077.6h2v2h-2zM1688.5 1072.3h2v2h-2zM1585.5 1162.8h2v2h-2zM1646.7 1108h2v2h-2zM1598.5 1143.5h2v2h-2zM1665.4 1084.2h2v2h-2zM1723.1 1097.5h2v2h-2zM1538.9 1241.8h2v2h-2zM1571.2 1201.4h2v2h-2zM1683.6 1081.3h2v2h-2zM1670.1 1153.5h2v2h-2zM1623.1 1076.5h2v2h-2zM1669.3 1158.9h2v2h-2zM1647.3 1100.7h2v2h-2zM1575 1209.2h2v2h-2zM1580.2 1179.4h2v2h-2zM1602.3 1213.3h2v2h-2zM1592.7 1226.4h2v2h-2zM1593.4 1217.3h2v2h-2zM1583.4 1176h2v2h-2zM1608.2 1131.1h2v2h-2zM1604 1145.1h2v2h-2zM1631.3 1091.1h2v2h-2zM1535.9 1240.9h2v2h-2zM1580.2 1241.4h2v2h-2zM1578.6 1198.8h2v2h-2zM1695.6 1068.1h2v2h-2zM1658 1088h2v2h-2zM1582.2 1185h2v2h-2zM1743.3 1053h2v2h-2zM1657.5 1165h2v2h-2zM1674.1 1146.2h2v2h-2zM1646.8 1091.5h2v2h-2zM1600.7 1152.8h2v2h-2zM1717.4 1061.7h2v2h-2zM1579.5 1192.3h2v2h-2zM1703.8 1051.1h2v2h-2zM1687.2 1081.6h2v2h-2zM1535.6 1214.8h2v2h-2zM1689 1080.9h2v2h-2zM1701.1 1057.6h2v2h-2zM1576.2 1256.3h2v2h-2zM1544.6 1238.7h2v2h-2zM1621.1 1198.9h2v2h-2zM1709.5 1113.8h2v2h-2zM1586.2 1142.2h2v2h-2zM1698.3 1071.9h2v2h-2zM1711.6 1084.3h2v2h-2zM1609.2 1208.9h2v2h-2zM1615 1127h2v2h-2zM1670.5 1084.3h2v2h-2zM1551.2 1234.1h2v2h-2zM1578.9 1170.1h2v2h-2zM1716.8 1120.1h2v2h-2zM1598.4 1238.9h2v2h-2zM1705.7 1084.7h2v2h-2zM1664.8 1077h2v2h-2zM1582.5 1145.3h2v2h-2zM1530.5 1244.1h2v2h-2zM1596 1143h2v2h-2zM1578.4 1202.8h2v2h-2zM1616.8 1112.3h2v2h-2zM1590 1232.3h2v2h-2zM1574 1228.4h2v2h-2zM1593.8 1272h2v2h-2zM1622.9 1081.1h2v2h-2zM1536 1233.5h2v2h-2zM1613.9 1195.7h2v2h-2zM1639.7 1194.6h2v2h-2zM1614.8 1124.3h2v2h-2zM1676.4 1157.8h2v2h-2zM1583.4 1161.4h2v2h-2zM1622.8 1188h2v2h-2zM1556.1 1274.3h2v2h-2zM1552.2 1245.3h2v2h-2zM1736.1 1087.1h2v2h-2zM1662.9 1087.8h2v2h-2zM1532.2 1244.6h2v2h-2zM1573.8 1159.8h2v2h-2zM1647.8 1200.9h2v2h-2zM1574.1 1193.3h2v2h-2zM1702.8 1106.6h2v2h-2zM1576.2 1203.9h2v2h-2zM1578.7 1260.3h2v2h-2zM1710.3 1104.3h2v2h-2zM1584 1157.1h2v2h-2zM1628.6 1186.5h2v2h-2zM1565 1229.4h2v2h-2zM1650 1171.1h2v2h-2zM1740.6 1026.2h2v2h-2zM1628.6 1119.4h2v2h-2zM1578.3 1174.9h2v2h-2zM1712.2 1090.1h2v2h-2zM1573.7 1162.7h2v2h-2zM1663.3 1158.6h2v2h-2zM1535.7 1232.3h2v2h-2zM1610.5 1116.6h2v2h-2zM1601.5 1137.4h2v2h-2zM1709.8 1085.2h2v2h-2zM1679.7 1084.8h2v2h-2zM1690.3 1079.9h2v2h-2zM1641.6 1112h2v2h-2zM1581.8 1187.6h2v2h-2zM1594.3 1145.7h2v2h-2zM1699 1068.4h2v2h-2zM1579.4 1165.3h2v2h-2zM1634.6 1103.9h2v2h-2zM1592.5 1219.3h2v2h-2zM1601.6 1099.6h2v2h-2zM1686.7 1080.9h2v2h-2zM1534.9 1253.3h2v2h-2zM1635.9 1105.9h2v2h-2zM1612.8 1114.5h2v2h-2zM1697.6 1073.9h2v2h-2zM1578.8 1171.7h2v2h-2zM1666 1086h2v2h-2zM1603.6 1098.2h2v2h-2zM1699.2 1087.5h2v2h-2zM1694.8 1126h2v2h-2zM1683.1 1076.1h2v2h-2zM1720.5 1121.2h2v2h-2zM1681.9 1082.4h2v2h-2zM1584 1228.5h2v2h-2zM1534.9 1228.2h2v2h-2zM1733.5 1065.7h2v2h-2zM1690.7 1139.1h2v2h-2zM1579.4 1193.2h2v2h-2zM1668.2 1153.6h2v2h-2zM1695.9 1075h2v2h-2zM1654.9 1077.7h2v2h-2zM1533.1 1254.8h2v2h-2zM1568.8 1185.1h2v2h-2zM1722.7 1093.5h2v2h-2zM1568.3 1233.9h2v2h-2zM1706.5 1094.6h2v2h-2zM1582.1 1235.2h2v2h-2zM1600.7 1111h2v2h-2zM1719.2 1076.8h2v2h-2zM1542.6 1256.4h2v2h-2zM1564.4 1182.2h2v2h-2zM1604.9 1210.3h2v2h-2zM1530.2 1247.5h2v2h-2zM1647.7 1074.5h2v2h-2zM1576.5 1231.9h2v2h-2zM1640 1171h2v2h-2zM1545.4 1215h2v2h-2zM1710.6 1089.5h2v2h-2zM1551.9 1290h2v2h-2zM1571.5 1209.3h2v2h-2zM1561.4 1207.3h2v2h-2zM1558.5 1237.3h2v2h-2zM1617.7 1067.3h2v2h-2zM1601.3 1119.8h2v2h-2zM1579.4 1279.5h2v2h-2zM1670.9 1151.4h2v2h-2zM1576.4 1203.9h2v2h-2zM1706.1 1073.1h2v2h-2zM1587.5 1241.1h2v2h-2zM1619.3 1104.8h2v2h-2zM1650.8 1083.4h2v2h-2zM1629.2 1183.6h2v2h-2zM1680.8 1165.7h2v2h-2zM1607.7 1144.8h2v2h-2zM1712 1087.9h2v2h-2zM1650.3 1083.4h2v2h-2zM1554.2 1230.3h2v2h-2zM1594.5 1230.8h2v2h-2zM1662.4 1165.4h2v2h-2zM1589.2 1136.4h2v2h-2zM1702.9 1134.1h2v2h-2zM1603.9 1149.6h2v2h-2zM1611.5 1134.2h2v2h-2zM1615.1 1205.1h2v2h-2zM1630.1 1119.5h2v2h-2zM1565.2 1176.2h2v2h-2zM1666.2 1090.9h2v2h-2zM1680.2 1147h2v2h-2zM1580.3 1172.7h2v2h-2zM1711.3 1110.7h2v2h-2zM1629.2 1089.5h2v2h-2zM1693.5 1141.7h2v2h-2zM1600.2 1146.9h2v2h-2zM1618.9 1072.2h2v2h-2zM1669.9 1157.7h2v2h-2zM1618.5 1070.6h2v2h-2zM1667.2 1092.8h2v2h-2zM1627.9 1071.2h2v2h-2zM1617.1 1189.8h2v2h-2zM1546.6 1298.5h2v2h-2zM1620.8 1092.8h2v2h-2zM1564.1 1204.2h2v2h-2zM1695.3 1071.5h2v2h-2zM1635.2 1075.3h2v2h-2zM1575 1210h2v2h-2zM1610.9 1084.7h2v2h-2zM1630.8 1179.1h2v2h-2zM1705.6 1080.4h2v2h-2zM1647.3 1187h2v2h-2zM1644.1 1090.1h2v2h-2zM1566.8 1211.8h2v2h-2zM1647.6 1101.8h2v2h-2zM1574.7 1194.7h2v2h-2zM1724.3 1042.7h2v2h-2zM1705 1125.3h2v2h-2zM1676.3 1081.5h2v2h-2zM1707.8 1061.7h2v2h-2zM1570.3 1206.7h2v2h-2zM1630.4 1118.9h2v2h-2zM1624.8 1182.5h2v2h-2zM1585.5 1177.2h2v2h-2zM1649.2 1104.6h2v2h-2zM1658.5 1078.3h2v2h-2zM1581.4 1172.1h2v2h-2zM1619.2 1204.4h2v2h-2zM1696.1 1074.3h2v2h-2zM1660.4 1160.5h2v2h-2zM1624.8 1061.6h2v2h-2zM1625.5 1038.2h2v2h-2zM1600.3 1119.6h2v2h-2zM1621.7 1051.4h2v2h-2zM1700.1 1114h2v2h-2zM1710.7 1094.8h2v2h-2zM1556.8 1268.2h2v2h-2zM1655.5 1099.4h2v2h-2zM1677.6 1083.4h2v2h-2zM1665.3 1086.7h2v2h-2zM1551.1 1208.7h2v2h-2zM1603 1233.4h2v2h-2zM1697.1 1075.7h2v2h-2zM1613.5 1131.8h2v2h-2zM1613.3 1125h2v2h-2zM1670.1 1172h2v2h-2zM1678.4 1075.8h2v2h-2zM1703.4 1072.4h2v2h-2zM1533.2 1236.4h2v2h-2zM1705.4 1101.3h2v2h-2zM1605.4 1147.9h2v2h-2zM1608.4 1130.8h2v2h-2zM1721.5 1082.6h2v2h-2zM1602.6 1213.4h2v2h-2zM1640.4 1107.6h2v2h-2zM1668 1074.5h2v2h-2zM1577 1225h2v2h-2zM1552.9 1277h2v2h-2zM1616.4 1101h2v2h-2zM1693.7 1064.7h2v2h-2zM1570.1 1179.9h2v2h-2zM1602.3 1144.8h2v2h-2zM1598.8 1218.6h2v2h-2zM1558.1 1236.3h2v2h-2zM1578.8 1201.1h2v2h-2zM1632.4 1117.7h2v2h-2zM1536.5 1210.9h2v2h-2zM1686.3 1146.3h2v2h-2zM1619.5 1073.4h2v2h-2zM1624.8 1103h2v2h-2zM1673.9 1146.7h2v2h-2zM1559.1 1258.6h2v2h-2zM1713.1 1087.1h2v2h-2zM1703.8 1088.5h2v2h-2zM1590.1 1166.2h2v2h-2zM1692.3 1069.8h2v2h-2zM1632.6 1099.2h2v2h-2zM1676.6 1080.9h2v2h-2zM1524.5 1257.1h2v2h-2zM1625.9 1080.8h2v2h-2zM1631.6 1074.2h2v2h-2zM1530.7 1225.1h2v2h-2zM1705.8 1059.4h2v2h-2zM1588.4 1169.3h2v2h-2zM1706.8 1094.9h2v2h-2zM1578.8 1176.2h2v2h-2zM1618.4 1107.8h2v2h-2zM1638.6 1084.9h2v2h-2zM1549.7 1231.3h2v2h-2zM1585.9 1176.6h2v2h-2zM1615.9 1126.9h2v2h-2zM1578.1 1196.4h2v2h-2zM1662.1 1088.1h2v2h-2zM1705.2 1089.6h2v2h-2zM1704.3 1076.2h2v2h-2zM1549 1221h2v2h-2zM1631.9 1120.8h2v2h-2zM1669 1069.7h2v2h-2zM1554.7 1274.9h2v2h-2zM1602.9 1147.5h2v2h-2zM1667 1162.6h2v2h-2zM1642.9 1178.6h2v2h-2zM1675.4 1085.3h2v2h-2zM1623.1 1088.3h2v2h-2zM1695.9 1041.6h2v2h-2zM1541.8 1259.7h2v2h-2zM1569.9 1232.8h2v2h-2zM1680.8 1079.5h2v2h-2zM1544.7 1232.3h2v2h-2zM1626.8 1119.5h2v2h-2zM1576.2 1206.4h2v2h-2zM1594.9 1155.1h2v2h-2zM1711.6 1070.4h2v2h-2zM1602.8 1115.4h2v2h-2zM1641 1104.8h2v2h-2zM1616.3 1192.3h2v2h-2zM1539.4 1254.5h2v2h-2zM1650.7 1101.3h2v2h-2zM1661.4 1160.1h2v2h-2zM1578.8 1184.5h2v2h-2zM1626.8 1106.7h2v2h-2zM1695.8 1117.6h2v2h-2zM1577.9 1240h2v2h-2zM1617.2 1097h2v2h-2zM1618.1 1078.8h2v2h-2zM1539.2 1243.2h2v2h-2zM1705.7 1073.9h2v2h-2zM1629.8 1118.8h2v2h-2zM1630.8 1123h2v2h-2zM1651.8 1090h2v2h-2zM1677.6 1141.6h2v2h-2zM1630.1 1196.8h2v2h-2zM1720.7 1042.2h2v2h-2zM1724.7 1079.8h2v2h-2zM1543.3 1246h2v2h-2zM1599.7 1121.9h2v2h-2zM1598.5 1231.4h2v2h-2zM1593.7 1126.3h2v2h-2zM1722.2 1088.7h2v2h-2zM1560.7 1222.7h2v2h-2zM1570.6 1231.7h2v2h-2zM1571.7 1165.7h2v2h-2zM1562 1230.2h2v2h-2zM1624.2 1080.9h2v2h-2zM1707 1096.7h2v2h-2zM1585.2 1182.7h2v2h-2zM1697.6 1076.6h2v2h-2zM1671.7 1075.9h2v2h-2zM1633.8 1122.7h2v2h-2zM1601.6 1219h2v2h-2zM1703.5 1097.8h2v2h-2zM1640.4 1112.3h2v2h-2zM1631.2 1190.5h2v2h-2zM1698.6 1128.7h2v2h-2zM1626.2 1043.6h2v2h-2zM1689.2 1055.2h2v2h-2zM1683.8 1152.8h2v2h-2zM1600.9 1150h2v2h-2zM1731 1049.4h2v2h-2zM1617.3 1203.8h2v2h-2zM1723.3 1077.4h2v2h-2zM1620.7 1191.9h2v2h-2zM1660.7 1086.5h2v2h-2zM1612.2 1199.7h2v2h-2zM1691.1 1043.6h2v2h-2zM1602.8 1138.4h2v2h-2zM1634.4 1115.1h2v2h-2zM1553.4 1239.4h2v2h-2zM1570.6 1216.2h2v2h-2zM1532 1250.6h2v2h-2zM1586.3 1228.7h2v2h-2zM1643.9 1177.4h2v2h-2zM1623.4 1061.4h2v2h-2zM1712.4 1135.6h2v2h-2zM1622 1188.8h2v2h-2zM1592.1 1235.2h2v2h-2zM1624.7 1093.9h2v2h-2zM1702.1 1099.5h2v2h-2zM1640.9 1107.6h2v2h-2zM1565.1 1231h2v2h-2zM1646.1 1180.3h2v2h-2zM1615.7 1099.5h2v2h-2zM1637.7 1092.4h2v2h-2zM1600.5 1115h2v2h-2zM1554.7 1262.6h2v2h-2zM1627.7 1102.8h2v2h-2zM1700.4 1105.7h2v2h-2zM1677.3 1078.7h2v2h-2zM1597 1155.2h2v2h-2zM1687.3 1139.2h2v2h-2zM1677.7 1146h2v2h-2zM1702.9 1077.5h2v2h-2zM1652.7 1165.6h2v2h-2zM1669.8 1155.5h2v2h-2zM1715.5 1032.6h2v2h-2zM1599.4 1214.6h2v2h-2zM1623 1082h2v2h-2zM1703.5 1088.3h2v2h-2zM1627.4 1099.6h2v2h-2zM1572.3 1155.8h2v2h-2zM1644.3 1111.1h2v2h-2zM1587.7 1171.6h2v2h-2zM1583.9 1183.3h2v2h-2zM1611.9 1127.7h2v2h-2zM1554 1244h2v2h-2zM1605.6 1142.3h2v2h-2zM1518.3 1253.7h2v2h-2zM1629.5 1091h2v2h-2zM1702.2 1102.6h2v2h-2zM1648.9 1166.4h2v2h-2zM1558.5 1249.4h2v2h-2zM1630.5 1100.8h2v2h-2zM1727.1 1089.8h2v2h-2zM1566.7 1178.7h2v2h-2zM1679.9 1065.8h2v2h-2zM1710 1059.1h2v2h-2zM1580.7 1191.1h2v2h-2zM1604 1129.6h2v2h-2zM1581.2 1151.6h2v2h-2zM1599.5 1113.4h2v2h-2zM1695.8 1120.8h2v2h-2zM1733.3 1071.3h2v2h-2zM1718 1061h2v2h-2zM1587.6 1245.5h2v2h-2zM1716.5 1123.1h2v2h-2zM1653.1 1097.6h2v2h-2zM1684.8 1042.4h2v2h-2zM1588.9 1242.8h2v2h-2zM1700.6 1087.8h2v2h-2zM1639.3 1078.3h2v2h-2zM1632.2 1108.9h2v2h-2zM1687.8 1142.2h2v2h-2zM1548.7 1245.5h2v2h-2zM1629.7 1098.5h2v2h-2zM1673.1 1084.1h2v2h-2zM1547 1226.8h2v2h-2zM1604 1135.9h2v2h-2zM1708.3 1072.7h2v2h-2zM1636.8 1120.6h2v2h-2zM1618.4 1098.3h2v2h-2zM1643.9 1107.8h2v2h-2zM1629.4 1187.9h2v2h-2zM1700.4 1128h2v2h-2zM1547.8 1263.7h2v2h-2zM1682.9 1072.4h2v2h-2zM1692.7 1126.9h2v2h-2zM1716.6 1092.1h2v2h-2zM1583.9 1162.9h2v2h-2zM1578.2 1224.4h2v2h-2zM1606.2 1210.2h2v2h-2zM1622.7 1058.8h2v2h-2zM1608.6 1109.2h2v2h-2zM1555.2 1234h2v2h-2zM1601.1 1135h2v2h-2zM1703.4 1075.8h2v2h-2zM1569 1221.6h2v2h-2zM1584.4 1228.7h2v2h-2zM1750.4 1068h2v2h-2zM1562.9 1232.6h2v2h-2zM1634.7 1105.9h2v2h-2zM1690.7 1080.8h2v2h-2zM1697.9 1070.5h2v2h-2zM1684.8 1143.3h2v2h-2zM1596.3 1152h2v2h-2z" fill="#3c3cff" opacity="0.7"/>
<path d="M1712 1077 1708 1076 1706 1074 1700 1074 1697 1071 1691 1072 1687 1076 1678 1078 1671 1083 1666 1083 1665 1086 1656 1096 1649 1100 1645 1104 1641 1103 1640 1104 1640 1108 1638 1110 1632 1110 1629 1105 1629 1101 1631 1098 1631 1096 1626 1091 1624 1087 1626 1082 1624 1078 1622 1076 1621 1077 1619 1083 1619 1090 1618 1091 1619 1096 1617 1098 1617 1103 1613 1112 1614 1117 1611 1122 1604 1128 1602 1134 1602 1138 1600 1140 1594 1140 1593 1141 1593 1145 1594 1146 1593 1150 1588 1156 1587 1165 1583 1167 1582 1169 1584 1172 1584 1178 1579 1182 1578 1189 1574 1194 1574 1200 1575 1202 1570 1207 1570 1211 1574 1214 1574 1216 1572 1218 1572 1224 1573 1226 1574 1225 1577 1225 1583 1228 1585 1228 1588 1225 1593 1224 1594 1223 1594 1220 1597 1217 1600 1217 1604 1214 1605 1210 1612 1203 1613 1200 1618 1196 1621 1191 1622 1187 1624 1185 1628 1184 1630 1179 1636 1178 1639 1175 1647 1174 1656 1164 1663 1161 1667 1156 1685 1139 1690 1129 1695 1126 1696 1122 1704 1110 1704 1106 1709 1100 1709 1098 1711 1095 1710 1093 1712 1089 1710 1085 1710 1083 1713 1079Z" fill="url(#spk)" fill-rule="evenodd"/>
<path d="M1692 1090 1692 1091 1689 1093 1681 1091 1679 1093 1676 1093 1671 1098 1666 1097 1663 1102 1658 1107 1655 1108 1647 1118 1643 1120 1640 1126 1634 1131 1632 1138 1629 1141 1621 1144 1621 1146 1624 1147 1623 1149 1617 1149 1613 1152 1614 1155 1612 1157 1610 1156 1609 1153 1606 1154 1606 1156 1608 1157 1608 1159 1606 1161 1603 1159 1602 1160 1603 1163 1602 1166 1594 1174 1593 1179 1590 1181 1589 1184 1584 1190 1583 1193 1583 1198 1584 1200 1580 1207 1583 1212 1593 1213 1605 1202 1606 1198 1612 1192 1613 1187 1618 1181 1621 1180 1620 1174 1628 1168 1628 1163 1630 1161 1635 1165 1638 1165 1641 1162 1643 1162 1646 1160 1652 1160 1657 1153 1663 1151 1665 1146 1680 1133 1682 1128 1684 1127 1688 1122 1688 1119 1692 1112 1692 1109 1696 1105 1696 1092ZM1624 1145 1626 1143 1628 1145 1627 1146Z" fill="url(#spk2)" fill-rule="evenodd"/>
<path d="M1611 1167 1608 1167 1606 1169 1606 1171 1602 1175 1599 1176 1597 1181 1592 1186 1591 1191 1587 1194 1587 1196 1592 1203 1601 1200 1602 1197 1608 1191 1608 1187 1614 1174ZM1687 1107 1685 1105 1681 1104 1677 1100 1675 1101 1672 1105 1670 1106 1668 1105 1664 1108 1658 1110 1656 1113 1656 1115 1652 1118 1651 1122 1647 1125 1639 1134 1636 1140 1635 1150 1632 1153 1633 1156 1635 1156 1638 1153 1645 1153 1649 1151 1658 1150 1674 1134 1675 1131 1677 1130 1679 1124 1684 1118 1684 1115 1687 1111Z" fill="#3aa8ff" fill-rule="evenodd"/>
<path d="M1602 1181 1595 1187 1598 1191 1598 1194 1598 1192 1603 1184ZM1677 1112 1675 1112 1673 1114 1661 1113 1658 1121 1650 1128 1644 1138 1644 1142 1646 1146 1651 1148 1657 1148 1670 1136 1672 1129 1675 1126 1675 1121 1677 1119 1677 1115 1678 1114Z" fill="#8cf05a" fill-rule="evenodd"/>
<path d="M1667 1127 1665 1126 1660 1126 1658 1127 1651 1134 1649 1140 1652 1143 1658 1143 1660 1142 1667 1134 1667 1131 1668 1130Z" fill="#e8e838" fill-rule="evenodd"/>
<path d="M1665 1129 1660 1128 1653 1134 1651 1137 1651 1139 1653 1141 1659 1141 1665 1134Z" fill="#ff9020" fill-rule="evenodd"/>
<path d="M1662 1130 1658 1131 1654 1135 1653 1137 1654 1140 1657 1140 1662 1136 1663 1134 1663 1131Z" fill="#e83010" fill-rule="evenodd"/></g>
<path d="M1435.6 997.5V1325.3H1763.9" fill="none" stroke="#9a9a9a" stroke-width="2.2"/>
<path d="M1431.6 1325.3h4M1435.6 1325.3v4M1433.6 1308.9h2M1452 1325.3v2M1433.6 1299.2h2M1461.7 1325.3v2M1433.6 1292.4h2M1468.5 1325.3v2M1433.6 1287.1h2M1473.8 1325.3v2M1433.6 1282.8h2M1478.1 1325.3v2M1433.6 1279.1h2M1481.8 1325.3v2M1433.6 1276h2M1484.9 1325.3v2M1433.6 1273.2h2M1487.7 1325.3v2M1431.6 1270.7h4M1490.2 1325.3v4M1433.6 1254.2h2M1506.7 1325.3v2M1433.6 1244.6h2M1516.3 1325.3v2M1433.6 1237.8h2M1523.1 1325.3v2M1433.6 1232.5h2M1528.4 1325.3v2M1433.6 1228.2h2M1532.7 1325.3v2M1433.6 1224.5h2M1536.4 1325.3v2M1433.6 1221.3h2M1539.6 1325.3v2M1433.6 1218.5h2M1542.4 1325.3v2M1431.6 1216h4M1544.9 1325.3v4M1433.6 1199.6h2M1561.3 1325.3v2M1433.6 1190h2M1570.9 1325.3v2M1433.6 1183.1h2M1577.8 1325.3v2M1433.6 1177.9h2M1583 1325.3v2M1433.6 1173.5h2M1587.4 1325.3v2M1433.6 1169.9h2M1591 1325.3v2M1433.6 1166.7h2M1594.2 1325.3v2M1433.6 1163.9h2M1597 1325.3v2M1431.6 1161.4h4M1599.5 1325.3v4M1433.6 1145h2M1615.9 1325.3v2M1433.6 1135.3h2M1625.6 1325.3v2M1433.6 1128.5h2M1632.4 1325.3v2M1433.6 1123.2h2M1637.7 1325.3v2M1433.6 1118.9h2M1642 1325.3v2M1433.6 1115.2h2M1645.7 1325.3v2M1433.6 1112.1h2M1648.8 1325.3v2M1433.6 1109.3h2M1651.6 1325.3v2M1431.6 1106.8h4M1654.1 1325.3v4M1433.6 1090.3h2M1670.6 1325.3v2M1433.6 1080.7h2M1680.2 1325.3v2M1433.6 1073.9h2M1687 1325.3v2M1433.6 1068.6h2M1692.3 1325.3v2M1433.6 1064.3h2M1696.6 1325.3v2M1433.6 1060.6h2M1700.3 1325.3v2M1433.6 1057.4h2M1703.5 1325.3v2M1433.6 1054.6h2M1706.3 1325.3v2M1431.6 1052.1h4M1708.8 1325.3v4M1433.6 1035.7h2M1725.2 1325.3v2M1433.6 1026.1h2M1734.8 1325.3v2M1433.6 1019.3h2M1741.6 1325.3v2M1433.6 1014h2M1746.9 1325.3v2M1433.6 1009.6h2M1751.3 1325.3v2M1433.6 1006h2M1754.9 1325.3v2M1433.6 1002.8h2M1758.1 1325.3v2M1433.6 1000h2M1760.9 1325.3v2M1431.6 997.5h4M1763.4 1325.3v4" stroke="#555" stroke-width="1.3" fill="none"/>
<g font-size="6.5" style="font-weight:normal" fill="#444"><text transform="translate(1423.1,1322.8) rotate(-35)" text-anchor="middle">10<tspan dy="-3" font-size="5">1</tspan></text><text transform="translate(1434.1,1337.3) rotate(-35)" text-anchor="middle">10<tspan dy="-3" font-size="5">1</tspan></text><text transform="translate(1423.1,1268.2) rotate(-35)" text-anchor="middle">10<tspan dy="-3" font-size="5">2</tspan></text><text transform="translate(1488.7,1337.3) rotate(-35)" text-anchor="middle">10<tspan dy="-3" font-size="5">2</tspan></text><text transform="translate(1423.1,1213.5) rotate(-35)" text-anchor="middle">10<tspan dy="-3" font-size="5">3</tspan></text><text transform="translate(1543.4,1337.3) rotate(-35)" text-anchor="middle">10<tspan dy="-3" font-size="5">3</tspan></text><text transform="translate(1423.1,1158.9) rotate(-35)" text-anchor="middle">10<tspan dy="-3" font-size="5">4</tspan></text><text transform="translate(1598,1337.3) rotate(-35)" text-anchor="middle">10<tspan dy="-3" font-size="5">4</tspan></text><text transform="translate(1423.1,1104.3) rotate(-35)" text-anchor="middle">10<tspan dy="-3" font-size="5">5</tspan></text><text transform="translate(1652.6,1337.3) rotate(-35)" text-anchor="middle">10<tspan dy="-3" font-size="5">5</tspan></text><text transform="translate(1423.1,1049.6) rotate(-35)" text-anchor="middle">10<tspan dy="-3" font-size="5">6</tspan></text><text transform="translate(1707.2,1337.3) rotate(-35)" text-anchor="middle">10<tspan dy="-3" font-size="5">6</tspan></text><text transform="translate(1423.1,995) rotate(-35)" text-anchor="middle">10<tspan dy="-3" font-size="5">7</tspan></text><text transform="translate(1761.9,1337.3) rotate(-35)" text-anchor="middle">10<tspan dy="-3" font-size="5">7</tspan></text></g>
<path d="M1625.3 997.5V1325.3M1435.6 1099.7H1763.9" stroke="#3a3a3a" stroke-width="2.3" fill="none"/>
<g font-size="13.8" fill="#1c1c1c" style="font-weight:normal"><text x="1440.9" y="1023.2" style="font-weight:normal">Q1</text><text x="1440.9" y="1043.6" style="font-weight:normal">0.20</text><text x="1736.1" y="1023.2" text-anchor="end" style="font-weight:normal">Q2</text><text x="1736.1" y="1043.6" text-anchor="end" style="font-weight:normal">3.39</text><text x="1440.9" y="1287" style="font-weight:normal">Q4</text><text x="1440.9" y="1307.8" style="font-weight:normal">21.4</text><text x="1736.1" y="1287" text-anchor="end" style="font-weight:normal">Q3</text><text x="1736.1" y="1307.8" text-anchor="end" style="font-weight:normal">75.0</text></g>
<path d="M11.5 1012V1358.8H1756" stroke="#878787" stroke-width="6.4" fill="none"/>
<path d="M11.7 997.5L3.6 1015.2H19.8Z" fill="#878787"/>
<path d="M1769 1359L1754.6 1350.2V1368.2Z" fill="#878787"/>
<text x="26" y="1024.5" font-size="40">(d)</text>
<text transform="translate(45.5,1176.5) rotate(-90)" text-anchor="middle" font-size="36">PI</text>
<text x="779.5" y="1353" font-size="33" textLength="261" lengthAdjust="spacingAndGlyphs">Annexin V-FITC</text>
</svg></div></body></html>
